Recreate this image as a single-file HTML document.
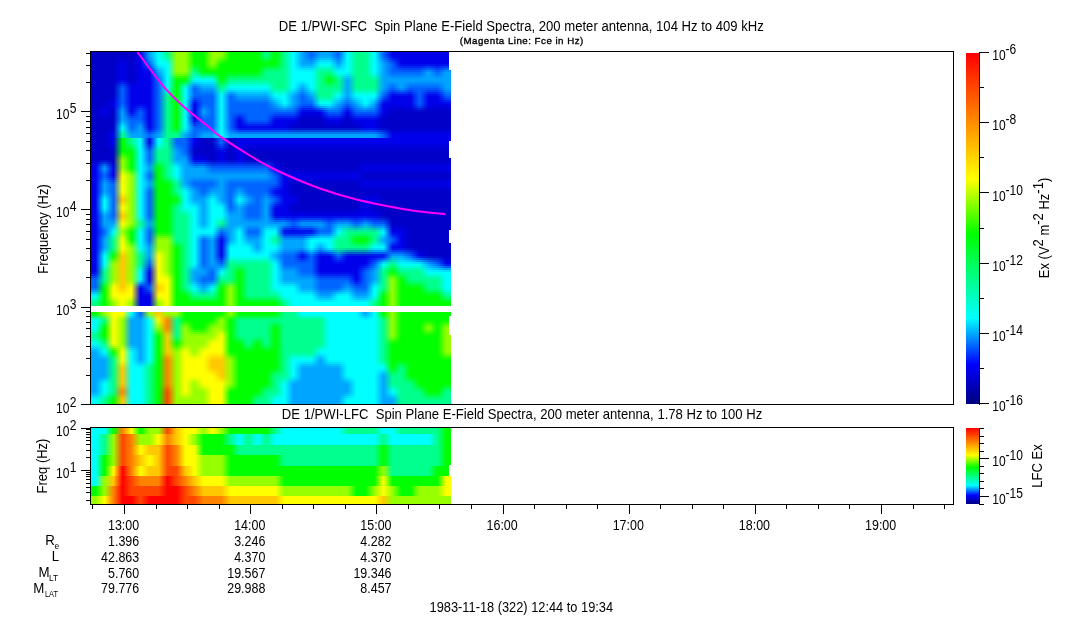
<!DOCTYPE html><html><head><meta charset="utf-8"><style>
html,body{margin:0;padding:0;background:#fff;width:1083px;height:620px;overflow:hidden}
svg{position:absolute;left:0;top:0;will-change:transform}
text{font-family:"Liberation Sans",sans-serif;fill:#000}
.r{position:absolute;left:91px;width:360px;height:2px}
.q{position:absolute;left:91px;width:360px}
.w{position:absolute;background:#fff}
</style></head><body>

<i class="r" style="top:52px;background:linear-gradient(90deg,#0000c8 4.5px,#0000c8 13.5px,#0000c8 22.5px,#0000c8 31.5px,#0000c8 40.5px,#0000eb 49.5px,#00a5ff 58.5px,#00ffff 67.5px,#00ff8c 76.5px,#96ff00 85.5px,#96ff00 94.5px,#00ff00 103.5px,#00ff00 112.5px,#96ff00 121.5px,#96ff00 130.5px,#00ff00 139.5px,#00ff00 148.5px,#00ff00 157.5px,#00ff00 166.5px,#00ff8c 175.5px,#00ff00 184.5px,#00ff8c 193.5px,#00ffff 202.5px,#00a5ff 211.5px,#0064ff 220.5px,#00a5ff 229.5px,#00a5ff 238.5px,#0064ff 247.5px,#00ffff 256.5px,#00ff8c 265.5px,#00ff8c 274.5px,#00ffff 283.5px,#0064ff 292.5px,#0000eb 301.5px,#0000eb 310.5px,#0000eb 319.5px,#0000eb 328.5px,#0000eb 337.5px,#0000eb 346.5px,#0000eb 355.5px)"></i>
<i class="r" style="top:54px;background:linear-gradient(90deg,#0000c8 4.5px,#0000c8 13.5px,#0000c8 22.5px,#0000c8 31.5px,#0000c8 40.5px,#0000eb 49.5px,#00a5ff 58.5px,#00ffff 67.5px,#00ff8c 76.5px,#96ff00 85.5px,#96ff00 94.5px,#00ff00 103.5px,#00ff00 112.5px,#96ff00 121.5px,#96ff00 130.5px,#00ff00 139.5px,#00ff00 148.5px,#00ff00 157.5px,#00ff00 166.5px,#00ff8c 175.5px,#00ff00 184.5px,#00ff8c 193.5px,#00ffff 202.5px,#00a5ff 211.5px,#0064ff 220.5px,#00a5ff 229.5px,#00a5ff 238.5px,#0064ff 247.5px,#00ffff 256.5px,#00ff8c 265.5px,#00ff8c 274.5px,#00ffff 283.5px,#0064ff 292.5px,#0000eb 301.5px,#0000eb 310.5px,#0000eb 319.5px,#0000eb 328.5px,#0000eb 337.5px,#0000eb 346.5px,#0000eb 355.5px)"></i>
<i class="r" style="top:56px;background:linear-gradient(90deg,#0000c8 4.5px,#0000c8 13.5px,#0000c8 22.5px,#0000cc 31.5px,#0000c8 40.5px,#0000eb 49.5px,#009dff 58.5px,#00ffff 67.5px,#00ff9a 76.5px,#96ff00 85.5px,#96ff00 94.5px,#00ff00 103.5px,#00ff00 112.5px,#96ff00 121.5px,#83ff00 130.5px,#00ff00 139.5px,#00ff00 148.5px,#00ff00 157.5px,#00ff00 166.5px,#00ff7a 175.5px,#00ff00 184.5px,#00ff8c 193.5px,#00ffff 202.5px,#00a5ff 211.5px,#006cff 220.5px,#00b0ff 229.5px,#00b0ff 238.5px,#006cff 247.5px,#00ffff 256.5px,#00ff8c 265.5px,#00ff8c 274.5px,#00ffff 283.5px,#006cff 292.5px,#000cee 301.5px,#0000eb 310.5px,#0000eb 319.5px,#0000eb 328.5px,#0000eb 337.5px,#0000eb 346.5px,#0000eb 355.5px)"></i>
<i class="r" style="top:58px;background:linear-gradient(90deg,#0000c8 4.5px,#0000c8 13.5px,#0000c8 22.5px,#0000d5 31.5px,#0000c8 40.5px,#0000eb 49.5px,#008dff 58.5px,#00ffff 67.5px,#00ffb7 76.5px,#96ff00 85.5px,#96ff00 94.5px,#00ff00 103.5px,#00ff00 112.5px,#96ff00 121.5px,#5eff00 130.5px,#00ff00 139.5px,#00ff00 148.5px,#00ff00 157.5px,#00ff00 166.5px,#00ff58 175.5px,#00ff00 184.5px,#00ff8c 193.5px,#00ffff 202.5px,#00a5ff 211.5px,#007cff 220.5px,#00c7ff 229.5px,#00c7ff 238.5px,#007cff 247.5px,#00ffff 256.5px,#00ff8c 265.5px,#00ff8c 274.5px,#00ffff 283.5px,#007cff 292.5px,#0026f2 301.5px,#0000eb 310.5px,#0000eb 319.5px,#0000eb 328.5px,#0000eb 337.5px,#0000eb 346.5px,#0000eb 355.5px)"></i>
<i class="r" style="top:60px;background:linear-gradient(90deg,#0000c8 4.5px,#0000c8 13.5px,#0000c8 22.5px,#0000de 31.5px,#0000c8 40.5px,#0000eb 49.5px,#007cff 58.5px,#00ffff 67.5px,#00ffd4 76.5px,#96ff00 85.5px,#96ff00 94.5px,#00ff00 103.5px,#00ff00 112.5px,#96ff00 121.5px,#38ff00 130.5px,#00ff00 139.5px,#00ff00 148.5px,#00ff00 157.5px,#00ff00 166.5px,#00ff34 175.5px,#00ff00 184.5px,#00ff8c 193.5px,#00ffff 202.5px,#00a5ff 211.5px,#008dff 220.5px,#00ddff 229.5px,#00ddff 238.5px,#008dff 247.5px,#00ffff 256.5px,#00ff8c 265.5px,#00ff8c 274.5px,#00ffff 283.5px,#008dff 292.5px,#003ef8 301.5px,#0000eb 310.5px,#0000eb 319.5px,#0000eb 328.5px,#0000eb 337.5px,#0000eb 346.5px,#0000eb 355.5px)"></i>
<i class="r" style="top:62px;background:linear-gradient(90deg,#0000c8 4.5px,#0000c8 13.5px,#0000c8 22.5px,#0000e7 31.5px,#0000c8 40.5px,#0000eb 49.5px,#006cff 58.5px,#00ffff 67.5px,#00fff1 76.5px,#96ff00 85.5px,#96ff00 94.5px,#00ff00 103.5px,#00ff00 112.5px,#96ff00 121.5px,#13ff00 130.5px,#00ff00 139.5px,#00ff00 148.5px,#00ff00 157.5px,#00ff00 166.5px,#00ff12 175.5px,#00ff00 184.5px,#00ff8c 193.5px,#00ffff 202.5px,#00a5ff 211.5px,#009dff 220.5px,#00f4ff 229.5px,#00f4ff 238.5px,#009dff 247.5px,#00ffff 256.5px,#00ff8c 265.5px,#00ff8c 274.5px,#00ffff 283.5px,#009dff 292.5px,#0058fc 301.5px,#0000eb 310.5px,#0000eb 319.5px,#0000eb 328.5px,#0000eb 337.5px,#0000eb 346.5px,#0000eb 355.5px)"></i>
<i class="r" style="top:64px;background:linear-gradient(90deg,#0000c8 4.5px,#0000c8 13.5px,#0000c8 22.5px,#0000eb 31.5px,#0000c8 40.5px,#0000eb 49.5px,#0058fc 58.5px,#00f4ff 67.5px,#00ffff 76.5px,#96ff00 85.5px,#96ff00 94.5px,#00ff12 103.5px,#00ff00 112.5px,#83ff00 121.5px,#00ff00 130.5px,#00ff00 139.5px,#00ff00 148.5px,#00ff00 157.5px,#00ff00 166.5px,#00ff12 175.5px,#00ff12 184.5px,#00ff8c 193.5px,#00ffff 202.5px,#00b0ff 211.5px,#00b0ff 220.5px,#00fff1 229.5px,#00fff1 238.5px,#00b0ff 247.5px,#00ffff 256.5px,#00ff8c 265.5px,#00ff8c 274.5px,#00ffff 283.5px,#00a5ff 292.5px,#0064ff 301.5px,#000cee 310.5px,#000cee 319.5px,#000cee 328.5px,#0015ee 337.5px,#000cee 346.5px,#0015ee 355.5px)"></i>
<i class="r" style="top:66px;background:linear-gradient(90deg,#0000c8 4.5px,#0000c8 13.5px,#0000c8 22.5px,#0000eb 31.5px,#0000c8 40.5px,#0000eb 49.5px,#003ef8 58.5px,#00ddff 67.5px,#00ffff 76.5px,#96ff00 85.5px,#96ff00 94.5px,#00ff34 103.5px,#00ff00 112.5px,#5eff00 121.5px,#00ff00 130.5px,#00ff00 139.5px,#00ff00 148.5px,#00ff00 157.5px,#00ff00 166.5px,#00ff34 175.5px,#00ff34 184.5px,#00ff8c 193.5px,#00ffff 202.5px,#00c7ff 211.5px,#00c7ff 220.5px,#00ffd4 229.5px,#00ffd4 238.5px,#00c7ff 247.5px,#00ffff 256.5px,#00ff8c 265.5px,#00ff8c 274.5px,#00ffff 283.5px,#00a5ff 292.5px,#0064ff 301.5px,#0026f2 310.5px,#0026f2 319.5px,#0026f2 328.5px,#003ef2 337.5px,#0026f2 346.5px,#003ef2 355.5px)"></i>
<i class="r" style="top:68px;background:linear-gradient(90deg,#0000c8 4.5px,#0000c8 13.5px,#0000c8 22.5px,#0000eb 31.5px,#0000c8 40.5px,#0000eb 49.5px,#0026f2 58.5px,#00c7ff 67.5px,#00ffff 76.5px,#96ff00 85.5px,#96ff00 94.5px,#00ff58 103.5px,#00ff00 112.5px,#38ff00 121.5px,#00ff00 130.5px,#00ff00 139.5px,#00ff00 148.5px,#00ff00 157.5px,#00ff00 166.5px,#00ff58 175.5px,#00ff58 184.5px,#00ff8c 193.5px,#00ffff 202.5px,#00ddff 211.5px,#00ddff 220.5px,#00ffb7 229.5px,#00ffb7 238.5px,#00ddff 247.5px,#00ffff 256.5px,#00ff8c 265.5px,#00ff8c 274.5px,#00ffff 283.5px,#00a5ff 292.5px,#0064ff 301.5px,#003ef8 310.5px,#003ef8 319.5px,#003ef8 328.5px,#0067f8 337.5px,#003ef8 346.5px,#0067f8 355.5px)"></i>
<i class="r" style="top:70px;background:linear-gradient(90deg,#0000c8 4.5px,#0000c8 13.5px,#0000c8 22.5px,#0000eb 31.5px,#0000c8 40.5px,#0000eb 49.5px,#000cee 58.5px,#00b0ff 67.5px,#00ffff 76.5px,#96ff00 85.5px,#96ff00 94.5px,#00ff7a 103.5px,#00ff00 112.5px,#13ff00 121.5px,#00ff00 130.5px,#00ff00 139.5px,#00ff00 148.5px,#00ff00 157.5px,#00ff00 166.5px,#00ff7a 175.5px,#00ff7a 184.5px,#00ff8c 193.5px,#00ffff 202.5px,#00f4ff 211.5px,#00f4ff 220.5px,#00ff9a 229.5px,#00ff9a 238.5px,#00f4ff 247.5px,#00ffff 256.5px,#00ff8c 265.5px,#00ff8c 274.5px,#00ffff 283.5px,#00a5ff 292.5px,#0064ff 301.5px,#0058fc 310.5px,#0058fc 319.5px,#0058fc 328.5px,#0090fc 337.5px,#0058fc 346.5px,#0090fc 355.5px)"></i>
<i class="r" style="top:72px;background:linear-gradient(90deg,#0000c8 4.5px,#0000c8 13.5px,#0000c8 22.5px,#0000eb 31.5px,#0000c8 40.5px,#0000eb 49.5px,#0000eb 58.5px,#009dff 67.5px,#00ffff 76.5px,#83ff00 85.5px,#83ff00 94.5px,#00ff9a 103.5px,#00ff20 112.5px,#00ff20 121.5px,#00ff00 130.5px,#00ff12 139.5px,#00ff12 148.5px,#00ff12 157.5px,#00ff12 166.5px,#00ff8c 175.5px,#00ff8c 184.5px,#00ff8c 193.5px,#00ffff 202.5px,#00ffff 211.5px,#00ffff 220.5px,#00ff8c 229.5px,#00ff7a 238.5px,#00fff1 247.5px,#00f4ff 256.5px,#00ff8c 265.5px,#00ff8c 274.5px,#00fff1 283.5px,#00a5ff 292.5px,#006cff 301.5px,#006cff 310.5px,#006cff 319.5px,#006cff 328.5px,#00a5ff 337.5px,#006cff 346.5px,#00a5ff 355.5px)"></i>
<i class="r" style="top:74px;background:linear-gradient(90deg,#0000c8 4.5px,#0000c8 13.5px,#0000c8 22.5px,#0000eb 31.5px,#0000c8 40.5px,#0000eb 49.5px,#0000eb 58.5px,#008dff 67.5px,#00ffff 76.5px,#5eff00 85.5px,#5eff00 94.5px,#00ffb7 103.5px,#00ff60 112.5px,#00ff60 121.5px,#00ff00 130.5px,#00ff34 139.5px,#00ff34 148.5px,#00ff34 157.5px,#00ff34 166.5px,#00ff8c 175.5px,#00ff8c 184.5px,#00ff8c 193.5px,#00ffff 202.5px,#00ffff 211.5px,#00ffff 220.5px,#00ff8c 229.5px,#00ff58 238.5px,#00ffd4 247.5px,#00ddff 256.5px,#00ff8c 265.5px,#00ff8c 274.5px,#00ffd4 283.5px,#00a5ff 292.5px,#007cff 301.5px,#007cff 310.5px,#007cff 319.5px,#007cff 328.5px,#00a5ff 337.5px,#007cff 346.5px,#00a5ff 355.5px)"></i>
<i class="r" style="top:76px;background:linear-gradient(90deg,#0000c8 4.5px,#0000c8 13.5px,#0000c8 22.5px,#0000eb 31.5px,#0000c8 40.5px,#0000eb 49.5px,#0000eb 58.5px,#007cff 67.5px,#00ffff 76.5px,#38ff00 85.5px,#38ff00 94.5px,#00ffd4 103.5px,#00ff9f 112.5px,#00ff9f 121.5px,#00ff00 130.5px,#00ff58 139.5px,#00ff58 148.5px,#00ff58 157.5px,#00ff58 166.5px,#00ff8c 175.5px,#00ff8c 184.5px,#00ff8c 193.5px,#00ffff 202.5px,#00ffff 211.5px,#00ffff 220.5px,#00ff8c 229.5px,#00ff34 238.5px,#00ffb7 247.5px,#00c7ff 256.5px,#00ff8c 265.5px,#00ff8c 274.5px,#00ffb7 283.5px,#00a5ff 292.5px,#008dff 301.5px,#008dff 310.5px,#008dff 319.5px,#008dff 328.5px,#00a5ff 337.5px,#008dff 346.5px,#00a5ff 355.5px)"></i>
<i class="r" style="top:78px;background:linear-gradient(90deg,#0000c8 4.5px,#0000c8 13.5px,#0000c8 22.5px,#0000eb 31.5px,#0000c8 40.5px,#0000eb 49.5px,#0000eb 58.5px,#006cff 67.5px,#00ffff 76.5px,#13ff00 85.5px,#13ff00 94.5px,#00fff1 103.5px,#00ffdf 112.5px,#00ffdf 121.5px,#00ff00 130.5px,#00ff7a 139.5px,#00ff7a 148.5px,#00ff7a 157.5px,#00ff7a 166.5px,#00ff8c 175.5px,#00ff8c 184.5px,#00ff8c 193.5px,#00ffff 202.5px,#00ffff 211.5px,#00ffff 220.5px,#00ff8c 229.5px,#00ff12 238.5px,#00ff9a 247.5px,#00b0ff 256.5px,#00ff8c 265.5px,#00ff8c 274.5px,#00ff9a 283.5px,#00a5ff 292.5px,#009dff 301.5px,#009dff 310.5px,#009dff 319.5px,#009dff 328.5px,#00a5ff 337.5px,#009dff 346.5px,#00a5ff 355.5px)"></i>
<i class="r" style="top:80px;background:linear-gradient(90deg,#0000c8 4.5px,#0000c8 13.5px,#0000c8 22.5px,#000cee 31.5px,#0000cc 40.5px,#0000eb 49.5px,#0000eb 58.5px,#0064ff 67.5px,#00ffff 76.5px,#00ff00 85.5px,#00ff20 94.5px,#00ecff 103.5px,#00f4ff 112.5px,#00f4ff 121.5px,#00ff12 130.5px,#00ff9a 139.5px,#00ff9a 148.5px,#00ff9a 157.5px,#00ff9a 166.5px,#00ff9a 175.5px,#00ff8c 184.5px,#00ff8c 193.5px,#00ffff 202.5px,#00f4ff 211.5px,#00ffff 220.5px,#00ff8c 229.5px,#00ff12 238.5px,#00ff8c 247.5px,#00a5ff 256.5px,#00ff8c 265.5px,#00ff8c 274.5px,#00ff8c 283.5px,#00a5ff 292.5px,#009dff 301.5px,#00a5ff 310.5px,#009dff 319.5px,#009dff 328.5px,#009dff 337.5px,#009dff 346.5px,#00a5ff 355.5px)"></i>
<i class="r" style="top:82px;background:linear-gradient(90deg,#0000c8 4.5px,#0000c8 13.5px,#0000c8 22.5px,#0026f2 31.5px,#0000d5 40.5px,#0000eb 49.5px,#0000eb 58.5px,#0064ff 67.5px,#00ffff 76.5px,#00ff00 85.5px,#00ff60 94.5px,#00c5ff 103.5px,#00ddff 112.5px,#00ddff 121.5px,#00ff34 130.5px,#00ffb7 139.5px,#00ffb7 148.5px,#00ffb7 157.5px,#00ffb7 166.5px,#00ffb7 175.5px,#00ff8c 184.5px,#00ff8c 193.5px,#00ffff 202.5px,#00ddff 211.5px,#00ffff 220.5px,#00ff8c 229.5px,#00ff34 238.5px,#00ff8c 247.5px,#00a5ff 256.5px,#00ff8c 265.5px,#00ff8c 274.5px,#00ff8c 283.5px,#00a5ff 292.5px,#008dff 301.5px,#00a5ff 310.5px,#008dff 319.5px,#008dff 328.5px,#008dff 337.5px,#008dff 346.5px,#00a5ff 355.5px)"></i>
<i class="r" style="top:84px;background:linear-gradient(90deg,#0000c8 4.5px,#0000c8 13.5px,#0000c8 22.5px,#003ef8 31.5px,#0000de 40.5px,#0000eb 49.5px,#0000eb 58.5px,#0064ff 67.5px,#00ffff 76.5px,#00ff00 85.5px,#00ff9f 94.5px,#009eff 103.5px,#00c7ff 112.5px,#00c7ff 121.5px,#00ff58 130.5px,#00ffd4 139.5px,#00ffd4 148.5px,#00ffd4 157.5px,#00ffd4 166.5px,#00ffd4 175.5px,#00ff8c 184.5px,#00ff8c 193.5px,#00ffff 202.5px,#00c7ff 211.5px,#00ffff 220.5px,#00ff8c 229.5px,#00ff58 238.5px,#00ff8c 247.5px,#00a5ff 256.5px,#00ff8c 265.5px,#00ff8c 274.5px,#00ff8c 283.5px,#00a5ff 292.5px,#007cff 301.5px,#00a5ff 310.5px,#007cff 319.5px,#007cff 328.5px,#007cff 337.5px,#007cff 346.5px,#00a5ff 355.5px)"></i>
<i class="r" style="top:86px;background:linear-gradient(90deg,#0000c8 4.5px,#0000c8 13.5px,#0000c8 22.5px,#0058fc 31.5px,#0000e7 40.5px,#0000eb 49.5px,#0000eb 58.5px,#0064ff 67.5px,#00ffff 76.5px,#00ff00 85.5px,#00ffdf 94.5px,#0077ff 103.5px,#00b0ff 112.5px,#00b0ff 121.5px,#00ff7a 130.5px,#00fff1 139.5px,#00fff1 148.5px,#00fff1 157.5px,#00fff1 166.5px,#00fff1 175.5px,#00ff8c 184.5px,#00ff8c 193.5px,#00ffff 202.5px,#00b0ff 211.5px,#00ffff 220.5px,#00ff8c 229.5px,#00ff7a 238.5px,#00ff8c 247.5px,#00a5ff 256.5px,#00ff8c 265.5px,#00ff8c 274.5px,#00ff8c 283.5px,#00a5ff 292.5px,#006cff 301.5px,#00a5ff 310.5px,#006cff 319.5px,#006cff 328.5px,#006cff 337.5px,#006cff 346.5px,#00a5ff 355.5px)"></i>
<i class="r" style="top:88px;background:linear-gradient(90deg,#0000c8 4.5px,#0000c8 13.5px,#0000c8 22.5px,#0064ff 31.5px,#0000eb 40.5px,#0000eb 49.5px,#0000eb 58.5px,#0064ff 67.5px,#00fff1 76.5px,#00ff00 85.5px,#00ffff 94.5px,#0064ff 103.5px,#009dff 112.5px,#009dff 121.5px,#00ff9a 130.5px,#00ecff 139.5px,#00f4ff 148.5px,#00f4ff 157.5px,#00f4ff 166.5px,#00f4ff 175.5px,#00ff9a 184.5px,#00ff9a 193.5px,#00f4ff 202.5px,#009dff 211.5px,#00f4ff 220.5px,#00ff8c 229.5px,#00ff8c 238.5px,#00ff9a 247.5px,#00a5ff 256.5px,#00ff9a 265.5px,#00ff9a 274.5px,#00ff9a 283.5px,#009dff 292.5px,#0058fc 301.5px,#0090fc 310.5px,#0058fc 319.5px,#0064ff 328.5px,#0058fc 337.5px,#0058fc 346.5px,#009dff 355.5px)"></i>
<i class="r" style="top:90px;background:linear-gradient(90deg,#0000c8 4.5px,#0000c8 13.5px,#0000c8 22.5px,#0064ff 31.5px,#0000eb 40.5px,#0000eb 49.5px,#0000eb 58.5px,#0064ff 67.5px,#00ffd4 76.5px,#00ff00 85.5px,#00ffff 94.5px,#0064ff 103.5px,#008dff 112.5px,#008dff 121.5px,#00ffb7 130.5px,#00c5ff 139.5px,#00ddff 148.5px,#00ddff 157.5px,#00ddff 166.5px,#00ddff 175.5px,#00ffb7 184.5px,#00ffb7 193.5px,#00ddff 202.5px,#008dff 211.5px,#00ddff 220.5px,#00ff8c 229.5px,#00ff8c 238.5px,#00ffb7 247.5px,#00a5ff 256.5px,#00ffb7 265.5px,#00ffb7 274.5px,#00ffb7 283.5px,#008dff 292.5px,#003ef8 301.5px,#0067f8 310.5px,#003ef8 319.5px,#0064ff 328.5px,#003ef8 337.5px,#003ef8 346.5px,#008dff 355.5px)"></i>
<i class="r" style="top:92px;background:linear-gradient(90deg,#0000c8 4.5px,#0000c8 13.5px,#0000c8 22.5px,#0064ff 31.5px,#0000eb 40.5px,#0000eb 49.5px,#0000eb 58.5px,#0064ff 67.5px,#00ffb7 76.5px,#00ff00 85.5px,#00ffff 94.5px,#0064ff 103.5px,#007cff 112.5px,#007cff 121.5px,#00ffd4 130.5px,#009eff 139.5px,#00c7ff 148.5px,#00c7ff 157.5px,#00c7ff 166.5px,#00c7ff 175.5px,#00ffd4 184.5px,#00ffd4 193.5px,#00c7ff 202.5px,#007cff 211.5px,#00c7ff 220.5px,#00ff8c 229.5px,#00ff8c 238.5px,#00ffd4 247.5px,#00a5ff 256.5px,#00ffd4 265.5px,#00ffd4 274.5px,#00ffd4 283.5px,#007cff 292.5px,#0026f2 301.5px,#003ef2 310.5px,#0026f2 319.5px,#0064ff 328.5px,#0026f2 337.5px,#0026f2 346.5px,#007cff 355.5px)"></i>
<i class="r" style="top:94px;background:linear-gradient(90deg,#0000c8 4.5px,#0000c8 13.5px,#0000c8 22.5px,#0064ff 31.5px,#0000eb 40.5px,#0000eb 49.5px,#0000eb 58.5px,#0064ff 67.5px,#00ff9a 76.5px,#00ff00 85.5px,#00ffff 94.5px,#0064ff 103.5px,#006cff 112.5px,#006cff 121.5px,#00fff1 130.5px,#0077ff 139.5px,#00b0ff 148.5px,#00b0ff 157.5px,#00b0ff 166.5px,#00b0ff 175.5px,#00fff1 184.5px,#00fff1 193.5px,#00b0ff 202.5px,#006cff 211.5px,#00b0ff 220.5px,#00ff8c 229.5px,#00ff8c 238.5px,#00fff1 247.5px,#00a5ff 256.5px,#00fff1 265.5px,#00fff1 274.5px,#00fff1 283.5px,#006cff 292.5px,#000cee 301.5px,#0015ee 310.5px,#000cee 319.5px,#0064ff 328.5px,#000cee 337.5px,#000cee 346.5px,#006cff 355.5px)"></i>
<i class="r" style="top:96px;background:linear-gradient(90deg,#0000c8 4.5px,#0000c8 13.5px,#0000cc 22.5px,#0064ff 31.5px,#0000eb 40.5px,#0000eb 49.5px,#0000eb 58.5px,#0064ff 67.5px,#00ff8c 76.5px,#00ff00 85.5px,#00ffff 94.5px,#0058fc 103.5px,#0064ff 112.5px,#0064ff 121.5px,#00ffff 130.5px,#0064ff 139.5px,#009dff 148.5px,#009dff 157.5px,#009dff 166.5px,#009dff 175.5px,#00f4ff 184.5px,#00ffff 193.5px,#00a5ff 202.5px,#0064ff 211.5px,#009dff 220.5px,#00ff9a 229.5px,#00ff9a 238.5px,#00f4ff 247.5px,#009dff 256.5px,#00f4ff 265.5px,#00ffff 274.5px,#00f4ff 283.5px,#0058fc 292.5px,#0000eb 301.5px,#0000eb 310.5px,#0000eb 319.5px,#0064ff 328.5px,#0000eb 337.5px,#0000eb 346.5px,#0058fc 355.5px)"></i>
<i class="r" style="top:98px;background:linear-gradient(90deg,#0000c8 4.5px,#0000c8 13.5px,#0000d5 22.5px,#0064ff 31.5px,#0000eb 40.5px,#0000eb 49.5px,#0000eb 58.5px,#0064ff 67.5px,#00ff8c 76.5px,#00ff00 85.5px,#00ffff 94.5px,#003ef8 103.5px,#0064ff 112.5px,#0064ff 121.5px,#00ffff 130.5px,#0064ff 139.5px,#008dff 148.5px,#008dff 157.5px,#008dff 166.5px,#008dff 175.5px,#00ddff 184.5px,#00ffff 193.5px,#00a5ff 202.5px,#0064ff 211.5px,#008dff 220.5px,#00ffb7 229.5px,#00ffb7 238.5px,#00ddff 247.5px,#008dff 256.5px,#00ddff 265.5px,#00ffff 274.5px,#00ddff 283.5px,#003ef8 292.5px,#0000eb 301.5px,#0000eb 310.5px,#0000eb 319.5px,#0064ff 328.5px,#0000eb 337.5px,#0000eb 346.5px,#003ef8 355.5px)"></i>
<i class="r" style="top:100px;background:linear-gradient(90deg,#0000c8 4.5px,#0000c8 13.5px,#0000de 22.5px,#0064ff 31.5px,#0000eb 40.5px,#0000eb 49.5px,#0000eb 58.5px,#0064ff 67.5px,#00ff8c 76.5px,#00ff00 85.5px,#00ffff 94.5px,#0026f2 103.5px,#0064ff 112.5px,#0064ff 121.5px,#00ffff 130.5px,#0064ff 139.5px,#007cff 148.5px,#007cff 157.5px,#007cff 166.5px,#007cff 175.5px,#00c7ff 184.5px,#00ffff 193.5px,#00a5ff 202.5px,#0064ff 211.5px,#007cff 220.5px,#00ffd4 229.5px,#00ffd4 238.5px,#00c7ff 247.5px,#007cff 256.5px,#00c7ff 265.5px,#00ffff 274.5px,#00c7ff 283.5px,#0026f2 292.5px,#0000eb 301.5px,#0000eb 310.5px,#0000eb 319.5px,#0064ff 328.5px,#0000eb 337.5px,#0000eb 346.5px,#0026f2 355.5px)"></i>
<i class="r" style="top:102px;background:linear-gradient(90deg,#0000c8 4.5px,#0000c8 13.5px,#0000e7 22.5px,#0064ff 31.5px,#0000eb 40.5px,#0000eb 49.5px,#0000eb 58.5px,#0064ff 67.5px,#00ff8c 76.5px,#00ff00 85.5px,#00ffff 94.5px,#000cee 103.5px,#0064ff 112.5px,#0064ff 121.5px,#00ffff 130.5px,#0064ff 139.5px,#006cff 148.5px,#006cff 157.5px,#006cff 166.5px,#006cff 175.5px,#00b0ff 184.5px,#00ffff 193.5px,#00a5ff 202.5px,#0064ff 211.5px,#006cff 220.5px,#00fff1 229.5px,#00fff1 238.5px,#00b0ff 247.5px,#006cff 256.5px,#00b0ff 265.5px,#00ffff 274.5px,#00b0ff 283.5px,#000cee 292.5px,#0000eb 301.5px,#0000eb 310.5px,#0000eb 319.5px,#0064ff 328.5px,#0000eb 337.5px,#0000eb 346.5px,#000cee 355.5px)"></i>
<i class="r" style="top:104px;background:linear-gradient(90deg,#0000c8 4.5px,#0000cc 13.5px,#0000e7 22.5px,#006cff 31.5px,#0000eb 40.5px,#000cee 49.5px,#0000eb 58.5px,#0064ff 67.5px,#00ff8c 76.5px,#00ff00 85.5px,#00ffff 94.5px,#0000eb 103.5px,#006cff 112.5px,#0064ff 121.5px,#00ffff 130.5px,#0064ff 139.5px,#0064ff 148.5px,#0064ff 157.5px,#0064ff 166.5px,#0064ff 175.5px,#009dff 184.5px,#00ecff 193.5px,#009dff 202.5px,#0058fc 211.5px,#0058fc 220.5px,#00dffc 229.5px,#00ecff 238.5px,#009dff 247.5px,#0058fc 256.5px,#009dff 265.5px,#00ecff 274.5px,#009dff 283.5px,#0000eb 292.5px,#0000e7 301.5px,#0000e7 310.5px,#0000e7 319.5px,#0058f8 328.5px,#0000e7 337.5px,#0000e7 346.5px,#0000e7 355.5px)"></i>
<i class="r" style="top:106px;background:linear-gradient(90deg,#0000c8 4.5px,#0000d5 13.5px,#0000de 22.5px,#007cff 31.5px,#0000eb 40.5px,#0026f2 49.5px,#0000eb 58.5px,#0064ff 67.5px,#00ff8c 76.5px,#00ff00 85.5px,#00ffff 94.5px,#0000eb 103.5px,#007cff 112.5px,#0064ff 121.5px,#00ffff 130.5px,#0064ff 139.5px,#0064ff 148.5px,#0064ff 157.5px,#0064ff 166.5px,#0064ff 175.5px,#008dff 184.5px,#00c5ff 193.5px,#008dff 202.5px,#003ef8 211.5px,#003ef8 220.5px,#009ff8 229.5px,#00c5ff 238.5px,#008dff 247.5px,#003ef8 256.5px,#008dff 265.5px,#00c5ff 274.5px,#008dff 283.5px,#0000eb 292.5px,#0000de 301.5px,#0000de 310.5px,#0000de 319.5px,#003eea 328.5px,#0000de 337.5px,#0000de 346.5px,#0000de 355.5px)"></i>
<i class="r" style="top:108px;background:linear-gradient(90deg,#0000c8 4.5px,#0000de 13.5px,#0000d5 22.5px,#008dff 31.5px,#0000eb 40.5px,#003ef8 49.5px,#0000eb 58.5px,#0064ff 67.5px,#00ff8c 76.5px,#00ff00 85.5px,#00ffff 94.5px,#0000eb 103.5px,#008dff 112.5px,#0064ff 121.5px,#00ffff 130.5px,#0064ff 139.5px,#0064ff 148.5px,#0064ff 157.5px,#0064ff 166.5px,#0064ff 175.5px,#007cff 184.5px,#009eff 193.5px,#007cff 202.5px,#0026f2 211.5px,#0026f2 220.5px,#0060f2 229.5px,#009eff 238.5px,#007cff 247.5px,#0026f2 256.5px,#007cff 265.5px,#009eff 274.5px,#007cff 283.5px,#0000eb 292.5px,#0000d5 301.5px,#0000d5 310.5px,#0000d5 319.5px,#0026dd 328.5px,#0000d5 337.5px,#0000d5 346.5px,#0000d5 355.5px)"></i>
<i class="r" style="top:110px;background:linear-gradient(90deg,#0000c8 4.5px,#0000e7 13.5px,#0000cc 22.5px,#009dff 31.5px,#0000eb 40.5px,#0058fc 49.5px,#0000eb 58.5px,#0064ff 67.5px,#00ff8c 76.5px,#00ff00 85.5px,#00ffff 94.5px,#0000eb 103.5px,#009dff 112.5px,#0064ff 121.5px,#00ffff 130.5px,#0064ff 139.5px,#0064ff 148.5px,#0064ff 157.5px,#0064ff 166.5px,#0064ff 175.5px,#006cff 184.5px,#0077ff 193.5px,#006cff 202.5px,#000cee 211.5px,#000cee 220.5px,#0020ee 229.5px,#0077ff 238.5px,#006cff 247.5px,#000cee 256.5px,#006cff 265.5px,#0077ff 274.5px,#006cff 283.5px,#0000eb 292.5px,#0000cc 301.5px,#0000cc 310.5px,#0000cc 319.5px,#000ccf 328.5px,#0000cc 337.5px,#0000cc 346.5px,#0000cc 355.5px)"></i>
<i class="r" style="top:112px;background:linear-gradient(90deg,#0000c8 4.5px,#0000e7 13.5px,#0000c8 22.5px,#00a5ff 31.5px,#000cee 40.5px,#0064ff 49.5px,#0000eb 58.5px,#0064ff 67.5px,#00ff8c 76.5px,#00ff00 85.5px,#00ffff 94.5px,#0000eb 103.5px,#009dff 112.5px,#0064ff 121.5px,#00ffff 130.5px,#0064ff 139.5px,#0058fc 148.5px,#0064ff 157.5px,#0064ff 166.5px,#0064ff 175.5px,#0058fc 184.5px,#0058fc 193.5px,#0058fc 202.5px,#0000e7 211.5px,#0000e7 220.5px,#0000e7 229.5px,#0058fc 238.5px,#0058fc 247.5px,#0000e7 256.5px,#0058fc 265.5px,#0058fc 274.5px,#0058fc 283.5px,#0000e7 292.5px,#0000c8 301.5px,#0000c8 310.5px,#0000c8 319.5px,#0000c8 328.5px,#0000c8 337.5px,#0000c8 346.5px,#0000c8 355.5px)"></i>
<i class="r" style="top:114px;background:linear-gradient(90deg,#0000c8 4.5px,#0000de 13.5px,#0000c8 22.5px,#00a5ff 31.5px,#0026f2 40.5px,#0064ff 49.5px,#0000eb 58.5px,#0064ff 67.5px,#00ff8c 76.5px,#00ff00 85.5px,#00ffff 94.5px,#0000eb 103.5px,#008dff 112.5px,#0064ff 121.5px,#00ffff 130.5px,#0064ff 139.5px,#003ef8 148.5px,#0064ff 157.5px,#0064ff 166.5px,#0064ff 175.5px,#003ef8 184.5px,#003ef8 193.5px,#003ef8 202.5px,#0000de 211.5px,#0000de 220.5px,#0000de 229.5px,#003ef8 238.5px,#003ef8 247.5px,#0000de 256.5px,#003ef8 265.5px,#003ef8 274.5px,#003ef8 283.5px,#0000de 292.5px,#0000c8 301.5px,#0000c8 310.5px,#0000c8 319.5px,#0000c8 328.5px,#0000c8 337.5px,#0000c8 346.5px,#0000c8 355.5px)"></i>
<i class="r" style="top:116px;background:linear-gradient(90deg,#0000c8 4.5px,#0000d5 13.5px,#0000c8 22.5px,#00a5ff 31.5px,#003ef8 40.5px,#0064ff 49.5px,#0000eb 58.5px,#0064ff 67.5px,#00ff8c 76.5px,#00ff00 85.5px,#00ffff 94.5px,#0000eb 103.5px,#007cff 112.5px,#0064ff 121.5px,#00ffff 130.5px,#0064ff 139.5px,#0026f2 148.5px,#0064ff 157.5px,#0064ff 166.5px,#0064ff 175.5px,#0026f2 184.5px,#0026f2 193.5px,#0026f2 202.5px,#0000d5 211.5px,#0000d5 220.5px,#0000d5 229.5px,#0026f2 238.5px,#0026f2 247.5px,#0000d5 256.5px,#0026f2 265.5px,#0026f2 274.5px,#0026f2 283.5px,#0000d5 292.5px,#0000c8 301.5px,#0000c8 310.5px,#0000c8 319.5px,#0000c8 328.5px,#0000c8 337.5px,#0000c8 346.5px,#0000c8 355.5px)"></i>
<i class="r" style="top:118px;background:linear-gradient(90deg,#0000c8 4.5px,#0000cc 13.5px,#0000c8 22.5px,#00a5ff 31.5px,#0058fc 40.5px,#0064ff 49.5px,#0000eb 58.5px,#0064ff 67.5px,#00ff8c 76.5px,#00ff00 85.5px,#00ffff 94.5px,#0000eb 103.5px,#006cff 112.5px,#0064ff 121.5px,#00ffff 130.5px,#0064ff 139.5px,#000cee 148.5px,#0064ff 157.5px,#0064ff 166.5px,#0064ff 175.5px,#000cee 184.5px,#000cee 193.5px,#000cee 202.5px,#0000cc 211.5px,#0000cc 220.5px,#0000cc 229.5px,#000cee 238.5px,#000cee 247.5px,#0000cc 256.5px,#000cee 265.5px,#000cee 274.5px,#000cee 283.5px,#0000cc 292.5px,#0000c8 301.5px,#0000c8 310.5px,#0000c8 319.5px,#0000c8 328.5px,#0000c8 337.5px,#0000c8 346.5px,#0000c8 355.5px)"></i>
<i class="r" style="top:120px;background:linear-gradient(90deg,#0000c8 4.5px,#0000c8 13.5px,#0000c8 22.5px,#00b0ff 31.5px,#0064ff 40.5px,#006cff 49.5px,#0000eb 58.5px,#0064ff 67.5px,#00ff8c 76.5px,#00ff00 85.5px,#00ffff 94.5px,#000cee 103.5px,#0064ff 112.5px,#0064ff 121.5px,#00ffff 130.5px,#0064ff 139.5px,#0000eb 148.5px,#0058fc 157.5px,#0058fc 166.5px,#0058fc 175.5px,#0000eb 184.5px,#0000eb 193.5px,#0000e7 202.5px,#0000c8 211.5px,#0000c8 220.5px,#0000c8 229.5px,#0000e7 238.5px,#0000e7 247.5px,#0000c8 256.5px,#0000e7 265.5px,#0000eb 274.5px,#0000eb 283.5px,#0000c8 292.5px,#0000c8 301.5px,#0000c8 310.5px,#0000c8 319.5px,#0000c8 328.5px,#0000c8 337.5px,#0000c8 346.5px,#0000c8 355.5px)"></i>
<i class="r" style="top:122px;background:linear-gradient(90deg,#0000c8 4.5px,#0000c8 13.5px,#0000c8 22.5px,#00c7ff 31.5px,#0064ff 40.5px,#007cff 49.5px,#0000eb 58.5px,#0064ff 67.5px,#00ff8c 76.5px,#00ff00 85.5px,#00ffff 94.5px,#0026f2 103.5px,#0064ff 112.5px,#0064ff 121.5px,#00ffff 130.5px,#0064ff 139.5px,#0000eb 148.5px,#003ef8 157.5px,#003ef8 166.5px,#003ef8 175.5px,#0000eb 184.5px,#0000eb 193.5px,#0000de 202.5px,#0000c8 211.5px,#0000c8 220.5px,#0000c8 229.5px,#0000de 238.5px,#0000de 247.5px,#0000c8 256.5px,#0000de 265.5px,#0000eb 274.5px,#0000eb 283.5px,#0000c8 292.5px,#0000c8 301.5px,#0000c8 310.5px,#0000c8 319.5px,#0000c8 328.5px,#0000c8 337.5px,#0000c8 346.5px,#0000c8 355.5px)"></i>
<i class="r" style="top:124px;background:linear-gradient(90deg,#0000c8 4.5px,#0000c8 13.5px,#0000c8 22.5px,#00ddff 31.5px,#0064ff 40.5px,#008dff 49.5px,#0000eb 58.5px,#0064ff 67.5px,#00ff8c 76.5px,#00ff00 85.5px,#00ffff 94.5px,#003ef8 103.5px,#0064ff 112.5px,#0064ff 121.5px,#00ffff 130.5px,#0064ff 139.5px,#0000eb 148.5px,#0026f2 157.5px,#0026f2 166.5px,#0026f2 175.5px,#0000eb 184.5px,#0000eb 193.5px,#0000d5 202.5px,#0000c8 211.5px,#0000c8 220.5px,#0000c8 229.5px,#0000d5 238.5px,#0000d5 247.5px,#0000c8 256.5px,#0000d5 265.5px,#0000eb 274.5px,#0000eb 283.5px,#0000c8 292.5px,#0000c8 301.5px,#0000c8 310.5px,#0000c8 319.5px,#0000c8 328.5px,#0000c8 337.5px,#0000c8 346.5px,#0000c8 355.5px)"></i>
<i class="r" style="top:126px;background:linear-gradient(90deg,#0000c8 4.5px,#0000c8 13.5px,#0000c8 22.5px,#00f4ff 31.5px,#0064ff 40.5px,#009dff 49.5px,#0000eb 58.5px,#0064ff 67.5px,#00ff8c 76.5px,#00ff00 85.5px,#00ffff 94.5px,#0058fc 103.5px,#0064ff 112.5px,#0064ff 121.5px,#00ffff 130.5px,#0064ff 139.5px,#0000eb 148.5px,#000cee 157.5px,#000cee 166.5px,#000cee 175.5px,#0000eb 184.5px,#0000eb 193.5px,#0000cc 202.5px,#0000c8 211.5px,#0000c8 220.5px,#0000c8 229.5px,#0000cc 238.5px,#0000cc 247.5px,#0000c8 256.5px,#0000cc 265.5px,#0000eb 274.5px,#0000eb 283.5px,#0000c8 292.5px,#0000c8 301.5px,#0000c8 310.5px,#0000c8 319.5px,#0000c8 328.5px,#0000c8 337.5px,#0000c8 346.5px,#0000c8 355.5px)"></i>
<i class="r" style="top:128px;background:linear-gradient(90deg,#0000c8 4.5px,#0000c8 13.5px,#0000cd 22.5px,#00ffef 31.5px,#006dff 40.5px,#00a5ff 49.5px,#000eee 58.5px,#006dff 67.5px,#00ff8c 76.5px,#00ff14 85.5px,#00f2ff 94.5px,#0064ff 103.5px,#006dff 112.5px,#006dff 121.5px,#00ffff 130.5px,#006dff 139.5px,#0018ee 148.5px,#0018ee 157.5px,#0018ee 166.5px,#0018ee 175.5px,#0018ee 184.5px,#0018ee 193.5px,#0018d0 202.5px,#0018d0 211.5px,#0018d0 220.5px,#0018d0 229.5px,#0018d0 238.5px,#0018d0 247.5px,#0018d0 256.5px,#0018d0 265.5px,#0018ee 274.5px,#0018ee 283.5px,#000ed0 292.5px,#0000cd 301.5px,#0000cd 310.5px,#0000cd 319.5px,#0000cd 328.5px,#0000cd 337.5px,#0000cd 346.5px,#0000cd 355.5px)"></i>
<i class="r" style="top:130px;background:linear-gradient(90deg,#0000c8 4.5px,#0000c8 13.5px,#0000d7 22.5px,#00ffce 31.5px,#0080ff 40.5px,#00a5ff 49.5px,#002bf4 58.5px,#0080ff 67.5px,#00ff8c 76.5px,#00ff3c 85.5px,#00d8ff 94.5px,#0064ff 103.5px,#0080ff 112.5px,#0080ff 121.5px,#00ffff 130.5px,#0080ff 139.5px,#0047f4 148.5px,#0047f4 157.5px,#0047f4 166.5px,#0047f4 175.5px,#0047f4 184.5px,#0047f4 193.5px,#0047e0 202.5px,#0047e0 211.5px,#0047e0 220.5px,#0047e0 229.5px,#0047e0 238.5px,#0047e0 247.5px,#0047e0 256.5px,#0047e0 265.5px,#0047f4 274.5px,#0047f4 283.5px,#002be0 292.5px,#0000d7 301.5px,#0000d7 310.5px,#0000d7 319.5px,#0000d7 328.5px,#0000d7 337.5px,#0000d7 346.5px,#0000d7 355.5px)"></i>
<i class="r" style="top:132px;background:linear-gradient(90deg,#0000c8 4.5px,#0000c8 13.5px,#0000e1 22.5px,#00ffad 31.5px,#0092ff 40.5px,#00a5ff 49.5px,#0047f9 58.5px,#0092ff 67.5px,#00ff8c 76.5px,#00ff64 85.5px,#00bfff 94.5px,#0064ff 103.5px,#0092ff 112.5px,#0092ff 121.5px,#00ffff 130.5px,#0092ff 139.5px,#0076f9 148.5px,#0076f9 157.5px,#0076f9 166.5px,#0076f9 175.5px,#0076f9 184.5px,#0076f9 193.5px,#0076ef 202.5px,#0076ef 211.5px,#0076ef 220.5px,#0076ef 229.5px,#0076ef 238.5px,#0076ef 247.5px,#0076ef 256.5px,#0076ef 265.5px,#0076f9 274.5px,#0076f9 283.5px,#0047ef 292.5px,#0000e1 301.5px,#0000e1 310.5px,#0000e1 319.5px,#0000e1 328.5px,#0000e1 337.5px,#0000e1 346.5px,#0000e1 355.5px)"></i>
<i class="r" style="top:134px;background:linear-gradient(90deg,#0000c8 4.5px,#0000c8 13.5px,#0000eb 22.5px,#00ff8c 31.5px,#00a5ff 40.5px,#00a5ff 49.5px,#0064ff 58.5px,#00a5ff 67.5px,#00ff8c 76.5px,#00ff8c 85.5px,#00a5ff 94.5px,#0064ff 103.5px,#00a5ff 112.5px,#00a5ff 121.5px,#00ffff 130.5px,#00a5ff 139.5px,#00a5ff 148.5px,#00a5ff 157.5px,#00a5ff 166.5px,#00a5ff 175.5px,#00a5ff 184.5px,#00a5ff 193.5px,#00a5ff 202.5px,#00a5ff 211.5px,#00a5ff 220.5px,#00a5ff 229.5px,#00a5ff 238.5px,#00a5ff 247.5px,#00a5ff 256.5px,#00a5ff 265.5px,#00a5ff 274.5px,#00a5ff 283.5px,#0064ff 292.5px,#0000eb 301.5px,#0000eb 310.5px,#0000eb 319.5px,#0000eb 328.5px,#0000eb 337.5px,#0000eb 346.5px,#0000eb 355.5px)"></i>
<i class="r" style="top:136px;background:linear-gradient(90deg,#0000c8 4.5px,#0000c8 13.5px,#0000eb 22.5px,#00ff8c 31.5px,#00a5ff 40.5px,#00a5ff 49.5px,#0064ff 58.5px,#00a5ff 67.5px,#00ff8c 76.5px,#00ff8c 85.5px,#00a5ff 94.5px,#0064ff 103.5px,#00a5ff 112.5px,#00a5ff 121.5px,#00ffff 130.5px,#00a5ff 139.5px,#00a5ff 148.5px,#00a5ff 157.5px,#00a5ff 166.5px,#00a5ff 175.5px,#00a5ff 184.5px,#00a5ff 193.5px,#00a5ff 202.5px,#00a5ff 211.5px,#00a5ff 220.5px,#00a5ff 229.5px,#00a5ff 238.5px,#00a5ff 247.5px,#00a5ff 256.5px,#00a5ff 265.5px,#00a5ff 274.5px,#00a5ff 283.5px,#0064ff 292.5px,#0000eb 301.5px,#0000eb 310.5px,#0000eb 319.5px,#0000eb 328.5px,#0000eb 337.5px,#0000eb 346.5px,#0000eb 355.5px)"></i>
<i class="r" style="top:138px;background:linear-gradient(90deg,#0000c8 4.5px,#0000c8 13.5px,#0000eb 22.5px,#00ff00 31.5px,#00ff8c 40.5px,#00ffff 49.5px,#0000eb 58.5px,#00ffff 67.5px,#00ff8c 76.5px,#0064ff 85.5px,#0064ff 94.5px,#0000eb 103.5px,#0000c8 112.5px,#0000c8 121.5px,#0064ff 130.5px,#0000c8 139.5px,#0000eb 148.5px,#0000eb 157.5px,#0000eb 166.5px,#0000eb 175.5px,#0000eb 184.5px,#0000eb 193.5px,#0000eb 202.5px,#0000eb 211.5px,#0000eb 220.5px,#0000eb 229.5px,#0000eb 238.5px,#0000eb 247.5px,#0000eb 256.5px,#0000eb 265.5px,#0000eb 274.5px,#0000eb 283.5px,#0000eb 292.5px,#0000eb 301.5px,#0000eb 310.5px,#0000eb 319.5px,#0000eb 328.5px,#0000eb 337.5px,#0000eb 346.5px,#0000eb 355.5px)"></i>
<i class="r" style="top:140px;background:linear-gradient(90deg,#0000c8 4.5px,#0000c8 13.5px,#0000eb 22.5px,#00ff00 31.5px,#00ff8c 40.5px,#00ffff 49.5px,#0000eb 58.5px,#00ffff 67.5px,#00ff8c 76.5px,#0064ff 85.5px,#0064ff 94.5px,#0000eb 103.5px,#0000c8 112.5px,#0000c8 121.5px,#0064ff 130.5px,#0000c8 139.5px,#0000eb 148.5px,#0000eb 157.5px,#0000eb 166.5px,#0000eb 175.5px,#0000eb 184.5px,#0000eb 193.5px,#0000eb 202.5px,#0000eb 211.5px,#0000eb 220.5px,#0000eb 229.5px,#0000eb 238.5px,#0000eb 247.5px,#0000eb 256.5px,#0000eb 265.5px,#0000eb 274.5px,#0000eb 283.5px,#0000eb 292.5px,#0000eb 301.5px,#0000eb 310.5px,#0000eb 319.5px,#0000eb 328.5px,#0000eb 337.5px,#0000eb 346.5px,#0000eb 355.5px)"></i>
<i class="r" style="top:142px;background:linear-gradient(90deg,#0000c8 4.5px,#0000c8 13.5px,#0000eb 22.5px,#00ff00 31.5px,#00ff8c 40.5px,#00ffff 49.5px,#0000eb 58.5px,#00ffff 67.5px,#00ff8c 76.5px,#0064ff 85.5px,#0064ff 94.5px,#0000eb 103.5px,#0000c8 112.5px,#0000c8 121.5px,#0064ff 130.5px,#0000c8 139.5px,#0000eb 148.5px,#0000eb 157.5px,#0000eb 166.5px,#0000eb 175.5px,#0000eb 184.5px,#0000eb 193.5px,#0000eb 202.5px,#0000eb 211.5px,#0000eb 220.5px,#0000eb 229.5px,#0000eb 238.5px,#0000eb 247.5px,#0000eb 256.5px,#0000eb 265.5px,#0000eb 274.5px,#0000eb 283.5px,#0000eb 292.5px,#0000eb 301.5px,#0000eb 310.5px,#0000eb 319.5px,#0000eb 328.5px,#0000eb 337.5px,#0000eb 346.5px,#0000eb 355.5px)"></i>
<i class="r" style="top:144px;background:linear-gradient(90deg,#0000c8 4.5px,#0000c8 13.5px,#0000e3 22.5px,#00ff00 31.5px,#00ff6d 40.5px,#00ffff 49.5px,#0016ef 58.5px,#00ffe5 67.5px,#00ff8c 76.5px,#0072ff 85.5px,#0064ff 94.5px,#0000e3 103.5px,#0000c8 112.5px,#0000c8 121.5px,#004efb 130.5px,#0000c8 139.5px,#0000eb 148.5px,#0000e3 157.5px,#0000e3 166.5px,#0000e3 175.5px,#0000e3 184.5px,#0000e3 193.5px,#0000e3 202.5px,#0000e3 211.5px,#0000e3 220.5px,#0000e3 229.5px,#0000e3 238.5px,#0000e3 247.5px,#0000e3 256.5px,#0000e3 265.5px,#0000e3 274.5px,#0000e3 283.5px,#0000e3 292.5px,#0000e3 301.5px,#0000e3 310.5px,#0000e3 319.5px,#0000e3 328.5px,#0000e3 337.5px,#0000e3 346.5px,#0000e3 355.5px)"></i>
<i class="r" style="top:146px;background:linear-gradient(90deg,#0000c8 4.5px,#0000c8 13.5px,#0000db 22.5px,#00ff00 31.5px,#00ff4e 40.5px,#00ffff 49.5px,#002cf4 58.5px,#00ffcc 67.5px,#00ff8c 76.5px,#0081ff 85.5px,#0064ff 94.5px,#0000db 103.5px,#0000c8 112.5px,#0000c8 121.5px,#0038f6 130.5px,#0000c8 139.5px,#0000eb 148.5px,#0000db 157.5px,#0000db 166.5px,#0000db 175.5px,#0000db 184.5px,#0000db 193.5px,#0000db 202.5px,#0000db 211.5px,#0000db 220.5px,#0000db 229.5px,#0000db 238.5px,#0000db 247.5px,#0000db 256.5px,#0000db 265.5px,#0000db 274.5px,#0000db 283.5px,#0000db 292.5px,#0000db 301.5px,#0000db 310.5px,#0000db 319.5px,#0000db 328.5px,#0000db 337.5px,#0000db 346.5px,#0000db 355.5px)"></i>
<i class="r" style="top:148px;background:linear-gradient(90deg,#0000c8 4.5px,#0000c8 13.5px,#0000d4 22.5px,#00ff00 31.5px,#00ff2f 40.5px,#00ffff 49.5px,#0043f8 58.5px,#00ffb2 67.5px,#00ff8c 76.5px,#008fff 85.5px,#0064ff 94.5px,#0000d4 103.5px,#0000c8 112.5px,#0000c8 121.5px,#0021f2 130.5px,#0000c8 139.5px,#0000eb 148.5px,#0000d4 157.5px,#0000d4 166.5px,#0000d4 175.5px,#0000d4 184.5px,#0000d4 193.5px,#0000d4 202.5px,#0000d4 211.5px,#0000d4 220.5px,#0000d4 229.5px,#0000d4 238.5px,#0000d4 247.5px,#0000d4 256.5px,#0000d4 265.5px,#0000d4 274.5px,#0000d4 283.5px,#0000d4 292.5px,#0000d4 301.5px,#0000d4 310.5px,#0000d4 319.5px,#0000d4 328.5px,#0000d4 337.5px,#0000d4 346.5px,#0000d4 355.5px)"></i>
<i class="r" style="top:150px;background:linear-gradient(90deg,#0000c8 4.5px,#0000c8 13.5px,#0000cc 22.5px,#00ff00 31.5px,#00ff10 40.5px,#00ffff 49.5px,#0059fd 58.5px,#00ff99 67.5px,#00ff8c 76.5px,#009eff 85.5px,#0064ff 94.5px,#0000cc 103.5px,#0000c8 112.5px,#0000c8 121.5px,#000bed 130.5px,#0000c8 139.5px,#0000eb 148.5px,#0000cc 157.5px,#0000cc 166.5px,#0000cc 175.5px,#0000cc 184.5px,#0000cc 193.5px,#0000cc 202.5px,#0000cc 211.5px,#0000cc 220.5px,#0000cc 229.5px,#0000cc 238.5px,#0000cc 247.5px,#0000cc 256.5px,#0000cc 265.5px,#0000cc 274.5px,#0000cc 283.5px,#0000cc 292.5px,#0000cc 301.5px,#0000cc 310.5px,#0000cc 319.5px,#0000cc 328.5px,#0000cc 337.5px,#0000cc 346.5px,#0000cc 355.5px)"></i>
<i class="r" style="top:152px;background:linear-gradient(90deg,#0000c8 4.5px,#0000c8 13.5px,#0000c8 22.5px,#13ff00 31.5px,#00ff00 40.5px,#00ffff 49.5px,#0064ff 58.5px,#00ff8c 67.5px,#00ff8c 76.5px,#00a5ff 85.5px,#006cff 94.5px,#0000cc 103.5px,#0000cc 112.5px,#0000c8 121.5px,#0000eb 130.5px,#0000c8 139.5px,#0000eb 148.5px,#0000c8 157.5px,#0000c8 166.5px,#0000c8 175.5px,#0000c8 184.5px,#0000c8 193.5px,#0000c8 202.5px,#0000c8 211.5px,#0000c8 220.5px,#0000c8 229.5px,#0000c8 238.5px,#0000c8 247.5px,#0000c8 256.5px,#0000c8 265.5px,#0000c8 274.5px,#0000c8 283.5px,#0000c8 292.5px,#0000c8 301.5px,#0000c8 310.5px,#0000c8 319.5px,#0000c8 328.5px,#0000c8 337.5px,#0000c8 346.5px,#0000c8 355.5px)"></i>
<i class="r" style="top:154px;background:linear-gradient(90deg,#0000c8 4.5px,#0000c8 13.5px,#0000c8 22.5px,#38ff00 31.5px,#00ff00 40.5px,#00ffff 49.5px,#0064ff 58.5px,#00ff8c 67.5px,#00ff8c 76.5px,#00a5ff 85.5px,#007cff 94.5px,#0000d5 103.5px,#0000d5 112.5px,#0000c8 121.5px,#0000eb 130.5px,#0000c8 139.5px,#0000eb 148.5px,#0000c8 157.5px,#0000c8 166.5px,#0000c8 175.5px,#0000c8 184.5px,#0000c8 193.5px,#0000c8 202.5px,#0000c8 211.5px,#0000c8 220.5px,#0000c8 229.5px,#0000c8 238.5px,#0000c8 247.5px,#0000c8 256.5px,#0000c8 265.5px,#0000c8 274.5px,#0000c8 283.5px,#0000c8 292.5px,#0000c8 301.5px,#0000c8 310.5px,#0000c8 319.5px,#0000c8 328.5px,#0000c8 337.5px,#0000c8 346.5px,#0000c8 355.5px)"></i>
<i class="r" style="top:156px;background:linear-gradient(90deg,#0000c8 4.5px,#0000c8 13.5px,#0000c8 22.5px,#5eff00 31.5px,#00ff00 40.5px,#00ffff 49.5px,#0064ff 58.5px,#00ff8c 67.5px,#00ff8c 76.5px,#00a5ff 85.5px,#008dff 94.5px,#0000de 103.5px,#0000de 112.5px,#0000c8 121.5px,#0000eb 130.5px,#0000c8 139.5px,#0000eb 148.5px,#0000c8 157.5px,#0000c8 166.5px,#0000c8 175.5px,#0000c8 184.5px,#0000c8 193.5px,#0000c8 202.5px,#0000c8 211.5px,#0000c8 220.5px,#0000c8 229.5px,#0000c8 238.5px,#0000c8 247.5px,#0000c8 256.5px,#0000c8 265.5px,#0000c8 274.5px,#0000c8 283.5px,#0000c8 292.5px,#0000c8 301.5px,#0000c8 310.5px,#0000c8 319.5px,#0000c8 328.5px,#0000c8 337.5px,#0000c8 346.5px,#0000c8 355.5px)"></i>
<i class="r" style="top:158px;background:linear-gradient(90deg,#0000c8 4.5px,#0000c8 13.5px,#0000c8 22.5px,#83ff00 31.5px,#00ff00 40.5px,#00ffff 49.5px,#0064ff 58.5px,#00ff8c 67.5px,#00ff8c 76.5px,#00a5ff 85.5px,#009dff 94.5px,#0000e7 103.5px,#0000e7 112.5px,#0000c8 121.5px,#0000eb 130.5px,#0000c8 139.5px,#0000eb 148.5px,#0000c8 157.5px,#0000c8 166.5px,#0000c8 175.5px,#0000c8 184.5px,#0000c8 193.5px,#0000c8 202.5px,#0000c8 211.5px,#0000c8 220.5px,#0000c8 229.5px,#0000c8 238.5px,#0000c8 247.5px,#0000c8 256.5px,#0000c8 265.5px,#0000c8 274.5px,#0000c8 283.5px,#0000c8 292.5px,#0000c8 301.5px,#0000c8 310.5px,#0000c8 319.5px,#0000c8 328.5px,#0000c8 337.5px,#0000c8 346.5px,#0000c8 355.5px)"></i>
<i class="r" style="top:160px;background:linear-gradient(90deg,#0000cc 4.5px,#0015cf 13.5px,#0000cc 22.5px,#96ff00 31.5px,#00ff00 40.5px,#00ffff 49.5px,#006cff 58.5px,#00ff7a 67.5px,#00ff8c 76.5px,#00b0ff 85.5px,#00a5ff 94.5px,#0015ee 103.5px,#0015ee 112.5px,#000ccf 121.5px,#000cee 130.5px,#000ccf 139.5px,#000cee 148.5px,#000ccf 157.5px,#000ccf 166.5px,#000ccf 175.5px,#0000cc 184.5px,#0000c8 193.5px,#0000c8 202.5px,#0000c8 211.5px,#0000c8 220.5px,#0000c8 229.5px,#0000c8 238.5px,#0000c8 247.5px,#0000c8 256.5px,#0000c8 265.5px,#0000cc 274.5px,#0000cc 283.5px,#0000cc 292.5px,#0000cc 301.5px,#0000cc 310.5px,#0000cc 319.5px,#0000cc 328.5px,#0000cc 337.5px,#0000cc 346.5px,#0000cc 355.5px)"></i>
<i class="r" style="top:162px;background:linear-gradient(90deg,#0000d5 4.5px,#003edd 13.5px,#0000d5 22.5px,#96ff00 31.5px,#00ff00 40.5px,#00ffff 49.5px,#007cff 58.5px,#00ff58 67.5px,#00ff8c 76.5px,#00c7ff 85.5px,#00a5ff 94.5px,#003ef2 103.5px,#003ef2 112.5px,#0026dd 121.5px,#0026f2 130.5px,#0026dd 139.5px,#0026f2 148.5px,#0026dd 157.5px,#0026dd 166.5px,#0026dd 175.5px,#0000d5 184.5px,#0000c8 193.5px,#0000c8 202.5px,#0000c8 211.5px,#0000c8 220.5px,#0000c8 229.5px,#0000c8 238.5px,#0000c8 247.5px,#0000c8 256.5px,#0000c8 265.5px,#0000d5 274.5px,#0000d5 283.5px,#0000d5 292.5px,#0000d5 301.5px,#0000d5 310.5px,#0000d5 319.5px,#0000d5 328.5px,#0000d5 337.5px,#0000d5 346.5px,#0000d5 355.5px)"></i>
<i class="r" style="top:164px;background:linear-gradient(90deg,#0000de 4.5px,#0067ea 13.5px,#0000de 22.5px,#96ff00 31.5px,#00ff00 40.5px,#00ffff 49.5px,#008dff 58.5px,#00ff34 67.5px,#00ff8c 76.5px,#00ddff 85.5px,#00a5ff 94.5px,#0067f8 103.5px,#0067f8 112.5px,#003eea 121.5px,#003ef8 130.5px,#003eea 139.5px,#003ef8 148.5px,#003eea 157.5px,#003eea 166.5px,#003eea 175.5px,#0000de 184.5px,#0000c8 193.5px,#0000c8 202.5px,#0000c8 211.5px,#0000c8 220.5px,#0000c8 229.5px,#0000c8 238.5px,#0000c8 247.5px,#0000c8 256.5px,#0000c8 265.5px,#0000de 274.5px,#0000de 283.5px,#0000de 292.5px,#0000de 301.5px,#0000de 310.5px,#0000de 319.5px,#0000de 328.5px,#0000de 337.5px,#0000de 346.5px,#0000de 355.5px)"></i>
<i class="r" style="top:166px;background:linear-gradient(90deg,#0000e7 4.5px,#0090f8 13.5px,#0000e7 22.5px,#96ff00 31.5px,#00ff00 40.5px,#00ffff 49.5px,#009dff 58.5px,#00ff12 67.5px,#00ff8c 76.5px,#00f4ff 85.5px,#00a5ff 94.5px,#0090fc 103.5px,#0090fc 112.5px,#0058f8 121.5px,#0058fc 130.5px,#0058f8 139.5px,#0058fc 148.5px,#0058f8 157.5px,#0058f8 166.5px,#0058f8 175.5px,#0000e7 184.5px,#0000c8 193.5px,#0000c8 202.5px,#0000c8 211.5px,#0000c8 220.5px,#0000c8 229.5px,#0000c8 238.5px,#0000c8 247.5px,#0000c8 256.5px,#0000c8 265.5px,#0000e7 274.5px,#0000e7 283.5px,#0000e7 292.5px,#0000e7 301.5px,#0000e7 310.5px,#0000e7 319.5px,#0000e7 328.5px,#0000e7 337.5px,#0000e7 346.5px,#0000e7 355.5px)"></i>
<i class="r" style="top:168px;background:linear-gradient(90deg,#0000eb 4.5px,#009dff 13.5px,#0000eb 22.5px,#a3ff00 31.5px,#13ff00 40.5px,#00ffff 49.5px,#009dff 58.5px,#00ff00 67.5px,#00ff8c 76.5px,#00ffff 85.5px,#00a5ff 94.5px,#00a5ff 103.5px,#00a5ff 112.5px,#006cff 121.5px,#006cff 130.5px,#006cff 139.5px,#006cff 148.5px,#006cff 157.5px,#006cff 166.5px,#006cff 175.5px,#000cee 184.5px,#0000cc 193.5px,#0000cc 202.5px,#0000cc 211.5px,#0000cc 220.5px,#0000cc 229.5px,#0000cc 238.5px,#0000cc 247.5px,#0000cc 256.5px,#0000cc 265.5px,#0000e7 274.5px,#0000e7 283.5px,#0000e7 292.5px,#0000e7 301.5px,#0000e7 310.5px,#0000e7 319.5px,#0000e7 328.5px,#0000e7 337.5px,#0000e7 346.5px,#0000e7 355.5px)"></i>
<i class="r" style="top:170px;background:linear-gradient(90deg,#0000eb 4.5px,#008dff 13.5px,#0000eb 22.5px,#bdff00 31.5px,#38ff00 40.5px,#00ffff 49.5px,#008dff 58.5px,#00ff00 67.5px,#00ff8c 76.5px,#00ffff 85.5px,#00a5ff 94.5px,#00a5ff 103.5px,#00a5ff 112.5px,#007cff 121.5px,#007cff 130.5px,#007cff 139.5px,#007cff 148.5px,#007cff 157.5px,#007cff 166.5px,#007cff 175.5px,#0026f2 184.5px,#0000d5 193.5px,#0000d5 202.5px,#0000d5 211.5px,#0000d5 220.5px,#0000d5 229.5px,#0000d5 238.5px,#0000d5 247.5px,#0000d5 256.5px,#0000d5 265.5px,#0000de 274.5px,#0000de 283.5px,#0000de 292.5px,#0000de 301.5px,#0000de 310.5px,#0000de 319.5px,#0000de 328.5px,#0000de 337.5px,#0000de 346.5px,#0000de 355.5px)"></i>
<i class="r" style="top:172px;background:linear-gradient(90deg,#0000eb 4.5px,#007cff 13.5px,#0000eb 22.5px,#d8ff00 31.5px,#5eff00 40.5px,#00ffff 49.5px,#007cff 58.5px,#00ff00 67.5px,#00ff8c 76.5px,#00ffff 85.5px,#00a5ff 94.5px,#00a5ff 103.5px,#00a5ff 112.5px,#008dff 121.5px,#008dff 130.5px,#008dff 139.5px,#008dff 148.5px,#008dff 157.5px,#008dff 166.5px,#008dff 175.5px,#003ef8 184.5px,#0000de 193.5px,#0000de 202.5px,#0000de 211.5px,#0000de 220.5px,#0000de 229.5px,#0000de 238.5px,#0000de 247.5px,#0000de 256.5px,#0000de 265.5px,#0000d5 274.5px,#0000d5 283.5px,#0000d5 292.5px,#0000d5 301.5px,#0000d5 310.5px,#0000d5 319.5px,#0000d5 328.5px,#0000d5 337.5px,#0000d5 346.5px,#0000d5 355.5px)"></i>
<i class="r" style="top:174px;background:linear-gradient(90deg,#0000eb 4.5px,#006cff 13.5px,#0000eb 22.5px,#f2ff00 31.5px,#83ff00 40.5px,#00ffff 49.5px,#006cff 58.5px,#00ff00 67.5px,#00ff8c 76.5px,#00ffff 85.5px,#00a5ff 94.5px,#00a5ff 103.5px,#00a5ff 112.5px,#009dff 121.5px,#009dff 130.5px,#009dff 139.5px,#009dff 148.5px,#009dff 157.5px,#009dff 166.5px,#009dff 175.5px,#0058fc 184.5px,#0000e7 193.5px,#0000e7 202.5px,#0000e7 211.5px,#0000e7 220.5px,#0000e7 229.5px,#0000e7 238.5px,#0000e7 247.5px,#0000e7 256.5px,#0000e7 265.5px,#0000cc 274.5px,#0000cc 283.5px,#0000cc 292.5px,#0000cc 301.5px,#0000cc 310.5px,#0000cc 319.5px,#0000cc 328.5px,#0000cc 337.5px,#0000cc 346.5px,#0000cc 355.5px)"></i>
<i class="r" style="top:176px;background:linear-gradient(90deg,#0000eb 4.5px,#006cff 13.5px,#000cee 22.5px,#ffff00 31.5px,#96ff00 40.5px,#00ffff 49.5px,#006cff 58.5px,#00ff00 67.5px,#00ff7a 76.5px,#00fff1 85.5px,#00a5ff 94.5px,#009dff 103.5px,#009dff 112.5px,#009dff 121.5px,#00a5ff 130.5px,#009dff 139.5px,#009dff 148.5px,#009dff 157.5px,#009dff 166.5px,#009dff 175.5px,#0064ff 184.5px,#0000eb 193.5px,#0000e7 202.5px,#0000e7 211.5px,#0000e7 220.5px,#0000e7 229.5px,#0000e7 238.5px,#0000e7 247.5px,#0000e7 256.5px,#0000e7 265.5px,#0000cc 274.5px,#0000cc 283.5px,#0000cc 292.5px,#0000cc 301.5px,#0000cc 310.5px,#0000cc 319.5px,#0000cc 328.5px,#0000cc 337.5px,#0000cc 346.5px,#0000cc 355.5px)"></i>
<i class="r" style="top:178px;background:linear-gradient(90deg,#0000eb 4.5px,#007cff 13.5px,#0026f2 22.5px,#ffff00 31.5px,#96ff00 40.5px,#00ffff 49.5px,#007cff 58.5px,#00ff00 67.5px,#00ff58 76.5px,#00ffd4 85.5px,#00a5ff 94.5px,#008dff 103.5px,#008dff 112.5px,#008dff 121.5px,#00a5ff 130.5px,#008dff 139.5px,#008dff 148.5px,#008dff 157.5px,#008dff 166.5px,#008dff 175.5px,#0064ff 184.5px,#0000eb 193.5px,#0000de 202.5px,#0000de 211.5px,#0000de 220.5px,#0000de 229.5px,#0000de 238.5px,#0000de 247.5px,#0000de 256.5px,#0000de 265.5px,#0000d5 274.5px,#0000d5 283.5px,#0000d5 292.5px,#0000d5 301.5px,#0000d5 310.5px,#0000d5 319.5px,#0000d5 328.5px,#0000d5 337.5px,#0000d5 346.5px,#0000d5 355.5px)"></i>
<i class="r" style="top:180px;background:linear-gradient(90deg,#0000eb 4.5px,#008dff 13.5px,#003ef8 22.5px,#ffff00 31.5px,#96ff00 40.5px,#00ffff 49.5px,#008dff 58.5px,#00ff00 67.5px,#00ff34 76.5px,#00ffb7 85.5px,#00a5ff 94.5px,#007cff 103.5px,#007cff 112.5px,#007cff 121.5px,#00a5ff 130.5px,#007cff 139.5px,#007cff 148.5px,#007cff 157.5px,#007cff 166.5px,#007cff 175.5px,#0064ff 184.5px,#0000eb 193.5px,#0000d5 202.5px,#0000d5 211.5px,#0000d5 220.5px,#0000d5 229.5px,#0000d5 238.5px,#0000d5 247.5px,#0000d5 256.5px,#0000d5 265.5px,#0000de 274.5px,#0000de 283.5px,#0000de 292.5px,#0000de 301.5px,#0000de 310.5px,#0000de 319.5px,#0000de 328.5px,#0000de 337.5px,#0000de 346.5px,#0000de 355.5px)"></i>
<i class="r" style="top:182px;background:linear-gradient(90deg,#0000eb 4.5px,#009dff 13.5px,#0058fc 22.5px,#ffff00 31.5px,#96ff00 40.5px,#00ffff 49.5px,#009dff 58.5px,#00ff00 67.5px,#00ff12 76.5px,#00ff9a 85.5px,#00a5ff 94.5px,#006cff 103.5px,#006cff 112.5px,#006cff 121.5px,#00a5ff 130.5px,#006cff 139.5px,#006cff 148.5px,#006cff 157.5px,#006cff 166.5px,#006cff 175.5px,#0064ff 184.5px,#0000eb 193.5px,#0000cc 202.5px,#0000cc 211.5px,#0000cc 220.5px,#0000cc 229.5px,#0000cc 238.5px,#0000cc 247.5px,#0000cc 256.5px,#0000cc 265.5px,#0000e7 274.5px,#0000e7 283.5px,#0000e7 292.5px,#0000e7 301.5px,#0000e7 310.5px,#0000e7 319.5px,#0000e7 328.5px,#0000e7 337.5px,#0000e7 346.5px,#0000e7 355.5px)"></i>
<i class="r" style="top:184px;background:linear-gradient(90deg,#0000eb 4.5px,#00a5ff 13.5px,#0064ff 22.5px,#ffff00 31.5px,#96ff00 40.5px,#00ffff 49.5px,#009dff 58.5px,#00ff00 67.5px,#00ff00 76.5px,#00ff8c 85.5px,#00b0ff 94.5px,#006cff 103.5px,#0064ff 112.5px,#006cff 121.5px,#00a5ff 130.5px,#0064ff 139.5px,#006cff 148.5px,#0064ff 157.5px,#0064ff 166.5px,#0064ff 175.5px,#0058fc 184.5px,#0000eb 193.5px,#0000c8 202.5px,#0000c8 211.5px,#0000c8 220.5px,#0000c8 229.5px,#0000c8 238.5px,#0000c8 247.5px,#0000c8 256.5px,#0000c8 265.5px,#0000e7 274.5px,#0000e7 283.5px,#0000e7 292.5px,#0000e7 301.5px,#0000e7 310.5px,#0000e7 319.5px,#0000e7 328.5px,#0000e7 337.5px,#0000e7 346.5px,#0000e7 355.5px)"></i>
<i class="r" style="top:186px;background:linear-gradient(90deg,#0000eb 4.5px,#00a5ff 13.5px,#0064ff 22.5px,#ffff00 31.5px,#96ff00 40.5px,#00ffff 49.5px,#008dff 58.5px,#00ff00 67.5px,#00ff00 76.5px,#00ff8c 85.5px,#00c7ff 94.5px,#007cff 103.5px,#0064ff 112.5px,#007cff 121.5px,#00a5ff 130.5px,#0064ff 139.5px,#007cff 148.5px,#0064ff 157.5px,#0064ff 166.5px,#0064ff 175.5px,#003ef8 184.5px,#0000eb 193.5px,#0000c8 202.5px,#0000c8 211.5px,#0000c8 220.5px,#0000c8 229.5px,#0000c8 238.5px,#0000c8 247.5px,#0000c8 256.5px,#0000c8 265.5px,#0000de 274.5px,#0000de 283.5px,#0000de 292.5px,#0000de 301.5px,#0000de 310.5px,#0000de 319.5px,#0000de 328.5px,#0000de 337.5px,#0000de 346.5px,#0000de 355.5px)"></i>
<i class="r" style="top:188px;background:linear-gradient(90deg,#0000eb 4.5px,#00a5ff 13.5px,#0064ff 22.5px,#ffff00 31.5px,#96ff00 40.5px,#00ffff 49.5px,#007cff 58.5px,#00ff00 67.5px,#00ff00 76.5px,#00ff8c 85.5px,#00ddff 94.5px,#008dff 103.5px,#0064ff 112.5px,#008dff 121.5px,#00a5ff 130.5px,#0064ff 139.5px,#008dff 148.5px,#0064ff 157.5px,#0064ff 166.5px,#0064ff 175.5px,#0026f2 184.5px,#0000eb 193.5px,#0000c8 202.5px,#0000c8 211.5px,#0000c8 220.5px,#0000c8 229.5px,#0000c8 238.5px,#0000c8 247.5px,#0000c8 256.5px,#0000c8 265.5px,#0000d5 274.5px,#0000d5 283.5px,#0000d5 292.5px,#0000d5 301.5px,#0000d5 310.5px,#0000d5 319.5px,#0000d5 328.5px,#0000d5 337.5px,#0000d5 346.5px,#0000d5 355.5px)"></i>
<i class="r" style="top:190px;background:linear-gradient(90deg,#0000eb 4.5px,#00a5ff 13.5px,#0064ff 22.5px,#ffff00 31.5px,#96ff00 40.5px,#00ffff 49.5px,#006cff 58.5px,#00ff00 67.5px,#00ff00 76.5px,#00ff8c 85.5px,#00f4ff 94.5px,#009dff 103.5px,#0064ff 112.5px,#009dff 121.5px,#00a5ff 130.5px,#0064ff 139.5px,#009dff 148.5px,#0064ff 157.5px,#0064ff 166.5px,#0064ff 175.5px,#000cee 184.5px,#0000eb 193.5px,#0000c8 202.5px,#0000c8 211.5px,#0000c8 220.5px,#0000c8 229.5px,#0000c8 238.5px,#0000c8 247.5px,#0000c8 256.5px,#0000c8 265.5px,#0000cc 274.5px,#0000cc 283.5px,#0000cc 292.5px,#0000cc 301.5px,#0000cc 310.5px,#0000cc 319.5px,#0000cc 328.5px,#0000cc 337.5px,#0000cc 346.5px,#0000cc 355.5px)"></i>
<i class="r" style="top:192px;background:linear-gradient(90deg,#0000eb 4.5px,#00b0ff 13.5px,#0064ff 22.5px,#fff800 31.5px,#96ff00 40.5px,#00ffff 49.5px,#0064ff 58.5px,#00ff00 67.5px,#00ff00 76.5px,#00ff7a 85.5px,#00ffff 94.5px,#00a5ff 103.5px,#006cff 112.5px,#00b0ff 121.5px,#00a5ff 130.5px,#0064ff 139.5px,#00b0ff 148.5px,#006cff 157.5px,#0064ff 166.5px,#006cff 175.5px,#000cee 184.5px,#0000eb 193.5px,#0000cc 202.5px,#0000c8 211.5px,#0000c8 220.5px,#0000c8 229.5px,#0000c8 238.5px,#0000c8 247.5px,#0000c8 256.5px,#0000c8 265.5px,#0000cc 274.5px,#0000cc 283.5px,#0000c8 292.5px,#0000c8 301.5px,#0000c8 310.5px,#0000c8 319.5px,#0000c8 328.5px,#0000c8 337.5px,#0000c8 346.5px,#0000c8 355.5px)"></i>
<i class="r" style="top:194px;background:linear-gradient(90deg,#0000eb 4.5px,#00c7ff 13.5px,#0064ff 22.5px,#ffea00 31.5px,#96ff00 40.5px,#00ffff 49.5px,#0064ff 58.5px,#00ff00 67.5px,#00ff00 76.5px,#00ff58 85.5px,#00ffff 94.5px,#00a5ff 103.5px,#007cff 112.5px,#00c7ff 121.5px,#00a5ff 130.5px,#0064ff 139.5px,#00c7ff 148.5px,#007cff 157.5px,#0064ff 166.5px,#007cff 175.5px,#0026f2 184.5px,#0000eb 193.5px,#0000d5 202.5px,#0000c8 211.5px,#0000c8 220.5px,#0000c8 229.5px,#0000c8 238.5px,#0000c8 247.5px,#0000c8 256.5px,#0000c8 265.5px,#0000d5 274.5px,#0000d5 283.5px,#0000c8 292.5px,#0000c8 301.5px,#0000c8 310.5px,#0000c8 319.5px,#0000c8 328.5px,#0000c8 337.5px,#0000c8 346.5px,#0000c8 355.5px)"></i>
<i class="r" style="top:196px;background:linear-gradient(90deg,#0000eb 4.5px,#00ddff 13.5px,#0064ff 22.5px,#ffdd00 31.5px,#96ff00 40.5px,#00ffff 49.5px,#0064ff 58.5px,#00ff00 67.5px,#00ff00 76.5px,#00ff34 85.5px,#00ffff 94.5px,#00a5ff 103.5px,#008dff 112.5px,#00ddff 121.5px,#00a5ff 130.5px,#0064ff 139.5px,#00ddff 148.5px,#008dff 157.5px,#0064ff 166.5px,#008dff 175.5px,#003ef8 184.5px,#0000eb 193.5px,#0000de 202.5px,#0000c8 211.5px,#0000c8 220.5px,#0000c8 229.5px,#0000c8 238.5px,#0000c8 247.5px,#0000c8 256.5px,#0000c8 265.5px,#0000de 274.5px,#0000de 283.5px,#0000c8 292.5px,#0000c8 301.5px,#0000c8 310.5px,#0000c8 319.5px,#0000c8 328.5px,#0000c8 337.5px,#0000c8 346.5px,#0000c8 355.5px)"></i>
<i class="r" style="top:198px;background:linear-gradient(90deg,#0000eb 4.5px,#00f4ff 13.5px,#0064ff 22.5px,#ffcf00 31.5px,#96ff00 40.5px,#00ffff 49.5px,#0064ff 58.5px,#00ff00 67.5px,#00ff00 76.5px,#00ff12 85.5px,#00ffff 94.5px,#00a5ff 103.5px,#009dff 112.5px,#00f4ff 121.5px,#00a5ff 130.5px,#0064ff 139.5px,#00f4ff 148.5px,#009dff 157.5px,#0064ff 166.5px,#009dff 175.5px,#0058fc 184.5px,#0000eb 193.5px,#0000e7 202.5px,#0000c8 211.5px,#0000c8 220.5px,#0000c8 229.5px,#0000c8 238.5px,#0000c8 247.5px,#0000c8 256.5px,#0000c8 265.5px,#0000e7 274.5px,#0000e7 283.5px,#0000c8 292.5px,#0000c8 301.5px,#0000c8 310.5px,#0000c8 319.5px,#0000c8 328.5px,#0000c8 337.5px,#0000c8 346.5px,#0000c8 355.5px)"></i>
<i class="r" style="top:200px;background:linear-gradient(90deg,#0000eb 4.5px,#00ffff 13.5px,#0064ff 22.5px,#ffcf00 31.5px,#96ff00 40.5px,#00ffff 49.5px,#0064ff 58.5px,#00ff00 67.5px,#00ff00 76.5px,#00ff12 85.5px,#00ffff 94.5px,#00b0ff 103.5px,#00a5ff 112.5px,#00ffff 121.5px,#00b0ff 130.5px,#0064ff 139.5px,#00f4ff 148.5px,#009dff 157.5px,#0064ff 166.5px,#00a5ff 175.5px,#0058fc 184.5px,#0000eb 193.5px,#0000e7 202.5px,#0000c8 211.5px,#0000c8 220.5px,#0000c8 229.5px,#0000c8 238.5px,#0000c8 247.5px,#0000c8 256.5px,#0000c8 265.5px,#0000eb 274.5px,#0000e7 283.5px,#0000c8 292.5px,#0000c8 301.5px,#0000c8 310.5px,#0000c8 319.5px,#0000c8 328.5px,#0000c8 337.5px,#0000c8 346.5px,#0000c8 355.5px)"></i>
<i class="r" style="top:202px;background:linear-gradient(90deg,#0000eb 4.5px,#00ffff 13.5px,#0064ff 22.5px,#ffdd00 31.5px,#96ff00 40.5px,#00ffff 49.5px,#0064ff 58.5px,#00ff00 67.5px,#00ff00 76.5px,#00ff34 85.5px,#00ffff 94.5px,#00c7ff 103.5px,#00a5ff 112.5px,#00ffff 121.5px,#00c7ff 130.5px,#0064ff 139.5px,#00ddff 148.5px,#008dff 157.5px,#0064ff 166.5px,#00a5ff 175.5px,#003ef8 184.5px,#0000eb 193.5px,#0000de 202.5px,#0000c8 211.5px,#0000c8 220.5px,#0000c8 229.5px,#0000c8 238.5px,#0000c8 247.5px,#0000c8 256.5px,#0000c8 265.5px,#0000eb 274.5px,#0000de 283.5px,#0000c8 292.5px,#0000c8 301.5px,#0000c8 310.5px,#0000c8 319.5px,#0000c8 328.5px,#0000c8 337.5px,#0000c8 346.5px,#0000c8 355.5px)"></i>
<i class="r" style="top:204px;background:linear-gradient(90deg,#0000eb 4.5px,#00ffff 13.5px,#0064ff 22.5px,#ffea00 31.5px,#96ff00 40.5px,#00ffff 49.5px,#0064ff 58.5px,#00ff00 67.5px,#00ff00 76.5px,#00ff58 85.5px,#00ffff 94.5px,#00ddff 103.5px,#00a5ff 112.5px,#00ffff 121.5px,#00ddff 130.5px,#0064ff 139.5px,#00c7ff 148.5px,#007cff 157.5px,#0064ff 166.5px,#00a5ff 175.5px,#0026f2 184.5px,#0000eb 193.5px,#0000d5 202.5px,#0000c8 211.5px,#0000c8 220.5px,#0000c8 229.5px,#0000c8 238.5px,#0000c8 247.5px,#0000c8 256.5px,#0000c8 265.5px,#0000eb 274.5px,#0000d5 283.5px,#0000c8 292.5px,#0000c8 301.5px,#0000c8 310.5px,#0000c8 319.5px,#0000c8 328.5px,#0000c8 337.5px,#0000c8 346.5px,#0000c8 355.5px)"></i>
<i class="r" style="top:206px;background:linear-gradient(90deg,#0000eb 4.5px,#00ffff 13.5px,#0064ff 22.5px,#fff800 31.5px,#96ff00 40.5px,#00ffff 49.5px,#0064ff 58.5px,#00ff00 67.5px,#00ff00 76.5px,#00ff7a 85.5px,#00ffff 94.5px,#00f4ff 103.5px,#00a5ff 112.5px,#00ffff 121.5px,#00f4ff 130.5px,#0064ff 139.5px,#00b0ff 148.5px,#006cff 157.5px,#0064ff 166.5px,#00a5ff 175.5px,#000cee 184.5px,#0000eb 193.5px,#0000cc 202.5px,#0000c8 211.5px,#0000c8 220.5px,#0000c8 229.5px,#0000c8 238.5px,#0000c8 247.5px,#0000c8 256.5px,#0000c8 265.5px,#0000eb 274.5px,#0000cc 283.5px,#0000c8 292.5px,#0000c8 301.5px,#0000c8 310.5px,#0000c8 319.5px,#0000c8 328.5px,#0000c8 337.5px,#0000c8 346.5px,#0000c8 355.5px)"></i>
<i class="r" style="top:208px;background:linear-gradient(90deg,#0000eb 4.5px,#00f4ff 13.5px,#0064ff 22.5px,#fff800 31.5px,#96ff00 40.5px,#00ffff 49.5px,#0064ff 58.5px,#00ff00 67.5px,#00ff00 76.5px,#00ff8c 85.5px,#00fff1 94.5px,#00ffff 103.5px,#00a5ff 112.5px,#00ffff 121.5px,#00ffff 130.5px,#006cff 139.5px,#00a5ff 148.5px,#0064ff 157.5px,#0064ff 166.5px,#00a5ff 175.5px,#0000eb 184.5px,#0000eb 193.5px,#0000cc 202.5px,#0000cc 211.5px,#0000cc 220.5px,#0000cc 229.5px,#0000cc 238.5px,#0000cc 247.5px,#0000cc 256.5px,#0000cc 265.5px,#0000eb 274.5px,#0000cc 283.5px,#0000c8 292.5px,#0000c8 301.5px,#0000c8 310.5px,#0000c8 319.5px,#0000c8 328.5px,#0000c8 337.5px,#0000c8 346.5px,#0000c8 355.5px)"></i>
<i class="r" style="top:210px;background:linear-gradient(90deg,#0000eb 4.5px,#00ddff 13.5px,#0064ff 22.5px,#ffea00 31.5px,#96ff00 40.5px,#00ffff 49.5px,#0064ff 58.5px,#00ff00 67.5px,#00ff00 76.5px,#00ff8c 85.5px,#00ffd4 94.5px,#00ffff 103.5px,#00a5ff 112.5px,#00ffff 121.5px,#00ffff 130.5px,#007cff 139.5px,#00a5ff 148.5px,#0064ff 157.5px,#0064ff 166.5px,#00a5ff 175.5px,#0000eb 184.5px,#0000eb 193.5px,#0000d5 202.5px,#0000d5 211.5px,#0000d5 220.5px,#0000d5 229.5px,#0000d5 238.5px,#0000d5 247.5px,#0000d5 256.5px,#0000d5 265.5px,#0000eb 274.5px,#0000d5 283.5px,#0000c8 292.5px,#0000c8 301.5px,#0000c8 310.5px,#0000c8 319.5px,#0000c8 328.5px,#0000c8 337.5px,#0000c8 346.5px,#0000c8 355.5px)"></i>
<i class="r" style="top:212px;background:linear-gradient(90deg,#0000eb 4.5px,#00c7ff 13.5px,#0064ff 22.5px,#ffdd00 31.5px,#96ff00 40.5px,#00ffff 49.5px,#0064ff 58.5px,#00ff00 67.5px,#00ff00 76.5px,#00ff8c 85.5px,#00ffb7 94.5px,#00ffff 103.5px,#00a5ff 112.5px,#00ffff 121.5px,#00ffff 130.5px,#008dff 139.5px,#00a5ff 148.5px,#0064ff 157.5px,#0064ff 166.5px,#00a5ff 175.5px,#0000eb 184.5px,#0000eb 193.5px,#0000de 202.5px,#0000de 211.5px,#0000de 220.5px,#0000de 229.5px,#0000de 238.5px,#0000de 247.5px,#0000de 256.5px,#0000de 265.5px,#0000eb 274.5px,#0000de 283.5px,#0000c8 292.5px,#0000c8 301.5px,#0000c8 310.5px,#0000c8 319.5px,#0000c8 328.5px,#0000c8 337.5px,#0000c8 346.5px,#0000c8 355.5px)"></i>
<i class="r" style="top:214px;background:linear-gradient(90deg,#0000eb 4.5px,#00b0ff 13.5px,#0064ff 22.5px,#ffcf00 31.5px,#96ff00 40.5px,#00ffff 49.5px,#0064ff 58.5px,#00ff00 67.5px,#00ff00 76.5px,#00ff8c 85.5px,#00ff9a 94.5px,#00ffff 103.5px,#00a5ff 112.5px,#00ffff 121.5px,#00ffff 130.5px,#009dff 139.5px,#00a5ff 148.5px,#0064ff 157.5px,#0064ff 166.5px,#00a5ff 175.5px,#0000eb 184.5px,#0000eb 193.5px,#0000e7 202.5px,#0000e7 211.5px,#0000e7 220.5px,#0000e7 229.5px,#0000e7 238.5px,#0000e7 247.5px,#0000e7 256.5px,#0000e7 265.5px,#0000eb 274.5px,#0000e7 283.5px,#0000c8 292.5px,#0000c8 301.5px,#0000c8 310.5px,#0000c8 319.5px,#0000c8 328.5px,#0000c8 337.5px,#0000c8 346.5px,#0000c8 355.5px)"></i>
<i class="r" style="top:216px;background:linear-gradient(90deg,#0000eb 4.5px,#00a5ff 13.5px,#006cff 22.5px,#ffcf00 31.5px,#96ff00 40.5px,#00fff1 49.5px,#006cff 58.5px,#00ff00 67.5px,#00ff00 76.5px,#00ff8c 85.5px,#00ff8c 94.5px,#00ffff 103.5px,#00a5ff 112.5px,#00ffff 121.5px,#00fff1 130.5px,#00a5ff 139.5px,#00a5ff 148.5px,#006cff 157.5px,#006cff 166.5px,#00a5ff 175.5px,#0015ee 184.5px,#0015ee 193.5px,#000cee 202.5px,#0015ee 211.5px,#0015ee 220.5px,#0015ee 229.5px,#000cee 238.5px,#0015ee 247.5px,#0015ee 256.5px,#000cee 265.5px,#0015ee 274.5px,#000cee 283.5px,#000ccf 292.5px,#0000c8 301.5px,#0000c8 310.5px,#0000c8 319.5px,#0000c8 328.5px,#0000c8 337.5px,#0000c8 346.5px,#0000c8 355.5px)"></i>
<i class="r" style="top:218px;background:linear-gradient(90deg,#0000eb 4.5px,#00a5ff 13.5px,#007cff 22.5px,#ffdd00 31.5px,#96ff00 40.5px,#00ffd4 49.5px,#007cff 58.5px,#00ff00 67.5px,#00ff00 76.5px,#00ff8c 85.5px,#00ff8c 94.5px,#00ffff 103.5px,#00a5ff 112.5px,#00ffff 121.5px,#00ffd4 130.5px,#00a5ff 139.5px,#00a5ff 148.5px,#007cff 157.5px,#007cff 166.5px,#00a5ff 175.5px,#003ef2 184.5px,#003ef2 193.5px,#0026f2 202.5px,#003ef2 211.5px,#003ef2 220.5px,#003ef2 229.5px,#0026f2 238.5px,#003ef2 247.5px,#003ef2 256.5px,#0026f2 265.5px,#003ef2 274.5px,#0026f2 283.5px,#0026dd 292.5px,#0000c8 301.5px,#0000c8 310.5px,#0000c8 319.5px,#0000c8 328.5px,#0000c8 337.5px,#0000c8 346.5px,#0000c8 355.5px)"></i>
<i class="r" style="top:220px;background:linear-gradient(90deg,#0000eb 4.5px,#00a5ff 13.5px,#008dff 22.5px,#ffea00 31.5px,#96ff00 40.5px,#00ffb7 49.5px,#008dff 58.5px,#00ff00 67.5px,#00ff00 76.5px,#00ff8c 85.5px,#00ff8c 94.5px,#00ffff 103.5px,#00a5ff 112.5px,#00ffff 121.5px,#00ffb7 130.5px,#00a5ff 139.5px,#00a5ff 148.5px,#008dff 157.5px,#008dff 166.5px,#00a5ff 175.5px,#0067f8 184.5px,#0067f8 193.5px,#003ef8 202.5px,#0067f8 211.5px,#0067f8 220.5px,#0067f8 229.5px,#003ef8 238.5px,#0067f8 247.5px,#0067f8 256.5px,#003ef8 265.5px,#0067f8 274.5px,#003ef8 283.5px,#003eea 292.5px,#0000c8 301.5px,#0000c8 310.5px,#0000c8 319.5px,#0000c8 328.5px,#0000c8 337.5px,#0000c8 346.5px,#0000c8 355.5px)"></i>
<i class="r" style="top:222px;background:linear-gradient(90deg,#0000eb 4.5px,#00a5ff 13.5px,#009dff 22.5px,#fff800 31.5px,#96ff00 40.5px,#00ff9a 49.5px,#009dff 58.5px,#00ff00 67.5px,#00ff00 76.5px,#00ff8c 85.5px,#00ff8c 94.5px,#00ffff 103.5px,#00a5ff 112.5px,#00ffff 121.5px,#00ff9a 130.5px,#00a5ff 139.5px,#00a5ff 148.5px,#009dff 157.5px,#009dff 166.5px,#00a5ff 175.5px,#0090fc 184.5px,#0090fc 193.5px,#0058fc 202.5px,#0090fc 211.5px,#0090fc 220.5px,#0090fc 229.5px,#0058fc 238.5px,#0090fc 247.5px,#0090fc 256.5px,#0058fc 265.5px,#0090fc 274.5px,#0058fc 283.5px,#0058f8 292.5px,#0000c8 301.5px,#0000c8 310.5px,#0000c8 319.5px,#0000c8 328.5px,#0000c8 337.5px,#0000c8 346.5px,#0000c8 355.5px)"></i>
<i class="r" style="top:224px;background:linear-gradient(90deg,#0000eb 4.5px,#009dff 13.5px,#00b0ff 22.5px,#f2ff00 31.5px,#83ff00 40.5px,#00ff9a 49.5px,#009dff 58.5px,#00ff00 67.5px,#00ff00 76.5px,#00ff8c 85.5px,#00ff8c 94.5px,#00ffff 103.5px,#00b0ff 112.5px,#00ffff 121.5px,#00ec9a 130.5px,#00a5ff 139.5px,#00b0ff 148.5px,#009dff 157.5px,#009dff 166.5px,#00b0ff 175.5px,#00b0ff 184.5px,#0090fc 193.5px,#0058fc 202.5px,#0090fc 211.5px,#0090fc 220.5px,#009dff 229.5px,#0064ff 238.5px,#00b0ff 247.5px,#00b0f1 256.5px,#0077f1 265.5px,#00b0f1 274.5px,#0077f1 283.5px,#0077ff 292.5px,#0000cc 301.5px,#0000cc 310.5px,#0000c8 319.5px,#0000c8 328.5px,#0000c8 337.5px,#0000c8 346.5px,#0000c8 355.5px)"></i>
<i class="r" style="top:226px;background:linear-gradient(90deg,#0000eb 4.5px,#008dff 13.5px,#00c7ff 22.5px,#d8ff00 31.5px,#5eff00 40.5px,#00ffb7 49.5px,#008dff 58.5px,#00ff00 67.5px,#00ff00 76.5px,#00ff8c 85.5px,#00ff8c 94.5px,#00ffff 103.5px,#00c7ff 112.5px,#00ffff 121.5px,#00c5b7 130.5px,#00a5ff 139.5px,#00c7ff 148.5px,#008dff 157.5px,#008dff 166.5px,#00c7ff 175.5px,#00c7ff 184.5px,#0067f8 193.5px,#003ef8 202.5px,#0067f8 211.5px,#0067f8 220.5px,#008dff 229.5px,#0064ff 238.5px,#00c7ff 247.5px,#00c7d4 256.5px,#009ed4 265.5px,#00c7d4 274.5px,#009ed4 283.5px,#009eff 292.5px,#0000d5 301.5px,#0000d5 310.5px,#0000c8 319.5px,#0000c8 328.5px,#0000c8 337.5px,#0000c8 346.5px,#0000c8 355.5px)"></i>
<i class="r" style="top:228px;background:linear-gradient(90deg,#0000eb 4.5px,#007cff 13.5px,#00ddff 22.5px,#bdff00 31.5px,#38ff00 40.5px,#00ffd4 49.5px,#007cff 58.5px,#00ff00 67.5px,#00ff00 76.5px,#00ff8c 85.5px,#00ff8c 94.5px,#00ffff 103.5px,#00ddff 112.5px,#00ffff 121.5px,#009ed4 130.5px,#00a5ff 139.5px,#00ddff 148.5px,#007cff 157.5px,#007cff 166.5px,#00ddff 175.5px,#00ddff 184.5px,#003ef2 193.5px,#0026f2 202.5px,#003ef2 211.5px,#003ef2 220.5px,#007cff 229.5px,#0064ff 238.5px,#00ddff 247.5px,#00ddb7 256.5px,#00c5b7 265.5px,#00ddb7 274.5px,#00c5b7 283.5px,#00c5ff 292.5px,#0000de 301.5px,#0000de 310.5px,#0000c8 319.5px,#0000c8 328.5px,#0000c8 337.5px,#0000c8 346.5px,#0000c8 355.5px)"></i>
<i class="r" style="top:230px;background:linear-gradient(90deg,#0000eb 4.5px,#006cff 13.5px,#00f4ff 22.5px,#a3ff00 31.5px,#13ff00 40.5px,#00fff1 49.5px,#006cff 58.5px,#00ff00 67.5px,#00ff00 76.5px,#00ff8c 85.5px,#00ff8c 94.5px,#00ffff 103.5px,#00f4ff 112.5px,#00ffff 121.5px,#0077f1 130.5px,#00a5ff 139.5px,#00f4ff 148.5px,#006cff 157.5px,#006cff 166.5px,#00f4ff 175.5px,#00f4ff 184.5px,#0015ee 193.5px,#000cee 202.5px,#0015ee 211.5px,#0015ee 220.5px,#006cff 229.5px,#0064ff 238.5px,#00f4ff 247.5px,#00f49a 256.5px,#00ec9a 265.5px,#00f49a 274.5px,#00ec9a 283.5px,#00ecff 292.5px,#0000e7 301.5px,#0000e7 310.5px,#0000c8 319.5px,#0000c8 328.5px,#0000c8 337.5px,#0000c8 346.5px,#0000c8 355.5px)"></i>
<i class="r" style="top:232px;background:linear-gradient(90deg,#0000eb 4.5px,#006cff 13.5px,#00fff1 22.5px,#a3ff00 31.5px,#00ff00 40.5px,#00ffff 49.5px,#0064ff 58.5px,#13ff00 67.5px,#13ff00 76.5px,#00ff8c 85.5px,#00ff8c 94.5px,#00ffff 103.5px,#00ecff 112.5px,#00f4ff 121.5px,#0058fc 130.5px,#00a5ff 139.5px,#00ffff 148.5px,#006cff 157.5px,#006cff 166.5px,#00ffff 175.5px,#00fff1 184.5px,#0015ee 193.5px,#0015ee 202.5px,#0015ee 211.5px,#0020ee 220.5px,#0077ff 229.5px,#0077ff 238.5px,#00fff1 247.5px,#00ff8c 256.5px,#00ff7a 265.5px,#00ff7a 274.5px,#00ff8c 283.5px,#00f4ff 292.5px,#000cee 301.5px,#0000eb 310.5px,#0000c8 319.5px,#0000c8 328.5px,#0000c8 337.5px,#0000c8 346.5px,#0000c8 355.5px)"></i>
<i class="r" style="top:234px;background:linear-gradient(90deg,#0000eb 4.5px,#007cff 13.5px,#00ffd4 22.5px,#bdff00 31.5px,#00ff00 40.5px,#00ffff 49.5px,#0064ff 58.5px,#38ff00 67.5px,#38ff00 76.5px,#00ff8c 85.5px,#00ff8c 94.5px,#00ffff 103.5px,#00c5ff 112.5px,#00ddff 121.5px,#003ef8 130.5px,#00a5ff 139.5px,#00ffff 148.5px,#007cff 157.5px,#007cff 166.5px,#00ffff 175.5px,#00ffd4 184.5px,#003ef2 193.5px,#003ef2 202.5px,#003ef2 211.5px,#0060f2 220.5px,#009eff 229.5px,#009eff 238.5px,#00ffd4 247.5px,#00ff8c 256.5px,#00ff58 265.5px,#00ff58 274.5px,#00ff8c 283.5px,#00ddff 292.5px,#0026f2 301.5px,#0000eb 310.5px,#0000c8 319.5px,#0000c8 328.5px,#0000c8 337.5px,#0000c8 346.5px,#0000c8 355.5px)"></i>
<i class="r" style="top:236px;background:linear-gradient(90deg,#0000eb 4.5px,#008dff 13.5px,#00ffb7 22.5px,#d8ff00 31.5px,#00ff00 40.5px,#00ffff 49.5px,#0064ff 58.5px,#5eff00 67.5px,#5eff00 76.5px,#00ff8c 85.5px,#00ff8c 94.5px,#00ffff 103.5px,#009eff 112.5px,#00c7ff 121.5px,#0026f2 130.5px,#00a5ff 139.5px,#00ffff 148.5px,#008dff 157.5px,#008dff 166.5px,#00ffff 175.5px,#00ffb7 184.5px,#0067f8 193.5px,#0067f8 202.5px,#0067f8 211.5px,#009ff8 220.5px,#00c5ff 229.5px,#00c5ff 238.5px,#00ffb7 247.5px,#00ff8c 256.5px,#00ff34 265.5px,#00ff34 274.5px,#00ff8c 283.5px,#00c7ff 292.5px,#003ef8 301.5px,#0000eb 310.5px,#0000c8 319.5px,#0000c8 328.5px,#0000c8 337.5px,#0000c8 346.5px,#0000c8 355.5px)"></i>
<i class="r" style="top:238px;background:linear-gradient(90deg,#0000eb 4.5px,#009dff 13.5px,#00ff9a 22.5px,#f2ff00 31.5px,#00ff00 40.5px,#00ffff 49.5px,#0064ff 58.5px,#83ff00 67.5px,#83ff00 76.5px,#00ff8c 85.5px,#00ff8c 94.5px,#00ffff 103.5px,#0077ff 112.5px,#00b0ff 121.5px,#000cee 130.5px,#00a5ff 139.5px,#00ffff 148.5px,#009dff 157.5px,#009dff 166.5px,#00ffff 175.5px,#00ff9a 184.5px,#0090fc 193.5px,#0090fc 202.5px,#0090fc 211.5px,#00dffc 220.5px,#00ecff 229.5px,#00ecff 238.5px,#00ff9a 247.5px,#00ff8c 256.5px,#00ff12 265.5px,#00ff12 274.5px,#00ff8c 283.5px,#00b0ff 292.5px,#0058fc 301.5px,#0000eb 310.5px,#0000c8 319.5px,#0000c8 328.5px,#0000c8 337.5px,#0000c8 346.5px,#0000c8 355.5px)"></i>
<i class="r" style="top:240px;background:linear-gradient(90deg,#0000eb 4.5px,#00a5ff 13.5px,#00ff8c 22.5px,#ffff00 31.5px,#13ff00 40.5px,#00ffff 49.5px,#006cff 58.5px,#96ff00 67.5px,#96ff00 76.5px,#00ff7a 85.5px,#00ff8c 94.5px,#00ffff 103.5px,#0064ff 112.5px,#00a5ff 121.5px,#0000eb 130.5px,#00b0ff 139.5px,#00ffff 148.5px,#00b0ff 157.5px,#00a5ff 166.5px,#00ffff 175.5px,#00ff9a 184.5px,#00a5ff 193.5px,#00a5ff 202.5px,#00a5ff 211.5px,#00ffff 220.5px,#00f4ff 229.5px,#00ffff 238.5px,#00ff8c 247.5px,#00ff8c 256.5px,#00ff12 265.5px,#00ff12 274.5px,#00ff9a 283.5px,#00b0ff 292.5px,#0058fc 301.5px,#0000eb 310.5px,#0000c8 319.5px,#0000c8 328.5px,#0000c8 337.5px,#0000c8 346.5px,#0000c8 355.5px)"></i>
<i class="r" style="top:242px;background:linear-gradient(90deg,#0000eb 4.5px,#00a5ff 13.5px,#00ff8c 22.5px,#ffff00 31.5px,#38ff00 40.5px,#00ffff 49.5px,#007cff 58.5px,#96ff00 67.5px,#96ff00 76.5px,#00ff58 85.5px,#00ff8c 94.5px,#00ffff 103.5px,#0064ff 112.5px,#00a5ff 121.5px,#0000eb 130.5px,#00c7ff 139.5px,#00ffff 148.5px,#00c7ff 157.5px,#00a5ff 166.5px,#00ffff 175.5px,#00ffb7 184.5px,#00a5ff 193.5px,#00a5ff 202.5px,#00a5ff 211.5px,#00ffff 220.5px,#00ddff 229.5px,#00ffff 238.5px,#00ff8c 247.5px,#00ff8c 256.5px,#00ff34 265.5px,#00ff34 274.5px,#00ffb7 283.5px,#00c7ff 292.5px,#003ef8 301.5px,#0000eb 310.5px,#0000c8 319.5px,#0000c8 328.5px,#0000c8 337.5px,#0000c8 346.5px,#0000c8 355.5px)"></i>
<i class="r" style="top:244px;background:linear-gradient(90deg,#0000eb 4.5px,#00a5ff 13.5px,#00ff8c 22.5px,#ffff00 31.5px,#5eff00 40.5px,#00ffff 49.5px,#008dff 58.5px,#96ff00 67.5px,#96ff00 76.5px,#00ff34 85.5px,#00ff8c 94.5px,#00ffff 103.5px,#0064ff 112.5px,#00a5ff 121.5px,#0000eb 130.5px,#00ddff 139.5px,#00ffff 148.5px,#00ddff 157.5px,#00a5ff 166.5px,#00ffff 175.5px,#00ffd4 184.5px,#00a5ff 193.5px,#00a5ff 202.5px,#00a5ff 211.5px,#00ffff 220.5px,#00c7ff 229.5px,#00ffff 238.5px,#00ff8c 247.5px,#00ff8c 256.5px,#00ff58 265.5px,#00ff58 274.5px,#00ffd4 283.5px,#00ddff 292.5px,#0026f2 301.5px,#0000eb 310.5px,#0000c8 319.5px,#0000c8 328.5px,#0000c8 337.5px,#0000c8 346.5px,#0000c8 355.5px)"></i>
<i class="r" style="top:246px;background:linear-gradient(90deg,#0000eb 4.5px,#00a5ff 13.5px,#00ff8c 22.5px,#ffff00 31.5px,#83ff00 40.5px,#00ffff 49.5px,#009dff 58.5px,#96ff00 67.5px,#96ff00 76.5px,#00ff12 85.5px,#00ff8c 94.5px,#00ffff 103.5px,#0064ff 112.5px,#00a5ff 121.5px,#0000eb 130.5px,#00f4ff 139.5px,#00ffff 148.5px,#00f4ff 157.5px,#00a5ff 166.5px,#00ffff 175.5px,#00fff1 184.5px,#00a5ff 193.5px,#00a5ff 202.5px,#00a5ff 211.5px,#00ffff 220.5px,#00b0ff 229.5px,#00ffff 238.5px,#00ff8c 247.5px,#00ff8c 256.5px,#00ff7a 265.5px,#00ff7a 274.5px,#00fff1 283.5px,#00f4ff 292.5px,#000cee 301.5px,#0000eb 310.5px,#0000c8 319.5px,#0000c8 328.5px,#0000c8 337.5px,#0000c8 346.5px,#0000c8 355.5px)"></i>
<i class="r" style="top:248px;background:linear-gradient(90deg,#0000eb 4.5px,#00b0ff 13.5px,#00ff7a 22.5px,#fff800 31.5px,#96ff00 40.5px,#00fff1 49.5px,#00a5ff 58.5px,#a3ff00 67.5px,#96ff00 76.5px,#00ff00 85.5px,#00ff8c 94.5px,#00ffff 103.5px,#0064ff 112.5px,#00a5ff 121.5px,#0000eb 130.5px,#00ffff 139.5px,#00ffff 148.5px,#00ffff 157.5px,#00b0ff 166.5px,#00ffff 175.5px,#00f4ff 184.5px,#009dff 193.5px,#009dff 202.5px,#0090fc 211.5px,#00ecff 220.5px,#0090fc 229.5px,#00dffc 238.5px,#00ec9a 247.5px,#00df98 256.5px,#00df98 265.5px,#00df98 274.5px,#00dffc 283.5px,#00dffc 292.5px,#0015ee 301.5px,#0015ee 310.5px,#000ccf 319.5px,#0000cc 328.5px,#0000c8 337.5px,#0000c8 346.5px,#0000c8 355.5px)"></i>
<i class="r" style="top:250px;background:linear-gradient(90deg,#0000eb 4.5px,#00c7ff 13.5px,#00ff58 22.5px,#ffea00 31.5px,#96ff00 40.5px,#00ffd4 49.5px,#00a5ff 58.5px,#bdff00 67.5px,#96ff00 76.5px,#00ff00 85.5px,#00ff8c 94.5px,#00ffff 103.5px,#0064ff 112.5px,#00a5ff 121.5px,#0000eb 130.5px,#00ffff 139.5px,#00ffff 148.5px,#00ffff 157.5px,#00c7ff 166.5px,#00ffff 175.5px,#00ddff 184.5px,#008dff 193.5px,#008dff 202.5px,#0067f8 211.5px,#00c5ff 220.5px,#0067f8 229.5px,#009ff8 238.5px,#00c5b7 247.5px,#009fb0 256.5px,#009fb0 265.5px,#009fb0 274.5px,#009ff8 283.5px,#009ff8 292.5px,#003ef2 301.5px,#003ef2 310.5px,#0026dd 319.5px,#0000d5 328.5px,#0000c8 337.5px,#0000c8 346.5px,#0000c8 355.5px)"></i>
<i class="r" style="top:252px;background:linear-gradient(90deg,#0000eb 4.5px,#00ddff 13.5px,#00ff34 22.5px,#ffdd00 31.5px,#96ff00 40.5px,#00ffb7 49.5px,#00a5ff 58.5px,#d8ff00 67.5px,#96ff00 76.5px,#00ff00 85.5px,#00ff8c 94.5px,#00ffff 103.5px,#0064ff 112.5px,#00a5ff 121.5px,#0000eb 130.5px,#00ffff 139.5px,#00ffff 148.5px,#00ffff 157.5px,#00ddff 166.5px,#00ffff 175.5px,#00c7ff 184.5px,#007cff 193.5px,#007cff 202.5px,#003ef2 211.5px,#009eff 220.5px,#003ef2 229.5px,#0060f2 238.5px,#009ed4 247.5px,#0060c7 256.5px,#0060c7 265.5px,#0060c7 274.5px,#0060f2 283.5px,#0060f2 292.5px,#0067f8 301.5px,#0067f8 310.5px,#003eea 319.5px,#0000de 328.5px,#0000c8 337.5px,#0000c8 346.5px,#0000c8 355.5px)"></i>
<i class="r" style="top:254px;background:linear-gradient(90deg,#0000eb 4.5px,#00f4ff 13.5px,#00ff12 22.5px,#ffcf00 31.5px,#96ff00 40.5px,#00ff9a 49.5px,#00a5ff 58.5px,#f2ff00 67.5px,#96ff00 76.5px,#00ff00 85.5px,#00ff8c 94.5px,#00ffff 103.5px,#0064ff 112.5px,#00a5ff 121.5px,#0000eb 130.5px,#00ffff 139.5px,#00ffff 148.5px,#00ffff 157.5px,#00f4ff 166.5px,#00ffff 175.5px,#00b0ff 184.5px,#006cff 193.5px,#006cff 202.5px,#0015ee 211.5px,#0077ff 220.5px,#0015ee 229.5px,#0020ee 238.5px,#0077f1 247.5px,#0020df 256.5px,#0020df 265.5px,#0020df 274.5px,#0020ee 283.5px,#0020ee 292.5px,#0090fc 301.5px,#0090fc 310.5px,#0058f8 319.5px,#0000e7 328.5px,#0000c8 337.5px,#0000c8 346.5px,#0000c8 355.5px)"></i>
<i class="r" style="top:256px;background:linear-gradient(90deg,#0000eb 4.5px,#00ffff 13.5px,#13ff00 22.5px,#ffc800 31.5px,#96ff00 40.5px,#00ff8c 49.5px,#009dff 58.5px,#ffff00 67.5px,#96ff00 76.5px,#00ff00 85.5px,#00ff8c 94.5px,#00ffff 103.5px,#0064ff 112.5px,#00a5ff 121.5px,#000cee 130.5px,#00fff1 139.5px,#00fff1 148.5px,#00fff1 157.5px,#00fff1 166.5px,#00fff1 175.5px,#00b0ff 184.5px,#0064ff 193.5px,#0064ff 202.5px,#000cee 211.5px,#0064ff 220.5px,#0000eb 229.5px,#0000eb 238.5px,#0058fc 247.5px,#0000eb 256.5px,#0000eb 265.5px,#0000eb 274.5px,#000cee 283.5px,#0020ee 292.5px,#00b0f1 301.5px,#00b0ff 310.5px,#0077ff 319.5px,#0020ee 328.5px,#0015cf 337.5px,#000ccf 346.5px,#0000cc 355.5px)"></i>
<i class="r" style="top:258px;background:linear-gradient(90deg,#0000eb 4.5px,#00ffff 13.5px,#38ff00 22.5px,#ffc800 31.5px,#96ff00 40.5px,#00ff8c 49.5px,#008dff 58.5px,#ffff00 67.5px,#96ff00 76.5px,#00ff00 85.5px,#00ff8c 94.5px,#00ffff 103.5px,#0064ff 112.5px,#00a5ff 121.5px,#0026f2 130.5px,#00ffd4 139.5px,#00ffd4 148.5px,#00ffd4 157.5px,#00ffd4 166.5px,#00ffd4 175.5px,#00c7ff 184.5px,#0064ff 193.5px,#0064ff 202.5px,#0026f2 211.5px,#0064ff 220.5px,#0000eb 229.5px,#0000eb 238.5px,#003ef8 247.5px,#0000eb 256.5px,#0000eb 265.5px,#0000eb 274.5px,#0026f2 283.5px,#0060f2 292.5px,#00c7d4 301.5px,#00c7ff 310.5px,#009eff 319.5px,#0060f2 328.5px,#003edd 337.5px,#0026dd 346.5px,#0000d5 355.5px)"></i>
<i class="r" style="top:260px;background:linear-gradient(90deg,#0000eb 4.5px,#00ffff 13.5px,#5eff00 22.5px,#ffc800 31.5px,#96ff00 40.5px,#00ff8c 49.5px,#007cff 58.5px,#ffff00 67.5px,#96ff00 76.5px,#00ff00 85.5px,#00ff8c 94.5px,#00ffff 103.5px,#0064ff 112.5px,#00a5ff 121.5px,#003ef8 130.5px,#00ffb7 139.5px,#00ffb7 148.5px,#00ffb7 157.5px,#00ffb7 166.5px,#00ffb7 175.5px,#00ddff 184.5px,#0064ff 193.5px,#0064ff 202.5px,#003ef8 211.5px,#0064ff 220.5px,#0000eb 229.5px,#0000eb 238.5px,#0026f2 247.5px,#0000eb 256.5px,#0000eb 265.5px,#0000eb 274.5px,#003ef8 283.5px,#009ff8 292.5px,#00ddb7 301.5px,#00ddff 310.5px,#00c5ff 319.5px,#009ff8 328.5px,#0067ea 337.5px,#003eea 346.5px,#0000de 355.5px)"></i>
<i class="r" style="top:262px;background:linear-gradient(90deg,#0000eb 4.5px,#00ffff 13.5px,#83ff00 22.5px,#ffc800 31.5px,#96ff00 40.5px,#00ff8c 49.5px,#006cff 58.5px,#ffff00 67.5px,#96ff00 76.5px,#00ff00 85.5px,#00ff8c 94.5px,#00ffff 103.5px,#0064ff 112.5px,#00a5ff 121.5px,#0058fc 130.5px,#00ff9a 139.5px,#00ff9a 148.5px,#00ff9a 157.5px,#00ff9a 166.5px,#00ff9a 175.5px,#00f4ff 184.5px,#0064ff 193.5px,#0064ff 202.5px,#0058fc 211.5px,#0064ff 220.5px,#0000eb 229.5px,#0000eb 238.5px,#000cee 247.5px,#0000eb 256.5px,#0000eb 265.5px,#0000eb 274.5px,#0058fc 283.5px,#00dffc 292.5px,#00f49a 301.5px,#00f4ff 310.5px,#00ecff 319.5px,#00dffc 328.5px,#0090f8 337.5px,#0058f8 346.5px,#0000e7 355.5px)"></i>
<i class="r" style="top:264px;background:linear-gradient(90deg,#0000eb 4.5px,#00fff1 13.5px,#96ff00 22.5px,#ffc800 31.5px,#96ff00 40.5px,#00ff9a 49.5px,#0058fc 58.5px,#ffff00 67.5px,#96ff00 76.5px,#00ff00 85.5px,#00ff8c 94.5px,#00f4ff 103.5px,#006cff 112.5px,#009dff 121.5px,#0077ff 130.5px,#00ff8c 139.5px,#00ff7a 148.5px,#00ff8c 157.5px,#00ff8c 166.5px,#00ff8c 175.5px,#00ffff 184.5px,#006cff 193.5px,#006cff 202.5px,#0064ff 211.5px,#0064ff 220.5px,#0000eb 229.5px,#0000eb 238.5px,#0000eb 247.5px,#0000eb 256.5px,#0000eb 265.5px,#000cee 274.5px,#006cff 283.5px,#00fff1 292.5px,#00ff7a 301.5px,#00fff1 310.5px,#00fff1 319.5px,#00fff1 328.5px,#00b0ff 337.5px,#0077ff 346.5px,#0020ee 355.5px)"></i>
<i class="r" style="top:266px;background:linear-gradient(90deg,#0000eb 4.5px,#00ffd4 13.5px,#96ff00 22.5px,#ffc800 31.5px,#96ff00 40.5px,#00ffb7 49.5px,#003ef8 58.5px,#ffff00 67.5px,#96ff00 76.5px,#00ff00 85.5px,#00ff8c 94.5px,#00ddff 103.5px,#007cff 112.5px,#008dff 121.5px,#009eff 130.5px,#00ff8c 139.5px,#00ff58 148.5px,#00ff8c 157.5px,#00ff8c 166.5px,#00ff8c 175.5px,#00ffff 184.5px,#007cff 193.5px,#007cff 202.5px,#0064ff 211.5px,#0064ff 220.5px,#0000eb 229.5px,#0000eb 238.5px,#0000eb 247.5px,#0000eb 256.5px,#0000eb 265.5px,#0026f2 274.5px,#007cff 283.5px,#00ffd4 292.5px,#00ff58 301.5px,#00ffd4 310.5px,#00ffd4 319.5px,#00ffd4 328.5px,#00c7ff 337.5px,#009eff 346.5px,#0060f2 355.5px)"></i>
<i class="r" style="top:268px;background:linear-gradient(90deg,#0000eb 4.5px,#00ffb7 13.5px,#96ff00 22.5px,#ffc800 31.5px,#96ff00 40.5px,#00ffd4 49.5px,#0026f2 58.5px,#ffff00 67.5px,#96ff00 76.5px,#00ff00 85.5px,#00ff8c 94.5px,#00c7ff 103.5px,#008dff 112.5px,#007cff 121.5px,#00c5ff 130.5px,#00ff8c 139.5px,#00ff34 148.5px,#00ff8c 157.5px,#00ff8c 166.5px,#00ff8c 175.5px,#00ffff 184.5px,#008dff 193.5px,#008dff 202.5px,#0064ff 211.5px,#0064ff 220.5px,#0000eb 229.5px,#0000eb 238.5px,#0000eb 247.5px,#0000eb 256.5px,#0000eb 265.5px,#003ef8 274.5px,#008dff 283.5px,#00ffb7 292.5px,#00ff34 301.5px,#00ffb7 310.5px,#00ffb7 319.5px,#00ffb7 328.5px,#00ddff 337.5px,#00c5ff 346.5px,#009ff8 355.5px)"></i>
<i class="r" style="top:270px;background:linear-gradient(90deg,#0000eb 4.5px,#00ff9a 13.5px,#96ff00 22.5px,#ffc800 31.5px,#96ff00 40.5px,#00fff1 49.5px,#000cee 58.5px,#ffff00 67.5px,#96ff00 76.5px,#00ff00 85.5px,#00ff8c 94.5px,#00b0ff 103.5px,#009dff 112.5px,#006cff 121.5px,#00ecff 130.5px,#00ff8c 139.5px,#00ff12 148.5px,#00ff8c 157.5px,#00ff8c 166.5px,#00ff8c 175.5px,#00ffff 184.5px,#009dff 193.5px,#009dff 202.5px,#0064ff 211.5px,#0064ff 220.5px,#0000eb 229.5px,#0000eb 238.5px,#0000eb 247.5px,#0000eb 256.5px,#0000eb 265.5px,#0058fc 274.5px,#009dff 283.5px,#00ff9a 292.5px,#00ff12 301.5px,#00ff9a 310.5px,#00ff9a 319.5px,#00ff9a 328.5px,#00f4ff 337.5px,#00ecff 346.5px,#00dffc 355.5px)"></i>
<i class="r" style="top:272px;background:linear-gradient(90deg,#000cee 4.5px,#00ff8c 13.5px,#96ff00 22.5px,#ffc800 31.5px,#96ff00 40.5px,#00ffff 49.5px,#0000eb 58.5px,#ffff00 67.5px,#a3ff00 76.5px,#00ff00 85.5px,#00ff8c 94.5px,#00a5ff 103.5px,#009dff 112.5px,#0064ff 121.5px,#00fff1 130.5px,#00ff8c 139.5px,#00ff00 148.5px,#00ff8c 157.5px,#00ff8c 166.5px,#00ff8c 175.5px,#00ffff 184.5px,#00a5ff 193.5px,#00a5ff 202.5px,#006cff 211.5px,#006cff 220.5px,#000cee 229.5px,#000cee 238.5px,#000cee 247.5px,#000cee 256.5px,#0000eb 265.5px,#0064ff 274.5px,#00a5ff 283.5px,#00ff8c 292.5px,#13ff00 301.5px,#00ff7a 310.5px,#00ff8c 319.5px,#00ff8c 328.5px,#00fff1 337.5px,#00fff1 346.5px,#00ffff 355.5px)"></i>
<i class="r" style="top:274px;background:linear-gradient(90deg,#0026f2 4.5px,#00ff8c 13.5px,#96ff00 22.5px,#ffc800 31.5px,#96ff00 40.5px,#00ffff 49.5px,#0000eb 58.5px,#ffff00 67.5px,#bdff00 76.5px,#00ff00 85.5px,#00ff8c 94.5px,#00a5ff 103.5px,#008dff 112.5px,#0064ff 121.5px,#00ffd4 130.5px,#00ff8c 139.5px,#00ff00 148.5px,#00ff8c 157.5px,#00ff8c 166.5px,#00ff8c 175.5px,#00ffff 184.5px,#00a5ff 193.5px,#00a5ff 202.5px,#007cff 211.5px,#007cff 220.5px,#0026f2 229.5px,#0026f2 238.5px,#0026f2 247.5px,#0026f2 256.5px,#0000eb 265.5px,#0064ff 274.5px,#00a5ff 283.5px,#00ff8c 292.5px,#38ff00 301.5px,#00ff58 310.5px,#00ff8c 319.5px,#00ff8c 328.5px,#00ffd4 337.5px,#00ffd4 346.5px,#00ffff 355.5px)"></i>
<i class="r" style="top:276px;background:linear-gradient(90deg,#003ef8 4.5px,#00ff8c 13.5px,#96ff00 22.5px,#ffc800 31.5px,#96ff00 40.5px,#00ffff 49.5px,#0000eb 58.5px,#ffff00 67.5px,#d8ff00 76.5px,#00ff00 85.5px,#00ff8c 94.5px,#00a5ff 103.5px,#007cff 112.5px,#0064ff 121.5px,#00ffb7 130.5px,#00ff8c 139.5px,#00ff00 148.5px,#00ff8c 157.5px,#00ff8c 166.5px,#00ff8c 175.5px,#00ffff 184.5px,#00a5ff 193.5px,#00a5ff 202.5px,#008dff 211.5px,#008dff 220.5px,#003ef8 229.5px,#003ef8 238.5px,#003ef8 247.5px,#003ef8 256.5px,#0000eb 265.5px,#0064ff 274.5px,#00a5ff 283.5px,#00ff8c 292.5px,#5eff00 301.5px,#00ff34 310.5px,#00ff8c 319.5px,#00ff8c 328.5px,#00ffb7 337.5px,#00ffb7 346.5px,#00ffff 355.5px)"></i>
<i class="r" style="top:278px;background:linear-gradient(90deg,#0058fc 4.5px,#00ff8c 13.5px,#96ff00 22.5px,#ffc800 31.5px,#96ff00 40.5px,#00ffff 49.5px,#0000eb 58.5px,#ffff00 67.5px,#f2ff00 76.5px,#00ff00 85.5px,#00ff8c 94.5px,#00a5ff 103.5px,#006cff 112.5px,#0064ff 121.5px,#00ff9a 130.5px,#00ff8c 139.5px,#00ff00 148.5px,#00ff8c 157.5px,#00ff8c 166.5px,#00ff8c 175.5px,#00ffff 184.5px,#00a5ff 193.5px,#00a5ff 202.5px,#009dff 211.5px,#009dff 220.5px,#0058fc 229.5px,#0058fc 238.5px,#0058fc 247.5px,#0058fc 256.5px,#0000eb 265.5px,#0064ff 274.5px,#00a5ff 283.5px,#00ff8c 292.5px,#83ff00 301.5px,#00ff12 310.5px,#00ff8c 319.5px,#00ff8c 328.5px,#00ff9a 337.5px,#00ff9a 346.5px,#00ffff 355.5px)"></i>
<i class="r" style="top:280px;background:linear-gradient(90deg,#0064ff 4.5px,#00ff7a 13.5px,#a3ff00 22.5px,#ffc800 31.5px,#a3ff00 40.5px,#00dffc 49.5px,#000cee 58.5px,#fff800 67.5px,#ffff00 76.5px,#00ff00 85.5px,#00ff8c 94.5px,#00b0ff 103.5px,#006cff 112.5px,#0077ff 121.5px,#00ff7a 130.5px,#13ff7a 139.5px,#00ff00 148.5px,#00ff8c 157.5px,#00ff8c 166.5px,#00ff8c 175.5px,#00ffff 184.5px,#00b0ff 193.5px,#00b0ff 202.5px,#00a5ff 211.5px,#00a5ff 220.5px,#0064ff 229.5px,#0064ff 238.5px,#0064ff 247.5px,#006cff 256.5px,#000cee 265.5px,#0064ff 274.5px,#00b0ff 283.5px,#00ff8c 292.5px,#96ff00 301.5px,#00ff00 310.5px,#00ff7a 319.5px,#00ff7a 328.5px,#00ff8c 337.5px,#00ff8c 346.5px,#00ffff 355.5px)"></i>
<i class="r" style="top:282px;background:linear-gradient(90deg,#0064ff 4.5px,#00ff58 13.5px,#bdff00 22.5px,#ffc800 31.5px,#bdff00 40.5px,#009ff8 49.5px,#0026f2 58.5px,#ffea00 67.5px,#ffff00 76.5px,#00ff00 85.5px,#00ff8c 94.5px,#00c7ff 103.5px,#007cff 112.5px,#009eff 121.5px,#00ff58 130.5px,#38ff58 139.5px,#00ff00 148.5px,#00ff8c 157.5px,#00ff8c 166.5px,#00ff8c 175.5px,#00ffff 184.5px,#00c7ff 193.5px,#00c7ff 202.5px,#00a5ff 211.5px,#00a5ff 220.5px,#0064ff 229.5px,#0064ff 238.5px,#0064ff 247.5px,#007cff 256.5px,#0026f2 265.5px,#0064ff 274.5px,#00c7ff 283.5px,#00ff8c 292.5px,#96ff00 301.5px,#00ff00 310.5px,#00ff58 319.5px,#00ff58 328.5px,#00ff8c 337.5px,#00ff8c 346.5px,#00ffff 355.5px)"></i>
<i class="r" style="top:284px;background:linear-gradient(90deg,#0064ff 4.5px,#00ff34 13.5px,#d8ff00 22.5px,#ffc800 31.5px,#d8ff00 40.5px,#0060f2 49.5px,#003ef8 58.5px,#ffdd00 67.5px,#ffff00 76.5px,#00ff00 85.5px,#00ff8c 94.5px,#00ddff 103.5px,#008dff 112.5px,#00c5ff 121.5px,#00ff34 130.5px,#5eff34 139.5px,#00ff00 148.5px,#00ff8c 157.5px,#00ff8c 166.5px,#00ff8c 175.5px,#00ffff 184.5px,#00ddff 193.5px,#00ddff 202.5px,#00a5ff 211.5px,#00a5ff 220.5px,#0064ff 229.5px,#0064ff 238.5px,#0064ff 247.5px,#008dff 256.5px,#003ef8 265.5px,#0064ff 274.5px,#00ddff 283.5px,#00ff8c 292.5px,#96ff00 301.5px,#00ff00 310.5px,#00ff34 319.5px,#00ff34 328.5px,#00ff8c 337.5px,#00ff8c 346.5px,#00ffff 355.5px)"></i>
<i class="r" style="top:286px;background:linear-gradient(90deg,#0064ff 4.5px,#00ff12 13.5px,#f2ff00 22.5px,#ffc800 31.5px,#f2ff00 40.5px,#0020ee 49.5px,#0058fc 58.5px,#ffcf00 67.5px,#ffff00 76.5px,#00ff00 85.5px,#00ff8c 94.5px,#00f4ff 103.5px,#009dff 112.5px,#00ecff 121.5px,#00ff12 130.5px,#83ff12 139.5px,#00ff00 148.5px,#00ff8c 157.5px,#00ff8c 166.5px,#00ff8c 175.5px,#00ffff 184.5px,#00f4ff 193.5px,#00f4ff 202.5px,#00a5ff 211.5px,#00a5ff 220.5px,#0064ff 229.5px,#0064ff 238.5px,#0064ff 247.5px,#009dff 256.5px,#0058fc 265.5px,#0064ff 274.5px,#00f4ff 283.5px,#00ff8c 292.5px,#96ff00 301.5px,#00ff00 310.5px,#00ff12 319.5px,#00ff12 328.5px,#00ff8c 337.5px,#00ff8c 346.5px,#00ffff 355.5px)"></i>
<i class="r" style="top:288px;background:linear-gradient(90deg,#0077ff 4.5px,#00ff00 13.5px,#ffff00 22.5px,#ffcf00 31.5px,#ffff00 40.5px,#0000eb 49.5px,#0058fc 58.5px,#ffcf00 67.5px,#ffff00 76.5px,#00ff00 85.5px,#00ff7a 94.5px,#00fff1 103.5px,#00b0f1 112.5px,#00fff1 121.5px,#00ff00 130.5px,#96ff00 139.5px,#00ff00 148.5px,#00ff8c 157.5px,#00ff8c 166.5px,#00ff8c 175.5px,#00fff1 184.5px,#00ffff 193.5px,#00ffff 202.5px,#00b0ff 211.5px,#00b0ff 220.5px,#006cff 229.5px,#006cff 238.5px,#0077ff 247.5px,#00b0ff 256.5px,#006cff 265.5px,#006cff 274.5px,#00ffff 283.5px,#00ff7a 292.5px,#96ff00 301.5px,#00ff00 310.5px,#00ff00 319.5px,#00ff00 328.5px,#00ff7a 337.5px,#00ff7a 346.5px,#00fff1 355.5px)"></i>
<i class="r" style="top:290px;background:linear-gradient(90deg,#009eff 4.5px,#00ff00 13.5px,#ffff00 22.5px,#ffdd00 31.5px,#ffff00 40.5px,#0000eb 49.5px,#003ef8 58.5px,#ffdd00 67.5px,#ffff00 76.5px,#00ff00 85.5px,#00ff58 94.5px,#00ffd4 103.5px,#00c7d4 112.5px,#00ffd4 121.5px,#00ff00 130.5px,#96ff00 139.5px,#00ff00 148.5px,#00ff8c 157.5px,#00ff8c 166.5px,#00ff8c 175.5px,#00ffd4 184.5px,#00ffff 193.5px,#00ffff 202.5px,#00c7ff 211.5px,#00c7ff 220.5px,#007cff 229.5px,#007cff 238.5px,#009eff 247.5px,#00c7ff 256.5px,#007cff 265.5px,#007cff 274.5px,#00ffff 283.5px,#00ff58 292.5px,#96ff00 301.5px,#00ff00 310.5px,#00ff00 319.5px,#00ff00 328.5px,#00ff58 337.5px,#00ff58 346.5px,#00ffd4 355.5px)"></i>
<i class="r" style="top:292px;background:linear-gradient(90deg,#00c5ff 4.5px,#00ff00 13.5px,#ffff00 22.5px,#ffea00 31.5px,#ffff00 40.5px,#0000eb 49.5px,#0026f2 58.5px,#ffea00 67.5px,#ffff00 76.5px,#00ff00 85.5px,#00ff34 94.5px,#00ffb7 103.5px,#00ddb7 112.5px,#00ffb7 121.5px,#00ff00 130.5px,#96ff00 139.5px,#00ff00 148.5px,#00ff8c 157.5px,#00ff8c 166.5px,#00ff8c 175.5px,#00ffb7 184.5px,#00ffff 193.5px,#00ffff 202.5px,#00ddff 211.5px,#00ddff 220.5px,#008dff 229.5px,#008dff 238.5px,#00c5ff 247.5px,#00ddff 256.5px,#008dff 265.5px,#008dff 274.5px,#00ffff 283.5px,#00ff34 292.5px,#96ff00 301.5px,#00ff00 310.5px,#00ff00 319.5px,#00ff00 328.5px,#00ff34 337.5px,#00ff34 346.5px,#00ffb7 355.5px)"></i>
<i class="r" style="top:294px;background:linear-gradient(90deg,#00ecff 4.5px,#00ff00 13.5px,#ffff00 22.5px,#fff800 31.5px,#ffff00 40.5px,#0000eb 49.5px,#000cee 58.5px,#fff800 67.5px,#ffff00 76.5px,#00ff00 85.5px,#00ff12 94.5px,#00ff9a 103.5px,#00f49a 112.5px,#00ff9a 121.5px,#00ff00 130.5px,#96ff00 139.5px,#00ff00 148.5px,#00ff8c 157.5px,#00ff8c 166.5px,#00ff8c 175.5px,#00ff9a 184.5px,#00ffff 193.5px,#00ffff 202.5px,#00f4ff 211.5px,#00f4ff 220.5px,#009dff 229.5px,#009dff 238.5px,#00ecff 247.5px,#00f4ff 256.5px,#009dff 265.5px,#009dff 274.5px,#00ffff 283.5px,#00ff12 292.5px,#96ff00 301.5px,#00ff00 310.5px,#00ff00 319.5px,#00ff00 328.5px,#00ff12 337.5px,#00ff12 346.5px,#00ff9a 355.5px)"></i>
<i class="r" style="top:296px;background:linear-gradient(90deg,#00ffef 4.5px,#00ff00 13.5px,#f0ff00 22.5px,#ffff00 31.5px,#f0ff00 40.5px,#0000eb 49.5px,#0000eb 58.5px,#f0ff00 67.5px,#ffff00 76.5px,#00ff00 85.5px,#00ff00 94.5px,#00ff78 103.5px,#00ff78 112.5px,#00ff78 121.5px,#00ff00 130.5px,#96ff00 139.5px,#00ff00 148.5px,#00ff78 157.5px,#00ff78 166.5px,#00ff78 175.5px,#00ff78 184.5px,#00ffef 193.5px,#00ffff 202.5px,#00ffff 211.5px,#00ffff 220.5px,#00b2ff 229.5px,#00b2ff 238.5px,#00ffff 247.5px,#00ffff 256.5px,#00b2ff 265.5px,#00b2ff 274.5px,#00ffef 283.5px,#00ff00 292.5px,#96ff00 301.5px,#00ff00 310.5px,#00ff00 319.5px,#00ff00 328.5px,#00ff00 337.5px,#00ff00 346.5px,#00ff78 355.5px)"></i>
<i class="r" style="top:298px;background:linear-gradient(90deg,#00ffce 4.5px,#00ff00 13.5px,#d2ff00 22.5px,#ffff00 31.5px,#d2ff00 40.5px,#0000eb 49.5px,#0000eb 58.5px,#d2ff00 67.5px,#ffff00 76.5px,#00ff00 85.5px,#00ff00 94.5px,#00ff50 103.5px,#00ff50 112.5px,#00ff50 121.5px,#00ff00 130.5px,#96ff00 139.5px,#00ff00 148.5px,#00ff50 157.5px,#00ff50 166.5px,#00ff50 175.5px,#00ff50 184.5px,#00ffce 193.5px,#00ffff 202.5px,#00ffff 211.5px,#00ffff 220.5px,#00ccff 229.5px,#00ccff 238.5px,#00ffff 247.5px,#00ffff 256.5px,#00ccff 265.5px,#00ccff 274.5px,#00ffce 283.5px,#00ff00 292.5px,#96ff00 301.5px,#00ff00 310.5px,#00ff00 319.5px,#00ff00 328.5px,#00ff00 337.5px,#00ff00 346.5px,#00ff50 355.5px)"></i>
<i class="r" style="top:300px;background:linear-gradient(90deg,#00ffad 4.5px,#00ff00 13.5px,#b4ff00 22.5px,#ffff00 31.5px,#b4ff00 40.5px,#0000eb 49.5px,#0000eb 58.5px,#b4ff00 67.5px,#ffff00 76.5px,#00ff00 85.5px,#00ff00 94.5px,#00ff28 103.5px,#00ff28 112.5px,#00ff28 121.5px,#00ff00 130.5px,#96ff00 139.5px,#00ff00 148.5px,#00ff28 157.5px,#00ff28 166.5px,#00ff28 175.5px,#00ff28 184.5px,#00ffad 193.5px,#00ffff 202.5px,#00ffff 211.5px,#00ffff 220.5px,#00e5ff 229.5px,#00e5ff 238.5px,#00ffff 247.5px,#00ffff 256.5px,#00e5ff 265.5px,#00e5ff 274.5px,#00ffad 283.5px,#00ff00 292.5px,#96ff00 301.5px,#00ff00 310.5px,#00ff00 319.5px,#00ff00 328.5px,#00ff00 337.5px,#00ff00 346.5px,#00ff28 355.5px)"></i>
<i class="r" style="top:302px;background:linear-gradient(90deg,#00ff8c 4.5px,#00ff00 13.5px,#96ff00 22.5px,#ffff00 31.5px,#96ff00 40.5px,#0000eb 49.5px,#0000eb 58.5px,#96ff00 67.5px,#ffff00 76.5px,#00ff00 85.5px,#00ff00 94.5px,#00ff00 103.5px,#00ff00 112.5px,#00ff00 121.5px,#00ff00 130.5px,#96ff00 139.5px,#00ff00 148.5px,#00ff00 157.5px,#00ff00 166.5px,#00ff00 175.5px,#00ff00 184.5px,#00ff8c 193.5px,#00ffff 202.5px,#00ffff 211.5px,#00ffff 220.5px,#00ffff 229.5px,#00ffff 238.5px,#00ffff 247.5px,#00ffff 256.5px,#00ffff 265.5px,#00ffff 274.5px,#00ff8c 283.5px,#00ff00 292.5px,#96ff00 301.5px,#00ff00 310.5px,#00ff00 319.5px,#00ff00 328.5px,#00ff00 337.5px,#00ff00 346.5px,#00ff00 355.5px)"></i>
<i class="r" style="top:304px;background:linear-gradient(90deg,#00ff8c 4.5px,#00ff00 13.5px,#96ff00 22.5px,#ffff00 31.5px,#96ff00 40.5px,#0000eb 49.5px,#0000eb 58.5px,#96ff00 67.5px,#ffff00 76.5px,#00ff00 85.5px,#00ff00 94.5px,#00ff00 103.5px,#00ff00 112.5px,#00ff00 121.5px,#00ff00 130.5px,#96ff00 139.5px,#00ff00 148.5px,#00ff00 157.5px,#00ff00 166.5px,#00ff00 175.5px,#00ff00 184.5px,#00ff8c 193.5px,#00ffff 202.5px,#00ffff 211.5px,#00ffff 220.5px,#00ffff 229.5px,#00ffff 238.5px,#00ffff 247.5px,#00ffff 256.5px,#00ffff 265.5px,#00ffff 274.5px,#00ff8c 283.5px,#00ff00 292.5px,#96ff00 301.5px,#00ff00 310.5px,#00ff00 319.5px,#00ff00 328.5px,#00ff00 337.5px,#00ff00 346.5px,#00ff00 355.5px)"></i>
<i class="r" style="top:312px;background:linear-gradient(90deg,#00ff00 4.5px,#96ff00 13.5px,#ffff00 22.5px,#ffff00 31.5px,#00ffff 40.5px,#0064ff 49.5px,#96ff00 58.5px,#ffc800 67.5px,#96ff00 76.5px,#96ff00 85.5px,#00ff00 94.5px,#00ff00 103.5px,#00ff00 112.5px,#00ff00 121.5px,#00ff00 130.5px,#96ff00 139.5px,#00ff00 148.5px,#00ff00 157.5px,#00ff00 166.5px,#00ff00 175.5px,#00ff00 184.5px,#00ff8c 193.5px,#00ff8c 202.5px,#00ffff 211.5px,#00ffff 220.5px,#00ffff 229.5px,#00ffff 238.5px,#00ffff 247.5px,#00ffff 256.5px,#00ffff 265.5px,#00a5ff 274.5px,#00ffff 283.5px,#00ff00 292.5px,#96ff00 301.5px,#00ff00 310.5px,#00ff00 319.5px,#00ff00 328.5px,#00ff00 337.5px,#00ff00 346.5px,#00ff00 355.5px)"></i>
<i class="r" style="top:314px;background:linear-gradient(90deg,#00ff2a 4.5px,#7dff17 13.5px,#ffff00 22.5px,#eeff00 31.5px,#00f0ff 40.5px,#006fff 49.5px,#7dff2a 58.5px,#ffd100 67.5px,#a8ea00 76.5px,#7dff17 85.5px,#00ff00 94.5px,#00ff00 103.5px,#00ff00 112.5px,#00ff00 121.5px,#19ff00 130.5px,#7dff00 139.5px,#00ff17 148.5px,#00ff17 157.5px,#00ff17 166.5px,#00ff17 175.5px,#00ff17 184.5px,#00ff8c 193.5px,#00ff8c 202.5px,#00ffec 211.5px,#00ffec 220.5px,#00ffec 229.5px,#00ffff 238.5px,#00ffff 247.5px,#00ffff 256.5px,#00ffff 265.5px,#00b4ff 274.5px,#00ffff 283.5px,#00ff17 292.5px,#96ff00 301.5px,#00ff00 310.5px,#00ff00 319.5px,#00ff00 328.5px,#00ff00 337.5px,#00ff00 346.5px,#00ff00 355.5px)"></i>
<i class="r" style="top:316px;background:linear-gradient(90deg,#00ff80 4.5px,#4bff46 13.5px,#ffff00 22.5px,#caff00 31.5px,#00d2ff 40.5px,#0084ff 49.5px,#4bff80 58.5px,#ffe400 67.5px,#cac000 76.5px,#4bff46 85.5px,#00ff00 94.5px,#00ff00 103.5px,#00ff00 112.5px,#00ff00 121.5px,#4bff00 130.5px,#4bff00 139.5px,#00ff46 148.5px,#00ff46 157.5px,#00ff46 166.5px,#00ff46 175.5px,#00ff46 184.5px,#00ff8c 193.5px,#00ff8c 202.5px,#00ffc6 211.5px,#00ffc6 220.5px,#00ffc6 229.5px,#00ffff 238.5px,#00ffff 247.5px,#00ffff 256.5px,#00ffff 265.5px,#00d2ff 274.5px,#00ffff 283.5px,#00ff46 292.5px,#96ff00 301.5px,#00ff00 310.5px,#00ff00 319.5px,#00ff00 328.5px,#00ff00 337.5px,#00ff00 346.5px,#00ff00 355.5px)"></i>
<i class="r" style="top:318px;background:linear-gradient(90deg,#00ffd4 4.5px,#19ff75 13.5px,#ffff00 22.5px,#a8ff00 31.5px,#00b4ff 40.5px,#009aff 49.5px,#19ffd4 58.5px,#fff600 67.5px,#ee9700 76.5px,#19ff75 85.5px,#00ff00 94.5px,#00ff00 103.5px,#00ff00 112.5px,#00ff00 121.5px,#7dff00 130.5px,#19ff00 139.5px,#00ff75 148.5px,#00ff75 157.5px,#00ff75 166.5px,#00ff75 175.5px,#00ff75 184.5px,#00ff8c 193.5px,#00ff8c 202.5px,#00ff9f 211.5px,#00ff9f 220.5px,#00ff9f 229.5px,#00ffff 238.5px,#00ffff 247.5px,#00ffff 256.5px,#00ffff 265.5px,#00f0ff 274.5px,#00ffff 283.5px,#00ff75 292.5px,#96ff00 301.5px,#00ff00 310.5px,#00ff00 319.5px,#00ff00 328.5px,#00ff00 337.5px,#00ff00 346.5px,#00ff00 355.5px)"></i>
<i class="r" style="top:320px;background:linear-gradient(90deg,#00ffff 4.5px,#00ff7a 13.5px,#ffff00 22.5px,#96ff00 31.5px,#00a5ff 40.5px,#00a5ff 49.5px,#00ffff 58.5px,#f2ff00 67.5px,#ff8200 76.5px,#00ff8c 85.5px,#13ff00 94.5px,#00ff00 103.5px,#00ff00 112.5px,#13ff00 121.5px,#96ff00 130.5px,#00ff00 139.5px,#00ff8c 148.5px,#00ff8c 157.5px,#00ff8c 166.5px,#00ff8c 175.5px,#00ff7a 184.5px,#00ff8c 193.5px,#00ff8c 202.5px,#00ff8c 211.5px,#00ff8c 220.5px,#00ff8c 229.5px,#00ffff 238.5px,#00ffff 247.5px,#00ffff 256.5px,#00ffff 265.5px,#00ffff 274.5px,#00ffff 283.5px,#00ff8c 292.5px,#96ff00 301.5px,#00ff00 310.5px,#00ff00 319.5px,#00ff00 328.5px,#13ff00 337.5px,#00ff00 346.5px,#13ff00 355.5px)"></i>
<i class="r" style="top:322px;background:linear-gradient(90deg,#00ffff 4.5px,#00ff58 13.5px,#ffff00 22.5px,#96ff00 31.5px,#00a5ff 40.5px,#00a5ff 49.5px,#00ffff 58.5px,#d8ff00 67.5px,#ff8200 76.5px,#00ff8c 85.5px,#38ff00 94.5px,#00ff00 103.5px,#00ff00 112.5px,#38ff00 121.5px,#96ff00 130.5px,#00ff00 139.5px,#00ff8c 148.5px,#00ff8c 157.5px,#00ff8c 166.5px,#00ff8c 175.5px,#00ff58 184.5px,#00ff8c 193.5px,#00ff8c 202.5px,#00ff8c 211.5px,#00ff8c 220.5px,#00ff8c 229.5px,#00ffff 238.5px,#00ffff 247.5px,#00ffff 256.5px,#00ffff 265.5px,#00ffff 274.5px,#00ffff 283.5px,#00ff8c 292.5px,#96ff00 301.5px,#00ff00 310.5px,#00ff00 319.5px,#00ff00 328.5px,#38ff00 337.5px,#00ff00 346.5px,#38ff00 355.5px)"></i>
<i class="r" style="top:324px;background:linear-gradient(90deg,#00ffff 4.5px,#00ff34 13.5px,#ffff00 22.5px,#96ff00 31.5px,#00a5ff 40.5px,#00a5ff 49.5px,#00ffff 58.5px,#bdff00 67.5px,#ff8200 76.5px,#00ff8c 85.5px,#5eff00 94.5px,#00ff00 103.5px,#00ff00 112.5px,#5eff00 121.5px,#96ff00 130.5px,#00ff00 139.5px,#00ff8c 148.5px,#00ff8c 157.5px,#00ff8c 166.5px,#00ff8c 175.5px,#00ff34 184.5px,#00ff8c 193.5px,#00ff8c 202.5px,#00ff8c 211.5px,#00ff8c 220.5px,#00ff8c 229.5px,#00ffff 238.5px,#00ffff 247.5px,#00ffff 256.5px,#00ffff 265.5px,#00ffff 274.5px,#00ffff 283.5px,#00ff8c 292.5px,#96ff00 301.5px,#00ff00 310.5px,#00ff00 319.5px,#00ff00 328.5px,#5eff00 337.5px,#00ff00 346.5px,#5eff00 355.5px)"></i>
<i class="r" style="top:326px;background:linear-gradient(90deg,#00ffff 4.5px,#00ff12 13.5px,#ffff00 22.5px,#96ff00 31.5px,#00a5ff 40.5px,#00a5ff 49.5px,#00ffff 58.5px,#a3ff00 67.5px,#ff8200 76.5px,#00ff8c 85.5px,#83ff00 94.5px,#00ff00 103.5px,#00ff00 112.5px,#83ff00 121.5px,#96ff00 130.5px,#00ff00 139.5px,#00ff8c 148.5px,#00ff8c 157.5px,#00ff8c 166.5px,#00ff8c 175.5px,#00ff12 184.5px,#00ff8c 193.5px,#00ff8c 202.5px,#00ff8c 211.5px,#00ff8c 220.5px,#00ff8c 229.5px,#00ffff 238.5px,#00ffff 247.5px,#00ffff 256.5px,#00ffff 265.5px,#00ffff 274.5px,#00ffff 283.5px,#00ff8c 292.5px,#96ff00 301.5px,#00ff00 310.5px,#00ff00 319.5px,#00ff00 328.5px,#83ff00 337.5px,#00ff00 346.5px,#83ff00 355.5px)"></i>
<i class="r" style="top:328px;background:linear-gradient(90deg,#00fff1 4.5px,#00ff00 13.5px,#ffff00 22.5px,#96ff00 31.5px,#00a5ff 40.5px,#00a5ff 49.5px,#00ffff 58.5px,#83ff00 67.5px,#ff8b00 76.5px,#00ff8c 85.5px,#96ff00 94.5px,#13ff00 103.5px,#13ff00 112.5px,#96ff00 121.5px,#a3ff00 130.5px,#00ff00 139.5px,#00ff8c 148.5px,#00ff8c 157.5px,#00ff8c 166.5px,#00ff8c 175.5px,#00ff00 184.5px,#00ff8c 193.5px,#00ff8c 202.5px,#00ff8c 211.5px,#00ff8c 220.5px,#00ff8c 229.5px,#00ffff 238.5px,#00ffff 247.5px,#00ffff 256.5px,#00ffff 265.5px,#00ffff 274.5px,#00ffff 283.5px,#00ff8c 292.5px,#96ff00 301.5px,#00ff00 310.5px,#00ff00 319.5px,#00ff00 328.5px,#83ff00 337.5px,#00ff00 346.5px,#96ff00 355.5px)"></i>
<i class="r" style="top:330px;background:linear-gradient(90deg,#00ffd4 4.5px,#00ff00 13.5px,#ffff00 22.5px,#96ff00 31.5px,#00a5ff 40.5px,#00a5ff 49.5px,#00ffff 58.5px,#5eff00 67.5px,#ff9c00 76.5px,#00ff8c 85.5px,#96ff00 94.5px,#38ff00 103.5px,#38ff00 112.5px,#96ff00 121.5px,#bdff00 130.5px,#00ff00 139.5px,#00ff8c 148.5px,#00ff8c 157.5px,#00ff8c 166.5px,#00ff8c 175.5px,#00ff00 184.5px,#00ff8c 193.5px,#00ff8c 202.5px,#00ff8c 211.5px,#00ff8c 220.5px,#00ff8c 229.5px,#00ffff 238.5px,#00ffff 247.5px,#00ffff 256.5px,#00ffff 265.5px,#00ffff 274.5px,#00ffff 283.5px,#00ff8c 292.5px,#96ff00 301.5px,#00ff00 310.5px,#00ff00 319.5px,#00ff00 328.5px,#5eff00 337.5px,#00ff00 346.5px,#96ff00 355.5px)"></i>
<i class="r" style="top:332px;background:linear-gradient(90deg,#00ffb7 4.5px,#00ff00 13.5px,#ffff00 22.5px,#96ff00 31.5px,#00a5ff 40.5px,#00a5ff 49.5px,#00ffff 58.5px,#38ff00 67.5px,#ffae00 76.5px,#00ff8c 85.5px,#96ff00 94.5px,#5eff00 103.5px,#5eff00 112.5px,#96ff00 121.5px,#d8ff00 130.5px,#00ff00 139.5px,#00ff8c 148.5px,#00ff8c 157.5px,#00ff8c 166.5px,#00ff8c 175.5px,#00ff00 184.5px,#00ff8c 193.5px,#00ff8c 202.5px,#00ff8c 211.5px,#00ff8c 220.5px,#00ff8c 229.5px,#00ffff 238.5px,#00ffff 247.5px,#00ffff 256.5px,#00ffff 265.5px,#00ffff 274.5px,#00ffff 283.5px,#00ff8c 292.5px,#96ff00 301.5px,#00ff00 310.5px,#00ff00 319.5px,#00ff00 328.5px,#38ff00 337.5px,#00ff00 346.5px,#96ff00 355.5px)"></i>
<i class="r" style="top:334px;background:linear-gradient(90deg,#00ff9a 4.5px,#00ff00 13.5px,#ffff00 22.5px,#96ff00 31.5px,#00a5ff 40.5px,#00a5ff 49.5px,#00ffff 58.5px,#13ff00 67.5px,#ffbf00 76.5px,#00ff8c 85.5px,#96ff00 94.5px,#83ff00 103.5px,#83ff00 112.5px,#96ff00 121.5px,#f2ff00 130.5px,#00ff00 139.5px,#00ff8c 148.5px,#00ff8c 157.5px,#00ff8c 166.5px,#00ff8c 175.5px,#00ff00 184.5px,#00ff8c 193.5px,#00ff8c 202.5px,#00ff8c 211.5px,#00ff8c 220.5px,#00ff8c 229.5px,#00ffff 238.5px,#00ffff 247.5px,#00ffff 256.5px,#00ffff 265.5px,#00ffff 274.5px,#00ffff 283.5px,#00ff8c 292.5px,#96ff00 301.5px,#00ff00 310.5px,#00ff00 319.5px,#00ff00 328.5px,#13ff00 337.5px,#00ff00 346.5px,#96ff00 355.5px)"></i>
<i class="r" style="top:336px;background:linear-gradient(90deg,#00ff9a 4.5px,#00ff12 13.5px,#ffff00 22.5px,#96ff00 31.5px,#00a5ff 40.5px,#00a5ff 49.5px,#00ffff 58.5px,#00ff00 67.5px,#ffc800 76.5px,#00ff7a 85.5px,#96ff00 94.5px,#96ff00 103.5px,#96ff00 112.5px,#a3ff00 121.5px,#ffff00 130.5px,#00ff00 139.5px,#00ff7a 148.5px,#00ff8c 157.5px,#00ff7a 166.5px,#00ff8c 175.5px,#00ff00 184.5px,#00ff8c 193.5px,#00ff8c 202.5px,#00ff8c 211.5px,#00ff8c 220.5px,#00ff8c 229.5px,#00ffff 238.5px,#00ffff 247.5px,#00ffff 256.5px,#00ffff 265.5px,#00ffff 274.5px,#00ffff 283.5px,#00ff8c 292.5px,#83ff00 301.5px,#00ff00 310.5px,#00ff00 319.5px,#00ff00 328.5px,#00ff00 337.5px,#00ff00 346.5px,#96ff00 355.5px)"></i>
<i class="r" style="top:338px;background:linear-gradient(90deg,#00ffb7 4.5px,#00ff34 13.5px,#ffff00 22.5px,#96ff00 31.5px,#00a5ff 40.5px,#00a5ff 49.5px,#00ffff 58.5px,#00ff00 67.5px,#ffc800 76.5px,#00ff58 85.5px,#96ff00 94.5px,#96ff00 103.5px,#96ff00 112.5px,#bdff00 121.5px,#ffff00 130.5px,#00ff00 139.5px,#00ff58 148.5px,#00ff8c 157.5px,#00ff58 166.5px,#00ff8c 175.5px,#00ff00 184.5px,#00ff8c 193.5px,#00ff8c 202.5px,#00ff8c 211.5px,#00ff8c 220.5px,#00ff8c 229.5px,#00ffff 238.5px,#00ffff 247.5px,#00ffff 256.5px,#00ffff 265.5px,#00ffff 274.5px,#00ffff 283.5px,#00ff8c 292.5px,#5eff00 301.5px,#00ff00 310.5px,#00ff00 319.5px,#00ff00 328.5px,#00ff00 337.5px,#00ff00 346.5px,#96ff00 355.5px)"></i>
<i class="r" style="top:340px;background:linear-gradient(90deg,#00ffd4 4.5px,#00ff58 13.5px,#ffff00 22.5px,#96ff00 31.5px,#00a5ff 40.5px,#00a5ff 49.5px,#00ffff 58.5px,#00ff00 67.5px,#ffc800 76.5px,#00ff34 85.5px,#96ff00 94.5px,#96ff00 103.5px,#96ff00 112.5px,#d8ff00 121.5px,#ffff00 130.5px,#00ff00 139.5px,#00ff34 148.5px,#00ff8c 157.5px,#00ff34 166.5px,#00ff8c 175.5px,#00ff00 184.5px,#00ff8c 193.5px,#00ff8c 202.5px,#00ff8c 211.5px,#00ff8c 220.5px,#00ff8c 229.5px,#00ffff 238.5px,#00ffff 247.5px,#00ffff 256.5px,#00ffff 265.5px,#00ffff 274.5px,#00ffff 283.5px,#00ff8c 292.5px,#38ff00 301.5px,#00ff00 310.5px,#00ff00 319.5px,#00ff00 328.5px,#00ff00 337.5px,#00ff00 346.5px,#96ff00 355.5px)"></i>
<i class="r" style="top:342px;background:linear-gradient(90deg,#00fff1 4.5px,#00ff7a 13.5px,#ffff00 22.5px,#96ff00 31.5px,#00a5ff 40.5px,#00a5ff 49.5px,#00ffff 58.5px,#00ff00 67.5px,#ffc800 76.5px,#00ff12 85.5px,#96ff00 94.5px,#96ff00 103.5px,#96ff00 112.5px,#f2ff00 121.5px,#ffff00 130.5px,#00ff00 139.5px,#00ff12 148.5px,#00ff8c 157.5px,#00ff12 166.5px,#00ff8c 175.5px,#00ff00 184.5px,#00ff8c 193.5px,#00ff8c 202.5px,#00ff8c 211.5px,#00ff8c 220.5px,#00ff8c 229.5px,#00ffff 238.5px,#00ffff 247.5px,#00ffff 256.5px,#00ffff 265.5px,#00ffff 274.5px,#00ffff 283.5px,#00ff8c 292.5px,#13ff00 301.5px,#00ff00 310.5px,#00ff00 319.5px,#00ff00 328.5px,#00ff00 337.5px,#00ff00 346.5px,#96ff00 355.5px)"></i>
<i class="r" style="top:344px;background:linear-gradient(90deg,#00f4ff 4.5px,#00ff9a 13.5px,#dfff00 22.5px,#a3ff00 31.5px,#00b0ff 40.5px,#00a5ff 49.5px,#00ffff 58.5px,#00ff00 67.5px,#ffc800 76.5px,#13ff00 85.5px,#a3ff00 94.5px,#96ff00 103.5px,#a3ff00 112.5px,#ffff00 121.5px,#ffff00 130.5px,#00ff00 139.5px,#00ff00 148.5px,#00ff7a 157.5px,#00ff00 166.5px,#00ff7a 175.5px,#00ff00 184.5px,#00ff8c 193.5px,#00ff8c 202.5px,#00ff8c 211.5px,#00ff8c 220.5px,#00ff9a 229.5px,#00ffff 238.5px,#00ffff 247.5px,#00ffff 256.5px,#00ffff 265.5px,#00ffff 274.5px,#00ffff 283.5px,#00ff8c 292.5px,#00ff00 301.5px,#00ff00 310.5px,#00ff00 319.5px,#00ff00 328.5px,#00ff00 337.5px,#00ff00 346.5px,#96ff00 355.5px)"></i>
<i class="r" style="top:346px;background:linear-gradient(90deg,#00ddff 4.5px,#00ffb7 13.5px,#9fff00 22.5px,#bdff00 31.5px,#00c7ff 40.5px,#00a5ff 49.5px,#00ffff 58.5px,#00ff00 67.5px,#ffc800 76.5px,#38ff00 85.5px,#bdff00 94.5px,#96ff00 103.5px,#bdff00 112.5px,#ffff00 121.5px,#ffff00 130.5px,#00ff00 139.5px,#00ff00 148.5px,#00ff58 157.5px,#00ff00 166.5px,#00ff58 175.5px,#00ff00 184.5px,#00ff8c 193.5px,#00ff8c 202.5px,#00ff8c 211.5px,#00ff8c 220.5px,#00ffb7 229.5px,#00ffff 238.5px,#00ffff 247.5px,#00ffff 256.5px,#00ffff 265.5px,#00ffff 274.5px,#00ffff 283.5px,#00ff8c 292.5px,#00ff00 301.5px,#00ff00 310.5px,#00ff00 319.5px,#00ff00 328.5px,#00ff00 337.5px,#00ff00 346.5px,#96ff00 355.5px)"></i>
<i class="r" style="top:348px;background:linear-gradient(90deg,#00c7ff 4.5px,#00ffd4 13.5px,#60ff00 22.5px,#d8ff00 31.5px,#00ddff 40.5px,#00a5ff 49.5px,#00ffff 58.5px,#00ff00 67.5px,#ffc800 76.5px,#5eff00 85.5px,#d8ff00 94.5px,#96ff00 103.5px,#d8ff00 112.5px,#ffff00 121.5px,#ffff00 130.5px,#00ff00 139.5px,#00ff00 148.5px,#00ff34 157.5px,#00ff00 166.5px,#00ff34 175.5px,#00ff00 184.5px,#00ff8c 193.5px,#00ff8c 202.5px,#00ff8c 211.5px,#00ff8c 220.5px,#00ffd4 229.5px,#00ffff 238.5px,#00ffff 247.5px,#00ffff 256.5px,#00ffff 265.5px,#00ffff 274.5px,#00ffff 283.5px,#00ff8c 292.5px,#00ff00 301.5px,#00ff00 310.5px,#00ff00 319.5px,#00ff00 328.5px,#00ff00 337.5px,#00ff00 346.5px,#96ff00 355.5px)"></i>
<i class="r" style="top:350px;background:linear-gradient(90deg,#00b0ff 4.5px,#00fff1 13.5px,#20ff00 22.5px,#f2ff00 31.5px,#00f4ff 40.5px,#00a5ff 49.5px,#00ffff 58.5px,#00ff00 67.5px,#ffc800 76.5px,#83ff00 85.5px,#f2ff00 94.5px,#96ff00 103.5px,#f2ff00 112.5px,#ffff00 121.5px,#ffff00 130.5px,#00ff00 139.5px,#00ff00 148.5px,#00ff12 157.5px,#00ff00 166.5px,#00ff12 175.5px,#00ff00 184.5px,#00ff8c 193.5px,#00ff8c 202.5px,#00ff8c 211.5px,#00ff8c 220.5px,#00fff1 229.5px,#00ffff 238.5px,#00ffff 247.5px,#00ffff 256.5px,#00ffff 265.5px,#00ffff 274.5px,#00ffff 283.5px,#00ff8c 292.5px,#00ff00 301.5px,#00ff00 310.5px,#00ff00 319.5px,#00ff00 328.5px,#00ff00 337.5px,#00ff00 346.5px,#96ff00 355.5px)"></i>
<i class="r" style="top:352px;background:linear-gradient(90deg,#00a5ff 4.5px,#00f4ff 13.5px,#00ff12 22.5px,#ffff00 31.5px,#00ffff 40.5px,#00a5ff 49.5px,#00ffff 58.5px,#00ff00 67.5px,#ffbf00 76.5px,#96ff00 85.5px,#ffff00 94.5px,#a3ff00 103.5px,#ffff00 112.5px,#fff800 121.5px,#fff800 130.5px,#13ff00 139.5px,#00ff00 148.5px,#00ff00 157.5px,#00ff00 166.5px,#00ff00 175.5px,#00ff00 184.5px,#00ff8c 193.5px,#00ff9a 202.5px,#00ff9a 211.5px,#00ff9a 220.5px,#00f4ff 229.5px,#00ffff 238.5px,#00ffff 247.5px,#00ffff 256.5px,#00ffff 265.5px,#00ffff 274.5px,#00ffff 283.5px,#00ff8c 292.5px,#00ff00 301.5px,#00ff00 310.5px,#00ff00 319.5px,#00ff00 328.5px,#00ff00 337.5px,#00ff00 346.5px,#83ff00 355.5px)"></i>
<i class="r" style="top:354px;background:linear-gradient(90deg,#00a5ff 4.5px,#00ddff 13.5px,#00ff34 22.5px,#ffff00 31.5px,#00ffff 40.5px,#00a5ff 49.5px,#00ffff 58.5px,#00ff00 67.5px,#ffae00 76.5px,#96ff00 85.5px,#ffff00 94.5px,#bdff00 103.5px,#ffff00 112.5px,#ffea00 121.5px,#ffea00 130.5px,#38ff00 139.5px,#00ff00 148.5px,#00ff00 157.5px,#00ff00 166.5px,#00ff00 175.5px,#00ff00 184.5px,#00ff8c 193.5px,#00ffb7 202.5px,#00ffb7 211.5px,#00ffb7 220.5px,#00ddff 229.5px,#00ffff 238.5px,#00ffff 247.5px,#00ffff 256.5px,#00ffff 265.5px,#00ffff 274.5px,#00ffff 283.5px,#00ff8c 292.5px,#00ff00 301.5px,#00ff00 310.5px,#00ff00 319.5px,#00ff00 328.5px,#00ff00 337.5px,#00ff00 346.5px,#5eff00 355.5px)"></i>
<i class="r" style="top:356px;background:linear-gradient(90deg,#00a5ff 4.5px,#00c7ff 13.5px,#00ff58 22.5px,#ffff00 31.5px,#00ffff 40.5px,#00a5ff 49.5px,#00ffff 58.5px,#00ff00 67.5px,#ff9c00 76.5px,#96ff00 85.5px,#ffff00 94.5px,#d8ff00 103.5px,#ffff00 112.5px,#ffdd00 121.5px,#ffdd00 130.5px,#5eff00 139.5px,#00ff00 148.5px,#00ff00 157.5px,#00ff00 166.5px,#00ff00 175.5px,#00ff00 184.5px,#00ff8c 193.5px,#00ffd4 202.5px,#00ffd4 211.5px,#00ffd4 220.5px,#00c7ff 229.5px,#00ffff 238.5px,#00ffff 247.5px,#00ffff 256.5px,#00ffff 265.5px,#00ffff 274.5px,#00ffff 283.5px,#00ff8c 292.5px,#00ff00 301.5px,#00ff00 310.5px,#00ff00 319.5px,#00ff00 328.5px,#00ff00 337.5px,#00ff00 346.5px,#38ff00 355.5px)"></i>
<i class="r" style="top:358px;background:linear-gradient(90deg,#00a5ff 4.5px,#00b0ff 13.5px,#00ff7a 22.5px,#ffff00 31.5px,#00ffff 40.5px,#00a5ff 49.5px,#00ffff 58.5px,#00ff00 67.5px,#ff8b00 76.5px,#96ff00 85.5px,#ffff00 94.5px,#f2ff00 103.5px,#ffff00 112.5px,#ffcf00 121.5px,#ffcf00 130.5px,#83ff00 139.5px,#00ff00 148.5px,#00ff00 157.5px,#00ff00 166.5px,#00ff00 175.5px,#00ff00 184.5px,#00ff8c 193.5px,#00fff1 202.5px,#00fff1 211.5px,#00fff1 220.5px,#00b0ff 229.5px,#00ffff 238.5px,#00ffff 247.5px,#00ffff 256.5px,#00ffff 265.5px,#00ffff 274.5px,#00ffff 283.5px,#00ff8c 292.5px,#00ff00 301.5px,#00ff00 310.5px,#00ff00 319.5px,#00ff00 328.5px,#00ff00 337.5px,#00ff00 346.5px,#13ff00 355.5px)"></i>
<i class="r" style="top:360px;background:linear-gradient(90deg,#00a5ff 4.5px,#00a5ff 13.5px,#00ff8c 22.5px,#fff800 31.5px,#00ffff 40.5px,#00b0ff 49.5px,#00fff1 58.5px,#00ff00 67.5px,#ff8200 76.5px,#96ff00 85.5px,#ffff00 94.5px,#ffff00 103.5px,#ffff00 112.5px,#ffc800 121.5px,#ffc800 130.5px,#96ff00 139.5px,#00ff00 148.5px,#00ff00 157.5px,#00ff00 166.5px,#00ff00 175.5px,#00ff00 184.5px,#00ff8c 193.5px,#00ffff 202.5px,#00f4ff 211.5px,#00f4ff 220.5px,#00a5ff 229.5px,#00f4ff 238.5px,#00f4ff 247.5px,#00ffff 256.5px,#00ffff 265.5px,#00ffff 274.5px,#00ffff 283.5px,#00ff9a 292.5px,#00ff00 301.5px,#00ff12 310.5px,#00ff00 319.5px,#00ff00 328.5px,#00ff00 337.5px,#00ff00 346.5px,#00ff00 355.5px)"></i>
<i class="r" style="top:362px;background:linear-gradient(90deg,#00a5ff 4.5px,#00a5ff 13.5px,#00ff8c 22.5px,#ffea00 31.5px,#00ffff 40.5px,#00c7ff 49.5px,#00ffd4 58.5px,#00ff00 67.5px,#ff8200 76.5px,#96ff00 85.5px,#ffff00 94.5px,#ffff00 103.5px,#ffff00 112.5px,#ffc800 121.5px,#ffc800 130.5px,#96ff00 139.5px,#00ff00 148.5px,#00ff00 157.5px,#00ff00 166.5px,#00ff00 175.5px,#00ff00 184.5px,#00ff8c 193.5px,#00ffff 202.5px,#00ddff 211.5px,#00ddff 220.5px,#00a5ff 229.5px,#00ddff 238.5px,#00ddff 247.5px,#00ffff 256.5px,#00ffff 265.5px,#00ffff 274.5px,#00ffff 283.5px,#00ffb7 292.5px,#00ff00 301.5px,#00ff34 310.5px,#00ff00 319.5px,#00ff00 328.5px,#00ff00 337.5px,#00ff00 346.5px,#00ff00 355.5px)"></i>
<i class="r" style="top:364px;background:linear-gradient(90deg,#00a5ff 4.5px,#00a5ff 13.5px,#00ff8c 22.5px,#ffdd00 31.5px,#00ffff 40.5px,#00ddff 49.5px,#00ffb7 58.5px,#00ff00 67.5px,#ff8200 76.5px,#96ff00 85.5px,#ffff00 94.5px,#ffff00 103.5px,#ffff00 112.5px,#ffc800 121.5px,#ffc800 130.5px,#96ff00 139.5px,#00ff00 148.5px,#00ff00 157.5px,#00ff00 166.5px,#00ff00 175.5px,#00ff00 184.5px,#00ff8c 193.5px,#00ffff 202.5px,#00c7ff 211.5px,#00c7ff 220.5px,#00a5ff 229.5px,#00c7ff 238.5px,#00c7ff 247.5px,#00ffff 256.5px,#00ffff 265.5px,#00ffff 274.5px,#00ffff 283.5px,#00ffd4 292.5px,#00ff00 301.5px,#00ff58 310.5px,#00ff00 319.5px,#00ff00 328.5px,#00ff00 337.5px,#00ff00 346.5px,#00ff00 355.5px)"></i>
<i class="r" style="top:366px;background:linear-gradient(90deg,#00a5ff 4.5px,#00a5ff 13.5px,#00ff8c 22.5px,#ffcf00 31.5px,#00ffff 40.5px,#00f4ff 49.5px,#00ff9a 58.5px,#00ff00 67.5px,#ff8200 76.5px,#96ff00 85.5px,#ffff00 94.5px,#ffff00 103.5px,#ffff00 112.5px,#ffc800 121.5px,#ffc800 130.5px,#96ff00 139.5px,#00ff00 148.5px,#00ff00 157.5px,#00ff00 166.5px,#00ff00 175.5px,#00ff00 184.5px,#00ff8c 193.5px,#00ffff 202.5px,#00b0ff 211.5px,#00b0ff 220.5px,#00a5ff 229.5px,#00b0ff 238.5px,#00b0ff 247.5px,#00ffff 256.5px,#00ffff 265.5px,#00ffff 274.5px,#00ffff 283.5px,#00fff1 292.5px,#00ff00 301.5px,#00ff7a 310.5px,#00ff00 319.5px,#00ff00 328.5px,#00ff00 337.5px,#00ff00 346.5px,#00ff00 355.5px)"></i>
<i class="r" style="top:368px;background:linear-gradient(90deg,#00a5ff 4.5px,#00a5ff 13.5px,#00ff8c 22.5px,#ffc800 31.5px,#00ffff 40.5px,#00ffff 49.5px,#00ff8c 58.5px,#00ff00 67.5px,#ff8200 76.5px,#96ff00 85.5px,#ffff00 94.5px,#ffff00 103.5px,#ffff00 112.5px,#ffcf00 121.5px,#ffc800 130.5px,#96ff00 139.5px,#00ff00 148.5px,#00ff00 157.5px,#00ff00 166.5px,#00ff00 175.5px,#00ff12 184.5px,#00ff8c 193.5px,#00ffff 202.5px,#00a5ff 211.5px,#00a5ff 220.5px,#00a5ff 229.5px,#00a5ff 238.5px,#00a5ff 247.5px,#00ffff 256.5px,#00ffff 265.5px,#00ffff 274.5px,#00ffff 283.5px,#00f4ff 292.5px,#00ff12 301.5px,#00ff8c 310.5px,#00ff00 319.5px,#00ff00 328.5px,#00ff00 337.5px,#00ff00 346.5px,#00ff00 355.5px)"></i>
<i class="r" style="top:370px;background:linear-gradient(90deg,#00a5ff 4.5px,#00a5ff 13.5px,#00ff8c 22.5px,#ffc800 31.5px,#00ffff 40.5px,#00ffff 49.5px,#00ff8c 58.5px,#00ff00 67.5px,#ff8200 76.5px,#96ff00 85.5px,#ffff00 94.5px,#ffff00 103.5px,#ffff00 112.5px,#ffdd00 121.5px,#ffc800 130.5px,#96ff00 139.5px,#00ff00 148.5px,#00ff00 157.5px,#00ff00 166.5px,#00ff00 175.5px,#00ff34 184.5px,#00ff8c 193.5px,#00ffff 202.5px,#00a5ff 211.5px,#00a5ff 220.5px,#00a5ff 229.5px,#00a5ff 238.5px,#00a5ff 247.5px,#00ffff 256.5px,#00ffff 265.5px,#00ffff 274.5px,#00ffff 283.5px,#00ddff 292.5px,#00ff34 301.5px,#00ff8c 310.5px,#00ff00 319.5px,#00ff00 328.5px,#00ff00 337.5px,#00ff00 346.5px,#00ff00 355.5px)"></i>
<i class="r" style="top:372px;background:linear-gradient(90deg,#00a5ff 4.5px,#00a5ff 13.5px,#00ff8c 22.5px,#ffc800 31.5px,#00ffff 40.5px,#00ffff 49.5px,#00ff8c 58.5px,#00ff00 67.5px,#ff8200 76.5px,#96ff00 85.5px,#ffff00 94.5px,#ffff00 103.5px,#ffff00 112.5px,#ffea00 121.5px,#ffc800 130.5px,#96ff00 139.5px,#00ff00 148.5px,#00ff00 157.5px,#00ff00 166.5px,#00ff00 175.5px,#00ff58 184.5px,#00ff8c 193.5px,#00ffff 202.5px,#00a5ff 211.5px,#00a5ff 220.5px,#00a5ff 229.5px,#00a5ff 238.5px,#00a5ff 247.5px,#00ffff 256.5px,#00ffff 265.5px,#00ffff 274.5px,#00ffff 283.5px,#00c7ff 292.5px,#00ff58 301.5px,#00ff8c 310.5px,#00ff00 319.5px,#00ff00 328.5px,#00ff00 337.5px,#00ff00 346.5px,#00ff00 355.5px)"></i>
<i class="r" style="top:374px;background:linear-gradient(90deg,#00a5ff 4.5px,#00a5ff 13.5px,#00ff8c 22.5px,#ffc800 31.5px,#00ffff 40.5px,#00ffff 49.5px,#00ff8c 58.5px,#00ff00 67.5px,#ff8200 76.5px,#96ff00 85.5px,#ffff00 94.5px,#ffff00 103.5px,#ffff00 112.5px,#fff800 121.5px,#ffc800 130.5px,#96ff00 139.5px,#00ff00 148.5px,#00ff00 157.5px,#00ff00 166.5px,#00ff00 175.5px,#00ff7a 184.5px,#00ff8c 193.5px,#00ffff 202.5px,#00a5ff 211.5px,#00a5ff 220.5px,#00a5ff 229.5px,#00a5ff 238.5px,#00a5ff 247.5px,#00ffff 256.5px,#00ffff 265.5px,#00ffff 274.5px,#00ffff 283.5px,#00b0ff 292.5px,#00ff7a 301.5px,#00ff8c 310.5px,#00ff00 319.5px,#00ff00 328.5px,#00ff00 337.5px,#00ff00 346.5px,#00ff00 355.5px)"></i>
<i class="r" style="top:376px;background:linear-gradient(90deg,#00a5ff 4.5px,#00b0ff 13.5px,#00ff8c 22.5px,#ffc800 31.5px,#00ffff 40.5px,#00ffff 49.5px,#00ff8c 58.5px,#00ff00 67.5px,#ff8200 76.5px,#96ff00 85.5px,#ffff00 94.5px,#f2ff00 103.5px,#ffff00 112.5px,#ffff00 121.5px,#ffcf00 130.5px,#96ff00 139.5px,#00ff00 148.5px,#00ff00 157.5px,#00ff00 166.5px,#00ff00 175.5px,#00ff8c 184.5px,#00ff9a 193.5px,#00f4ff 202.5px,#00a5ff 211.5px,#00a5ff 220.5px,#00a5ff 229.5px,#00a5ff 238.5px,#00a5ff 247.5px,#00f4ff 256.5px,#00ffff 265.5px,#00ffff 274.5px,#00ffff 283.5px,#00a5ff 292.5px,#00ff8c 301.5px,#00ff8c 310.5px,#00ff12 319.5px,#00ff00 328.5px,#00ff00 337.5px,#00ff00 346.5px,#00ff00 355.5px)"></i>
<i class="r" style="top:378px;background:linear-gradient(90deg,#00a5ff 4.5px,#00c7ff 13.5px,#00ff8c 22.5px,#ffc800 31.5px,#00ffff 40.5px,#00ffff 49.5px,#00ff8c 58.5px,#00ff00 67.5px,#ff8200 76.5px,#96ff00 85.5px,#ffff00 94.5px,#d8ff00 103.5px,#ffff00 112.5px,#ffff00 121.5px,#ffdd00 130.5px,#96ff00 139.5px,#00ff00 148.5px,#00ff00 157.5px,#00ff00 166.5px,#00ff00 175.5px,#00ff8c 184.5px,#00ffb7 193.5px,#00ddff 202.5px,#00a5ff 211.5px,#00a5ff 220.5px,#00a5ff 229.5px,#00a5ff 238.5px,#00a5ff 247.5px,#00ddff 256.5px,#00ffff 265.5px,#00ffff 274.5px,#00ffff 283.5px,#00a5ff 292.5px,#00ff8c 301.5px,#00ff8c 310.5px,#00ff34 319.5px,#00ff00 328.5px,#00ff00 337.5px,#00ff00 346.5px,#00ff00 355.5px)"></i>
<i class="r" style="top:380px;background:linear-gradient(90deg,#00a5ff 4.5px,#00ddff 13.5px,#00ff8c 22.5px,#ffc800 31.5px,#00ffff 40.5px,#00ffff 49.5px,#00ff8c 58.5px,#00ff00 67.5px,#ff8200 76.5px,#96ff00 85.5px,#ffff00 94.5px,#bdff00 103.5px,#ffff00 112.5px,#ffff00 121.5px,#ffea00 130.5px,#96ff00 139.5px,#00ff00 148.5px,#00ff00 157.5px,#00ff00 166.5px,#00ff00 175.5px,#00ff8c 184.5px,#00ffd4 193.5px,#00c7ff 202.5px,#00a5ff 211.5px,#00a5ff 220.5px,#00a5ff 229.5px,#00a5ff 238.5px,#00a5ff 247.5px,#00c7ff 256.5px,#00ffff 265.5px,#00ffff 274.5px,#00ffff 283.5px,#00a5ff 292.5px,#00ff8c 301.5px,#00ff8c 310.5px,#00ff58 319.5px,#00ff00 328.5px,#00ff00 337.5px,#00ff00 346.5px,#00ff00 355.5px)"></i>
<i class="r" style="top:382px;background:linear-gradient(90deg,#00a5ff 4.5px,#00f4ff 13.5px,#00ff8c 22.5px,#ffc800 31.5px,#00ffff 40.5px,#00ffff 49.5px,#00ff8c 58.5px,#00ff00 67.5px,#ff8200 76.5px,#96ff00 85.5px,#ffff00 94.5px,#a3ff00 103.5px,#ffff00 112.5px,#ffff00 121.5px,#fff800 130.5px,#96ff00 139.5px,#00ff00 148.5px,#00ff00 157.5px,#00ff00 166.5px,#00ff00 175.5px,#00ff8c 184.5px,#00fff1 193.5px,#00b0ff 202.5px,#00a5ff 211.5px,#00a5ff 220.5px,#00a5ff 229.5px,#00a5ff 238.5px,#00a5ff 247.5px,#00b0ff 256.5px,#00ffff 265.5px,#00ffff 274.5px,#00ffff 283.5px,#00a5ff 292.5px,#00ff8c 301.5px,#00ff8c 310.5px,#00ff7a 319.5px,#00ff00 328.5px,#00ff00 337.5px,#00ff00 346.5px,#00ff00 355.5px)"></i>
<i class="r" style="top:384px;background:linear-gradient(90deg,#00a5ff 4.5px,#00ffff 13.5px,#00ff8c 22.5px,#ffbf00 31.5px,#00ffff 40.5px,#00ffff 49.5px,#00ff8c 58.5px,#00ff00 67.5px,#ff7a00 76.5px,#96ff00 85.5px,#ffff00 94.5px,#96ff00 103.5px,#f2ff00 112.5px,#ffff00 121.5px,#ffff00 130.5px,#83ff00 139.5px,#00ff00 148.5px,#00ff00 157.5px,#00ff00 166.5px,#00ff12 175.5px,#00ff8c 184.5px,#00ffff 193.5px,#00a5ff 202.5px,#00a5ff 211.5px,#00a5ff 220.5px,#00a5ff 229.5px,#00a5ff 238.5px,#00a5ff 247.5px,#00a5ff 256.5px,#00ffff 265.5px,#00ffff 274.5px,#00ffff 283.5px,#00a5ff 292.5px,#00ff9a 301.5px,#00ff8c 310.5px,#00ff8c 319.5px,#00ff12 328.5px,#00ff00 337.5px,#00ff00 346.5px,#00ff12 355.5px)"></i>
<i class="r" style="top:386px;background:linear-gradient(90deg,#00a5ff 4.5px,#00ffff 13.5px,#00ff8c 22.5px,#ffae00 31.5px,#00ffff 40.5px,#00ffff 49.5px,#00ff8c 58.5px,#00ff00 67.5px,#ff6c00 76.5px,#96ff00 85.5px,#ffff00 94.5px,#96ff00 103.5px,#d8ff00 112.5px,#ffff00 121.5px,#ffff00 130.5px,#5eff00 139.5px,#00ff00 148.5px,#00ff00 157.5px,#00ff00 166.5px,#00ff34 175.5px,#00ff8c 184.5px,#00ffff 193.5px,#00a5ff 202.5px,#00a5ff 211.5px,#00a5ff 220.5px,#00a5ff 229.5px,#00a5ff 238.5px,#00a5ff 247.5px,#00a5ff 256.5px,#00ffff 265.5px,#00ffff 274.5px,#00ffff 283.5px,#00a5ff 292.5px,#00ffb7 301.5px,#00ff8c 310.5px,#00ff8c 319.5px,#00ff34 328.5px,#00ff00 337.5px,#00ff00 346.5px,#00ff34 355.5px)"></i>
<i class="r" style="top:388px;background:linear-gradient(90deg,#00a5ff 4.5px,#00ffff 13.5px,#00ff8c 22.5px,#ff9c00 31.5px,#00ffff 40.5px,#00ffff 49.5px,#00ff8c 58.5px,#00ff00 67.5px,#ff5c00 76.5px,#96ff00 85.5px,#ffff00 94.5px,#96ff00 103.5px,#bdff00 112.5px,#ffff00 121.5px,#ffff00 130.5px,#38ff00 139.5px,#00ff00 148.5px,#00ff00 157.5px,#00ff00 166.5px,#00ff58 175.5px,#00ff8c 184.5px,#00ffff 193.5px,#00a5ff 202.5px,#00a5ff 211.5px,#00a5ff 220.5px,#00a5ff 229.5px,#00a5ff 238.5px,#00a5ff 247.5px,#00a5ff 256.5px,#00ffff 265.5px,#00ffff 274.5px,#00ffff 283.5px,#00a5ff 292.5px,#00ffd4 301.5px,#00ff8c 310.5px,#00ff8c 319.5px,#00ff58 328.5px,#00ff00 337.5px,#00ff00 346.5px,#00ff58 355.5px)"></i>
<i class="r" style="top:390px;background:linear-gradient(90deg,#00a5ff 4.5px,#00ffff 13.5px,#00ff8c 22.5px,#ff8b00 31.5px,#00ffff 40.5px,#00ffff 49.5px,#00ff8c 58.5px,#00ff00 67.5px,#ff4e00 76.5px,#96ff00 85.5px,#ffff00 94.5px,#96ff00 103.5px,#a3ff00 112.5px,#ffff00 121.5px,#ffff00 130.5px,#13ff00 139.5px,#00ff00 148.5px,#00ff00 157.5px,#00ff00 166.5px,#00ff7a 175.5px,#00ff8c 184.5px,#00ffff 193.5px,#00a5ff 202.5px,#00a5ff 211.5px,#00a5ff 220.5px,#00a5ff 229.5px,#00a5ff 238.5px,#00a5ff 247.5px,#00a5ff 256.5px,#00ffff 265.5px,#00ffff 274.5px,#00ffff 283.5px,#00a5ff 292.5px,#00fff1 301.5px,#00ff8c 310.5px,#00ff8c 319.5px,#00ff7a 328.5px,#00ff00 337.5px,#00ff00 346.5px,#00ff7a 355.5px)"></i>
<i class="r" style="top:392px;background:linear-gradient(90deg,#00b0ff 4.5px,#00fff1 13.5px,#00ff7a 22.5px,#ff8b00 31.5px,#00ffff 40.5px,#00ffff 49.5px,#00ff8c 58.5px,#00ff00 67.5px,#ff4600 76.5px,#96ff00 85.5px,#f2ff00 94.5px,#96ff00 103.5px,#96ff00 112.5px,#ffff00 121.5px,#ffff00 130.5px,#00ff00 139.5px,#00ff00 148.5px,#00ff00 157.5px,#00ff12 166.5px,#00ff8c 175.5px,#00ff9a 184.5px,#00ffff 193.5px,#00a5ff 202.5px,#00a5ff 211.5px,#00a5ff 220.5px,#00a5ff 229.5px,#00a5ff 238.5px,#00a5ff 247.5px,#00b0ff 256.5px,#00ffff 265.5px,#00ffff 274.5px,#00ffff 283.5px,#00a5ff 292.5px,#00f4ff 301.5px,#00ff8c 310.5px,#00ff8c 319.5px,#00ff8c 328.5px,#00ff12 337.5px,#00ff12 346.5px,#00ff8c 355.5px)"></i>
<i class="r" style="top:394px;background:linear-gradient(90deg,#00c7ff 4.5px,#00ffd4 13.5px,#00ff58 22.5px,#ff9c00 31.5px,#00ffff 40.5px,#00ffff 49.5px,#00ff8c 58.5px,#00ff00 67.5px,#ff4600 76.5px,#96ff00 85.5px,#d8ff00 94.5px,#96ff00 103.5px,#96ff00 112.5px,#ffff00 121.5px,#ffff00 130.5px,#00ff00 139.5px,#00ff00 148.5px,#00ff00 157.5px,#00ff34 166.5px,#00ff8c 175.5px,#00ffb7 184.5px,#00ffff 193.5px,#00a5ff 202.5px,#00a5ff 211.5px,#00a5ff 220.5px,#00a5ff 229.5px,#00a5ff 238.5px,#00a5ff 247.5px,#00c7ff 256.5px,#00ffff 265.5px,#00ffff 274.5px,#00ffff 283.5px,#00a5ff 292.5px,#00ddff 301.5px,#00ff8c 310.5px,#00ff8c 319.5px,#00ff8c 328.5px,#00ff34 337.5px,#00ff34 346.5px,#00ff8c 355.5px)"></i>
<i class="r" style="top:396px;background:linear-gradient(90deg,#00ddff 4.5px,#00ffb7 13.5px,#00ff34 22.5px,#ffae00 31.5px,#00ffff 40.5px,#00ffff 49.5px,#00ff8c 58.5px,#00ff00 67.5px,#ff4600 76.5px,#96ff00 85.5px,#bdff00 94.5px,#96ff00 103.5px,#96ff00 112.5px,#ffff00 121.5px,#ffff00 130.5px,#00ff00 139.5px,#00ff00 148.5px,#00ff00 157.5px,#00ff58 166.5px,#00ff8c 175.5px,#00ffd4 184.5px,#00ffff 193.5px,#00a5ff 202.5px,#00a5ff 211.5px,#00a5ff 220.5px,#00a5ff 229.5px,#00a5ff 238.5px,#00a5ff 247.5px,#00ddff 256.5px,#00ffff 265.5px,#00ffff 274.5px,#00ffff 283.5px,#00a5ff 292.5px,#00c7ff 301.5px,#00ff8c 310.5px,#00ff8c 319.5px,#00ff8c 328.5px,#00ff58 337.5px,#00ff58 346.5px,#00ff8c 355.5px)"></i>
<i class="r" style="top:398px;background:linear-gradient(90deg,#00f4ff 4.5px,#00ff9a 13.5px,#00ff12 22.5px,#ffbf00 31.5px,#00ffff 40.5px,#00ffff 49.5px,#00ff8c 58.5px,#00ff00 67.5px,#ff4600 76.5px,#96ff00 85.5px,#a3ff00 94.5px,#96ff00 103.5px,#96ff00 112.5px,#ffff00 121.5px,#ffff00 130.5px,#00ff00 139.5px,#00ff00 148.5px,#00ff00 157.5px,#00ff7a 166.5px,#00ff8c 175.5px,#00fff1 184.5px,#00ffff 193.5px,#00a5ff 202.5px,#00a5ff 211.5px,#00a5ff 220.5px,#00a5ff 229.5px,#00a5ff 238.5px,#00a5ff 247.5px,#00f4ff 256.5px,#00ffff 265.5px,#00ffff 274.5px,#00ffff 283.5px,#00a5ff 292.5px,#00b0ff 301.5px,#00ff8c 310.5px,#00ff8c 319.5px,#00ff8c 328.5px,#00ff7a 337.5px,#00ff7a 346.5px,#00ff8c 355.5px)"></i>
<i class="r" style="top:400px;background:linear-gradient(90deg,#00ffff 4.5px,#00ff8c 13.5px,#00ff00 22.5px,#ffc800 31.5px,#00ffff 40.5px,#00ffff 49.5px,#00ff8c 58.5px,#00ff00 67.5px,#ff4600 76.5px,#96ff00 85.5px,#96ff00 94.5px,#96ff00 103.5px,#96ff00 112.5px,#ffff00 121.5px,#ffff00 130.5px,#00ff00 139.5px,#00ff00 148.5px,#00ff00 157.5px,#00ff8c 166.5px,#00ff8c 175.5px,#00ffff 184.5px,#00ffff 193.5px,#00a5ff 202.5px,#00a5ff 211.5px,#00a5ff 220.5px,#00a5ff 229.5px,#00a5ff 238.5px,#00a5ff 247.5px,#00ffff 256.5px,#00ffff 265.5px,#00ffff 274.5px,#00ffff 283.5px,#00a5ff 292.5px,#00a5ff 301.5px,#00ff8c 310.5px,#00ff8c 319.5px,#00ff8c 328.5px,#00ff8c 337.5px,#00ff8c 346.5px,#00ff8c 355.5px)"></i>
<i class="r" style="top:402px;background:linear-gradient(90deg,#00ffff 4.5px,#00ff8c 13.5px,#00ff00 22.5px,#ffc800 31.5px,#00ffff 40.5px,#00ffff 49.5px,#00ff8c 58.5px,#00ff00 67.5px,#ff4600 76.5px,#96ff00 85.5px,#96ff00 94.5px,#96ff00 103.5px,#96ff00 112.5px,#ffff00 121.5px,#ffff00 130.5px,#00ff00 139.5px,#00ff00 148.5px,#00ff00 157.5px,#00ff8c 166.5px,#00ff8c 175.5px,#00ffff 184.5px,#00ffff 193.5px,#00a5ff 202.5px,#00a5ff 211.5px,#00a5ff 220.5px,#00a5ff 229.5px,#00a5ff 238.5px,#00a5ff 247.5px,#00ffff 256.5px,#00ffff 265.5px,#00ffff 274.5px,#00ffff 283.5px,#00a5ff 292.5px,#00a5ff 301.5px,#00ff8c 310.5px,#00ff8c 319.5px,#00ff8c 328.5px,#00ff8c 337.5px,#00ff8c 346.5px,#00ff8c 355.5px)"></i>
<i class="q" style="top:428px;height:6px;background:linear-gradient(90deg,#00ffff 4.5px,#00ffff 13.5px,#00ff00 22.5px,#ff8200 31.5px,#ffff00 40.5px,#00ff00 49.5px,#96ff00 58.5px,#96ff00 67.5px,#ff4600 76.5px,#ffc800 85.5px,#ffff00 94.5px,#ffff00 103.5px,#96ff00 112.5px,#ffff00 121.5px,#96ff00 130.5px,#00ff00 139.5px,#00ff00 148.5px,#00ff00 157.5px,#00ff00 166.5px,#00ff00 175.5px,#00ff8c 184.5px,#00ffff 193.5px,#00ffff 202.5px,#00ffff 211.5px,#00ffff 220.5px,#00ffff 229.5px,#00ffff 238.5px,#00ffff 247.5px,#00ff8c 256.5px,#00ff8c 265.5px,#00ff8c 274.5px,#00ff8c 283.5px,#00ffff 292.5px,#00ffff 301.5px,#00ff8c 310.5px,#00ff8c 319.5px,#00ff8c 328.5px,#00ff8c 337.5px,#00ff8c 346.5px,#00ff00 355.5px)"></i>
<i class="q" style="top:434px;height:11px;background:linear-gradient(90deg,#00ffff 4.5px,#00ff8c 13.5px,#96ff00 22.5px,#ff4600 31.5px,#ff8200 40.5px,#96ff00 49.5px,#96ff00 58.5px,#ffff00 67.5px,#ff8200 76.5px,#ffc800 85.5px,#ffff00 94.5px,#96ff00 103.5px,#00ff00 112.5px,#00ff00 121.5px,#00ff00 130.5px,#00ff8c 139.5px,#00ffff 148.5px,#00ff8c 157.5px,#00ffff 166.5px,#00ff8c 175.5px,#00ffff 184.5px,#00ffff 193.5px,#00ffff 202.5px,#00ffff 211.5px,#00ffff 220.5px,#00ffff 229.5px,#00ffff 238.5px,#00ffff 247.5px,#00ffff 256.5px,#00ffff 265.5px,#00ffff 274.5px,#00ffff 283.5px,#00ff8c 292.5px,#00ffff 301.5px,#00ffff 310.5px,#00ffff 319.5px,#00ffff 328.5px,#00ffff 337.5px,#00ff8c 346.5px,#00ff00 355.5px)"></i>
<i class="q" style="top:445px;height:10px;background:linear-gradient(90deg,#00ffff 4.5px,#00ff8c 13.5px,#96ff00 22.5px,#ff4600 31.5px,#ff8200 40.5px,#ffff00 49.5px,#ffc800 58.5px,#ffc800 67.5px,#ff4600 76.5px,#ff8200 85.5px,#ffff00 94.5px,#ffff00 103.5px,#00ff00 112.5px,#00ff00 121.5px,#00ff00 130.5px,#00ff00 139.5px,#00ff8c 148.5px,#00ff8c 157.5px,#00ff8c 166.5px,#00ff8c 175.5px,#00ff8c 184.5px,#00ff8c 193.5px,#00ff8c 202.5px,#00ff8c 211.5px,#00ff8c 220.5px,#00ff8c 229.5px,#00ff8c 238.5px,#00ff8c 247.5px,#00ff8c 256.5px,#00ff8c 265.5px,#00ff8c 274.5px,#00ff8c 283.5px,#00ff00 292.5px,#00ff8c 301.5px,#00ff8c 310.5px,#00ff8c 319.5px,#00ff8c 328.5px,#00ff8c 337.5px,#00ff8c 346.5px,#00ff00 355.5px)"></i>
<i class="q" style="top:455px;height:11px;background:linear-gradient(90deg,#00ffff 4.5px,#00ff00 13.5px,#96ff00 22.5px,#ff4600 31.5px,#ff8200 40.5px,#ffc800 49.5px,#ffff00 58.5px,#ffc800 67.5px,#ff4600 76.5px,#ff8200 85.5px,#ffff00 94.5px,#ffff00 103.5px,#96ff00 112.5px,#96ff00 121.5px,#96ff00 130.5px,#00ff00 139.5px,#00ff00 148.5px,#00ff00 157.5px,#00ff00 166.5px,#00ff00 175.5px,#00ff00 184.5px,#00ff8c 193.5px,#00ff8c 202.5px,#00ff8c 211.5px,#00ff8c 220.5px,#00ff8c 229.5px,#00ff8c 238.5px,#00ff8c 247.5px,#00ff8c 256.5px,#00ff8c 265.5px,#00ff8c 274.5px,#00ff8c 283.5px,#00ff00 292.5px,#00ff8c 301.5px,#00ff8c 310.5px,#00ff8c 319.5px,#00ff8c 328.5px,#00ff8c 337.5px,#00ff8c 346.5px,#00ff00 355.5px)"></i>
<i class="q" style="top:466px;height:10px;background:linear-gradient(90deg,#00ffff 4.5px,#00ff00 13.5px,#ffff00 22.5px,#ff0000 31.5px,#ff8200 40.5px,#ffff00 49.5px,#ffc800 58.5px,#ffc800 67.5px,#ff4600 76.5px,#ff4600 85.5px,#ffc800 94.5px,#ffff00 103.5px,#96ff00 112.5px,#96ff00 121.5px,#96ff00 130.5px,#00ff00 139.5px,#00ff00 148.5px,#00ff00 157.5px,#00ff00 166.5px,#00ff00 175.5px,#00ff00 184.5px,#00ff00 193.5px,#00ff00 202.5px,#00ff00 211.5px,#00ff00 220.5px,#00ff00 229.5px,#00ff00 238.5px,#00ff00 247.5px,#00ff00 256.5px,#00ff00 265.5px,#00ff00 274.5px,#00ff00 283.5px,#96ff00 292.5px,#00ff8c 301.5px,#00ff8c 310.5px,#00ff8c 319.5px,#00ff8c 328.5px,#00ff8c 337.5px,#00ff00 346.5px,#00ff00 355.5px)"></i>
<i class="q" style="top:476px;height:10px;background:linear-gradient(90deg,#00ffff 4.5px,#96ff00 13.5px,#ffc800 22.5px,#ff0000 31.5px,#ff4600 40.5px,#ff8200 49.5px,#ff8200 58.5px,#ff8200 67.5px,#ff0000 76.5px,#ff4600 85.5px,#ff8200 94.5px,#ffc800 103.5px,#ffff00 112.5px,#ffff00 121.5px,#ffff00 130.5px,#96ff00 139.5px,#96ff00 148.5px,#96ff00 157.5px,#96ff00 166.5px,#96ff00 175.5px,#96ff00 184.5px,#00ff00 193.5px,#00ff00 202.5px,#00ff00 211.5px,#00ff00 220.5px,#00ff00 229.5px,#00ff00 238.5px,#00ff00 247.5px,#00ff00 256.5px,#00ff00 265.5px,#00ff00 274.5px,#00ff00 283.5px,#ffff00 292.5px,#00ff00 301.5px,#00ff00 310.5px,#00ff00 319.5px,#00ff00 328.5px,#00ff00 337.5px,#00ff00 346.5px,#ffff00 355.5px)"></i>
<i class="q" style="top:486px;height:10px;background:linear-gradient(90deg,#00ff00 4.5px,#96ff00 13.5px,#ff8200 22.5px,#ff0000 31.5px,#ff4600 40.5px,#ff4600 49.5px,#ff4600 58.5px,#ff4600 67.5px,#ff0000 76.5px,#ff0000 85.5px,#ff4600 94.5px,#ff8200 103.5px,#ffc800 112.5px,#ffc800 121.5px,#ffc800 130.5px,#ffff00 139.5px,#ffff00 148.5px,#ffff00 157.5px,#ffff00 166.5px,#ffff00 175.5px,#ffff00 184.5px,#96ff00 193.5px,#96ff00 202.5px,#96ff00 211.5px,#96ff00 220.5px,#96ff00 229.5px,#96ff00 238.5px,#96ff00 247.5px,#96ff00 256.5px,#00ff00 265.5px,#00ff00 274.5px,#96ff00 283.5px,#ffff00 292.5px,#96ff00 301.5px,#00ff00 310.5px,#00ff00 319.5px,#96ff00 328.5px,#96ff00 337.5px,#96ff00 346.5px,#ffff00 355.5px)"></i>
<i class="q" style="top:496px;height:8px;background:linear-gradient(90deg,#96ff00 4.5px,#ffff00 13.5px,#ff8200 22.5px,#ff0000 31.5px,#ff0000 40.5px,#ff4600 49.5px,#ff0000 58.5px,#ff0000 67.5px,#ff0000 76.5px,#ff0000 85.5px,#ff4600 94.5px,#ff4600 103.5px,#ff8200 112.5px,#ff8200 121.5px,#ff8200 130.5px,#ffc800 139.5px,#ffc800 148.5px,#ffc800 157.5px,#ffc800 166.5px,#ffc800 175.5px,#ffc800 184.5px,#ffff00 193.5px,#ffff00 202.5px,#ffff00 211.5px,#ffff00 220.5px,#ffff00 229.5px,#ffff00 238.5px,#ffff00 247.5px,#ffff00 256.5px,#ffff00 265.5px,#ffff00 274.5px,#ffff00 283.5px,#ffc800 292.5px,#96ff00 301.5px,#96ff00 310.5px,#96ff00 319.5px,#96ff00 328.5px,#96ff00 337.5px,#96ff00 346.5px,#96ff00 355.5px)"></i>
<i class="w" style="left:91px;top:306px;width:362px;height:6px"></i>
<i class="w" style="left:449px;top:52px;width:4px;height:18px"></i>
<i class="w" style="left:449px;top:141px;width:4px;height:17px"></i>
<i class="w" style="left:449px;top:230px;width:4px;height:13px"></i>
<i class="w" style="left:449px;top:316px;width:4px;height:19px"></i>
<i class="w" style="left:449px;top:465px;width:4px;height:11px"></i>
<svg width="1083" height="620" viewBox="0 0 1083 620">
<path d="M137.4,52 C141.8,57.7 155.5,77.1 163.5,86.4 C171.5,95.8 178.0,101.6 185.3,108.1 C192.6,114.6 201.3,120.8 207.1,125.5 C212.9,130.2 212.8,131.3 220.1,136.4 C227.3,141.5 242.1,150.8 250.6,156 C259.1,161.2 264.4,164.1 271,167.5 C277.6,170.9 281.6,172.9 290,176.5 C298.4,180.1 310.9,185.3 321.4,189 C331.9,192.7 342.3,195.8 352.8,198.5 C363.3,201.2 373.7,203.4 384.2,205.5 C394.7,207.6 405.4,209.6 415.6,211 C425.8,212.4 440.4,213.7 445.4,214.2" stroke="#ff00ff" stroke-width="2" fill="none"/>
<text transform="translate(278.80,31.00) scale(0.9375,1)" font-size="14" text-anchor="start" xml:space="preserve" >DE 1/PWI-SFC  Spin Plane E-Field Spectra, 200 meter antenna, 104 Hz to 409 kHz</text>
<text transform="translate(459.80,44.00) scale(1,1)" font-size="9.7" text-anchor="start" xml:space="preserve" letter-spacing="0.5" stroke="#000" stroke-width="0.35">(Magenta Line: Fce in Hz)</text>
<text transform="translate(281.80,419.00) scale(0.9365,1)" font-size="14" text-anchor="start" xml:space="preserve" >DE 1/PWI-LFC  Spin Plane E-Field Spectra, 200 meter antenna, 1.78 Hz to 100 Hz</text>
<g stroke="#000" stroke-width="1" fill="none" shape-rendering="crispEdges">
<rect x="90.5" y="51.5" width="863" height="353"/>
<rect x="90.5" y="427.5" width="863" height="77"/>
<line x1="81.0" y1="404.5" x2="90.5" y2="404.5"/>
<line x1="86.0" y1="375.5" x2="90.5" y2="375.5"/>
<line x1="86.0" y1="358.5" x2="90.5" y2="358.5"/>
<line x1="86.0" y1="346.5" x2="90.5" y2="346.5"/>
<line x1="86.0" y1="336.5" x2="90.5" y2="336.5"/>
<line x1="86.0" y1="328.5" x2="90.5" y2="328.5"/>
<line x1="86.0" y1="322.5" x2="90.5" y2="322.5"/>
<line x1="86.0" y1="316.5" x2="90.5" y2="316.5"/>
<line x1="86.0" y1="311.5" x2="90.5" y2="311.5"/>
<line x1="81.0" y1="307.5" x2="90.5" y2="307.5"/>
<line x1="86.0" y1="277.5" x2="90.5" y2="277.5"/>
<line x1="86.0" y1="260.5" x2="90.5" y2="260.5"/>
<line x1="86.0" y1="248.5" x2="90.5" y2="248.5"/>
<line x1="86.0" y1="239.5" x2="90.5" y2="239.5"/>
<line x1="86.0" y1="231.5" x2="90.5" y2="231.5"/>
<line x1="86.0" y1="224.5" x2="90.5" y2="224.5"/>
<line x1="86.0" y1="219.5" x2="90.5" y2="219.5"/>
<line x1="86.0" y1="214.5" x2="90.5" y2="214.5"/>
<line x1="81.0" y1="209.5" x2="90.5" y2="209.5"/>
<line x1="86.0" y1="180.5" x2="90.5" y2="180.5"/>
<line x1="86.0" y1="163.5" x2="90.5" y2="163.5"/>
<line x1="86.0" y1="150.5" x2="90.5" y2="150.5"/>
<line x1="86.0" y1="141.5" x2="90.5" y2="141.5"/>
<line x1="86.0" y1="133.5" x2="90.5" y2="133.5"/>
<line x1="86.0" y1="127.5" x2="90.5" y2="127.5"/>
<line x1="86.0" y1="121.5" x2="90.5" y2="121.5"/>
<line x1="86.0" y1="116.5" x2="90.5" y2="116.5"/>
<line x1="81.0" y1="111.5" x2="90.5" y2="111.5"/>
<line x1="86.0" y1="82.5" x2="90.5" y2="82.5"/>
<line x1="86.0" y1="65.5" x2="90.5" y2="65.5"/>
<line x1="86.0" y1="53.5" x2="90.5" y2="53.5"/>
<line x1="86.0" y1="500.5" x2="90.5" y2="500.5"/>
<line x1="86.0" y1="492.5" x2="90.5" y2="492.5"/>
<line x1="86.0" y1="487.5" x2="90.5" y2="487.5"/>
<line x1="86.0" y1="483.5" x2="90.5" y2="483.5"/>
<line x1="86.0" y1="479.5" x2="90.5" y2="479.5"/>
<line x1="86.0" y1="476.5" x2="90.5" y2="476.5"/>
<line x1="86.0" y1="474.5" x2="90.5" y2="474.5"/>
<line x1="86.0" y1="472.5" x2="90.5" y2="472.5"/>
<line x1="81.0" y1="470.5" x2="90.5" y2="470.5"/>
<line x1="86.0" y1="457.5" x2="90.5" y2="457.5"/>
<line x1="86.0" y1="450.5" x2="90.5" y2="450.5"/>
<line x1="86.0" y1="444.5" x2="90.5" y2="444.5"/>
<line x1="86.0" y1="440.5" x2="90.5" y2="440.5"/>
<line x1="86.0" y1="437.5" x2="90.5" y2="437.5"/>
<line x1="86.0" y1="434.5" x2="90.5" y2="434.5"/>
<line x1="86.0" y1="432.5" x2="90.5" y2="432.5"/>
<line x1="86.0" y1="429.5" x2="90.5" y2="429.5"/>
<line x1="81.0" y1="428.5" x2="90.5" y2="428.5"/>
<line x1="92.5" y1="504.5" x2="92.5" y2="508.5"/>
<line x1="124.5" y1="504.5" x2="124.5" y2="513.5"/>
<line x1="156.5" y1="504.5" x2="156.5" y2="508.5"/>
<line x1="187.5" y1="504.5" x2="187.5" y2="508.5"/>
<line x1="219.5" y1="504.5" x2="219.5" y2="508.5"/>
<line x1="250.5" y1="504.5" x2="250.5" y2="513.5"/>
<line x1="282.5" y1="504.5" x2="282.5" y2="508.5"/>
<line x1="313.5" y1="504.5" x2="313.5" y2="508.5"/>
<line x1="345.5" y1="504.5" x2="345.5" y2="508.5"/>
<line x1="376.5" y1="504.5" x2="376.5" y2="513.5"/>
<line x1="408.5" y1="504.5" x2="408.5" y2="508.5"/>
<line x1="439.5" y1="504.5" x2="439.5" y2="508.5"/>
<line x1="471.5" y1="504.5" x2="471.5" y2="508.5"/>
<line x1="503.5" y1="504.5" x2="503.5" y2="513.5"/>
<line x1="534.5" y1="504.5" x2="534.5" y2="508.5"/>
<line x1="566.5" y1="504.5" x2="566.5" y2="508.5"/>
<line x1="597.5" y1="504.5" x2="597.5" y2="508.5"/>
<line x1="629.5" y1="504.5" x2="629.5" y2="513.5"/>
<line x1="660.5" y1="504.5" x2="660.5" y2="508.5"/>
<line x1="692.5" y1="504.5" x2="692.5" y2="508.5"/>
<line x1="723.5" y1="504.5" x2="723.5" y2="508.5"/>
<line x1="755.5" y1="504.5" x2="755.5" y2="513.5"/>
<line x1="786.5" y1="504.5" x2="786.5" y2="508.5"/>
<line x1="818.5" y1="504.5" x2="818.5" y2="508.5"/>
<line x1="849.5" y1="504.5" x2="849.5" y2="508.5"/>
<line x1="881.5" y1="504.5" x2="881.5" y2="513.5"/>
<line x1="913.5" y1="504.5" x2="913.5" y2="508.5"/>
<line x1="944.5" y1="504.5" x2="944.5" y2="508.5"/>
</g>
<text transform="translate(139.20,530.20) scale(0.89,1)" font-size="14" text-anchor="end" xml:space="preserve" >13:00</text>
<text transform="translate(265.37,530.20) scale(0.89,1)" font-size="14" text-anchor="end" xml:space="preserve" >14:00</text>
<text transform="translate(391.54,530.20) scale(0.89,1)" font-size="14" text-anchor="end" xml:space="preserve" >15:00</text>
<text transform="translate(517.71,530.20) scale(0.89,1)" font-size="14" text-anchor="end" xml:space="preserve" >16:00</text>
<text transform="translate(643.88,530.20) scale(0.89,1)" font-size="14" text-anchor="end" xml:space="preserve" >17:00</text>
<text transform="translate(770.05,530.20) scale(0.89,1)" font-size="14" text-anchor="end" xml:space="preserve" >18:00</text>
<text transform="translate(896.22,530.20) scale(0.89,1)" font-size="14" text-anchor="end" xml:space="preserve" >19:00</text>
<text transform="translate(139.20,546.00) scale(0.89,1)" font-size="14" text-anchor="end" xml:space="preserve" >1.396</text>
<text transform="translate(265.37,546.00) scale(0.89,1)" font-size="14" text-anchor="end" xml:space="preserve" >3.246</text>
<text transform="translate(391.54,546.00) scale(0.89,1)" font-size="14" text-anchor="end" xml:space="preserve" >4.282</text>
<text transform="translate(139.20,561.70) scale(0.89,1)" font-size="14" text-anchor="end" xml:space="preserve" >42.863</text>
<text transform="translate(265.37,561.70) scale(0.89,1)" font-size="14" text-anchor="end" xml:space="preserve" >4.370</text>
<text transform="translate(391.54,561.70) scale(0.89,1)" font-size="14" text-anchor="end" xml:space="preserve" >4.370</text>
<text transform="translate(139.20,577.50) scale(0.89,1)" font-size="14" text-anchor="end" xml:space="preserve" >5.760</text>
<text transform="translate(265.37,577.50) scale(0.89,1)" font-size="14" text-anchor="end" xml:space="preserve" >19.567</text>
<text transform="translate(391.54,577.50) scale(0.89,1)" font-size="14" text-anchor="end" xml:space="preserve" >19.346</text>
<text transform="translate(139.20,593.20) scale(0.89,1)" font-size="14" text-anchor="end" xml:space="preserve" >79.776</text>
<text transform="translate(265.37,593.20) scale(0.89,1)" font-size="14" text-anchor="end" xml:space="preserve" >29.988</text>
<text transform="translate(391.54,593.20) scale(0.89,1)" font-size="14" text-anchor="end" xml:space="preserve" >8.457</text>
<text transform="translate(54.80,545.00) scale(0.95,1)" font-size="14" text-anchor="end" xml:space="preserve" >R</text>
<text transform="translate(54.60,548.60) scale(1,1)" font-size="8.5" text-anchor="start" xml:space="preserve" >e</text>
<text transform="translate(59.20,560.70) scale(0.95,1)" font-size="14" text-anchor="end" xml:space="preserve" >L</text>
<text transform="translate(49.50,576.90) scale(0.95,1)" font-size="14" text-anchor="end" xml:space="preserve" >M</text>
<text transform="translate(49.00,580.80) scale(0.97,1)" font-size="8.5" text-anchor="start" xml:space="preserve" >LT</text>
<text transform="translate(44.40,592.90) scale(0.95,1)" font-size="14" text-anchor="end" xml:space="preserve" >M</text>
<text transform="translate(45.00,596.80) scale(0.87,1)" font-size="8.5" text-anchor="start" xml:space="preserve" >LAT</text>
<text transform="translate(429.60,612.00) scale(0.916,1)" font-size="14" text-anchor="start" xml:space="preserve" >1983-11-18 (322) 12:44 to 19:34</text>
<text transform="translate(69.50,413.00) scale(0.86,1)" font-size="14" text-anchor="end" xml:space="preserve" >10</text>
<text transform="translate(69.80,407.00) scale(0.86,1)" font-size="14" text-anchor="start" xml:space="preserve" >2</text>
<text transform="translate(69.50,315.00) scale(0.86,1)" font-size="14" text-anchor="end" xml:space="preserve" >10</text>
<text transform="translate(69.80,309.00) scale(0.86,1)" font-size="14" text-anchor="start" xml:space="preserve" >3</text>
<text transform="translate(69.50,217.00) scale(0.86,1)" font-size="14" text-anchor="end" xml:space="preserve" >10</text>
<text transform="translate(69.80,211.00) scale(0.86,1)" font-size="14" text-anchor="start" xml:space="preserve" >4</text>
<text transform="translate(69.50,119.00) scale(0.86,1)" font-size="14" text-anchor="end" xml:space="preserve" >10</text>
<text transform="translate(69.80,113.00) scale(0.86,1)" font-size="14" text-anchor="start" xml:space="preserve" >5</text>
<text transform="translate(69.50,478.00) scale(0.86,1)" font-size="14" text-anchor="end" xml:space="preserve" >10</text>
<text transform="translate(69.80,472.00) scale(0.86,1)" font-size="14" text-anchor="start" xml:space="preserve" >1</text>
<text transform="translate(69.50,436.00) scale(0.86,1)" font-size="14" text-anchor="end" xml:space="preserve" >10</text>
<text transform="translate(69.80,430.00) scale(0.86,1)" font-size="14" text-anchor="start" xml:space="preserve" >2</text>
<text transform="translate(48,229) rotate(-90) scale(0.93,1)" font-size="14" text-anchor="middle" xml:space="preserve" >Frequency (Hz)</text>
<text transform="translate(47,466) rotate(-90) scale(0.93,1)" font-size="14" text-anchor="middle" xml:space="preserve" >Freq (Hz)</text>
<defs><linearGradient id="cm" x1="0" y1="1" x2="0" y2="0"><stop offset="0" stop-color="#000080"/><stop offset="0.114" stop-color="#0000ff"/><stop offset="0.245" stop-color="#00ffff"/><stop offset="0.484" stop-color="#00ff00"/><stop offset="0.641" stop-color="#ffff00"/><stop offset="1" stop-color="#ff0000"/></linearGradient></defs>
<rect x="966" y="53" width="13" height="351" fill="url(#cm)"/>
<rect x="966" y="428" width="13" height="76" fill="url(#cm)"/>
<g stroke="#000" stroke-width="1" shape-rendering="crispEdges">
<line x1="979.5" y1="52" x2="979.5" y2="404.5"/>
<line x1="979.5" y1="52.5" x2="988.5" y2="52.5"/>
<line x1="979.5" y1="87.5" x2="983.5" y2="87.5"/>
<line x1="979.5" y1="122.5" x2="988.5" y2="122.5"/>
<line x1="979.5" y1="157.5" x2="983.5" y2="157.5"/>
<line x1="979.5" y1="192.5" x2="988.5" y2="192.5"/>
<line x1="979.5" y1="228.5" x2="983.5" y2="228.5"/>
<line x1="979.5" y1="263.5" x2="988.5" y2="263.5"/>
<line x1="979.5" y1="298.5" x2="983.5" y2="298.5"/>
<line x1="979.5" y1="333.5" x2="988.5" y2="333.5"/>
<line x1="979.5" y1="368.5" x2="983.5" y2="368.5"/>
<line x1="979.5" y1="403.5" x2="988.5" y2="403.5"/>
<line x1="979.5" y1="428" x2="979.5" y2="504.5"/>
<line x1="979.5" y1="428.5" x2="983.5" y2="428.5"/>
<line x1="979.5" y1="436.5" x2="983.5" y2="436.5"/>
<line x1="979.5" y1="443.5" x2="983.5" y2="443.5"/>
<line x1="979.5" y1="451.5" x2="983.5" y2="451.5"/>
<line x1="979.5" y1="458.5" x2="988.5" y2="458.5"/>
<line x1="979.5" y1="466.5" x2="983.5" y2="466.5"/>
<line x1="979.5" y1="473.5" x2="983.5" y2="473.5"/>
<line x1="979.5" y1="481.5" x2="983.5" y2="481.5"/>
<line x1="979.5" y1="488.5" x2="983.5" y2="488.5"/>
<line x1="979.5" y1="496.5" x2="988.5" y2="496.5"/>
<line x1="979.5" y1="504.5" x2="983.5" y2="504.5"/>
</g>
<text transform="translate(992.30,60.00) scale(0.86,1)" font-size="14" text-anchor="start" xml:space="preserve" >10</text>
<text transform="translate(1005.50,54.00) scale(0.86,1)" font-size="14" text-anchor="start" xml:space="preserve" >-6</text>
<text transform="translate(992.30,130.00) scale(0.86,1)" font-size="14" text-anchor="start" xml:space="preserve" >10</text>
<text transform="translate(1005.50,124.00) scale(0.86,1)" font-size="14" text-anchor="start" xml:space="preserve" >-8</text>
<text transform="translate(992.30,201.00) scale(0.86,1)" font-size="14" text-anchor="start" xml:space="preserve" >10</text>
<text transform="translate(1005.50,195.00) scale(0.86,1)" font-size="14" text-anchor="start" xml:space="preserve" >-10</text>
<text transform="translate(992.30,271.00) scale(0.86,1)" font-size="14" text-anchor="start" xml:space="preserve" >10</text>
<text transform="translate(1005.50,265.00) scale(0.86,1)" font-size="14" text-anchor="start" xml:space="preserve" >-12</text>
<text transform="translate(992.30,341.00) scale(0.86,1)" font-size="14" text-anchor="start" xml:space="preserve" >10</text>
<text transform="translate(1005.50,335.00) scale(0.86,1)" font-size="14" text-anchor="start" xml:space="preserve" >-14</text>
<text transform="translate(992.30,411.00) scale(0.86,1)" font-size="14" text-anchor="start" xml:space="preserve" >10</text>
<text transform="translate(1005.50,405.00) scale(0.86,1)" font-size="14" text-anchor="start" xml:space="preserve" >-16</text>
<text transform="translate(992.30,466.00) scale(0.86,1)" font-size="14" text-anchor="start" xml:space="preserve" >10</text>
<text transform="translate(1005.50,460.00) scale(0.86,1)" font-size="14" text-anchor="start" xml:space="preserve" >-10</text>
<text transform="translate(992.30,504.00) scale(0.86,1)" font-size="14" text-anchor="start" xml:space="preserve" >10</text>
<text transform="translate(1005.50,498.00) scale(0.86,1)" font-size="14" text-anchor="start" xml:space="preserve" >-15</text>
<text transform="translate(1049,228) rotate(-90) scale(0.93,1)" font-size="14" text-anchor="middle">Ex (V<tspan dy="-6">2</tspan><tspan dy="6"> m</tspan><tspan dy="-6">-2</tspan><tspan dy="6"> Hz</tspan><tspan dy="-6">-1</tspan><tspan dy="6">)</tspan></text>
<text transform="translate(1042,466) rotate(-90) scale(0.93,1)" font-size="14" text-anchor="middle">LFC Ex</text>
</svg></body></html>
